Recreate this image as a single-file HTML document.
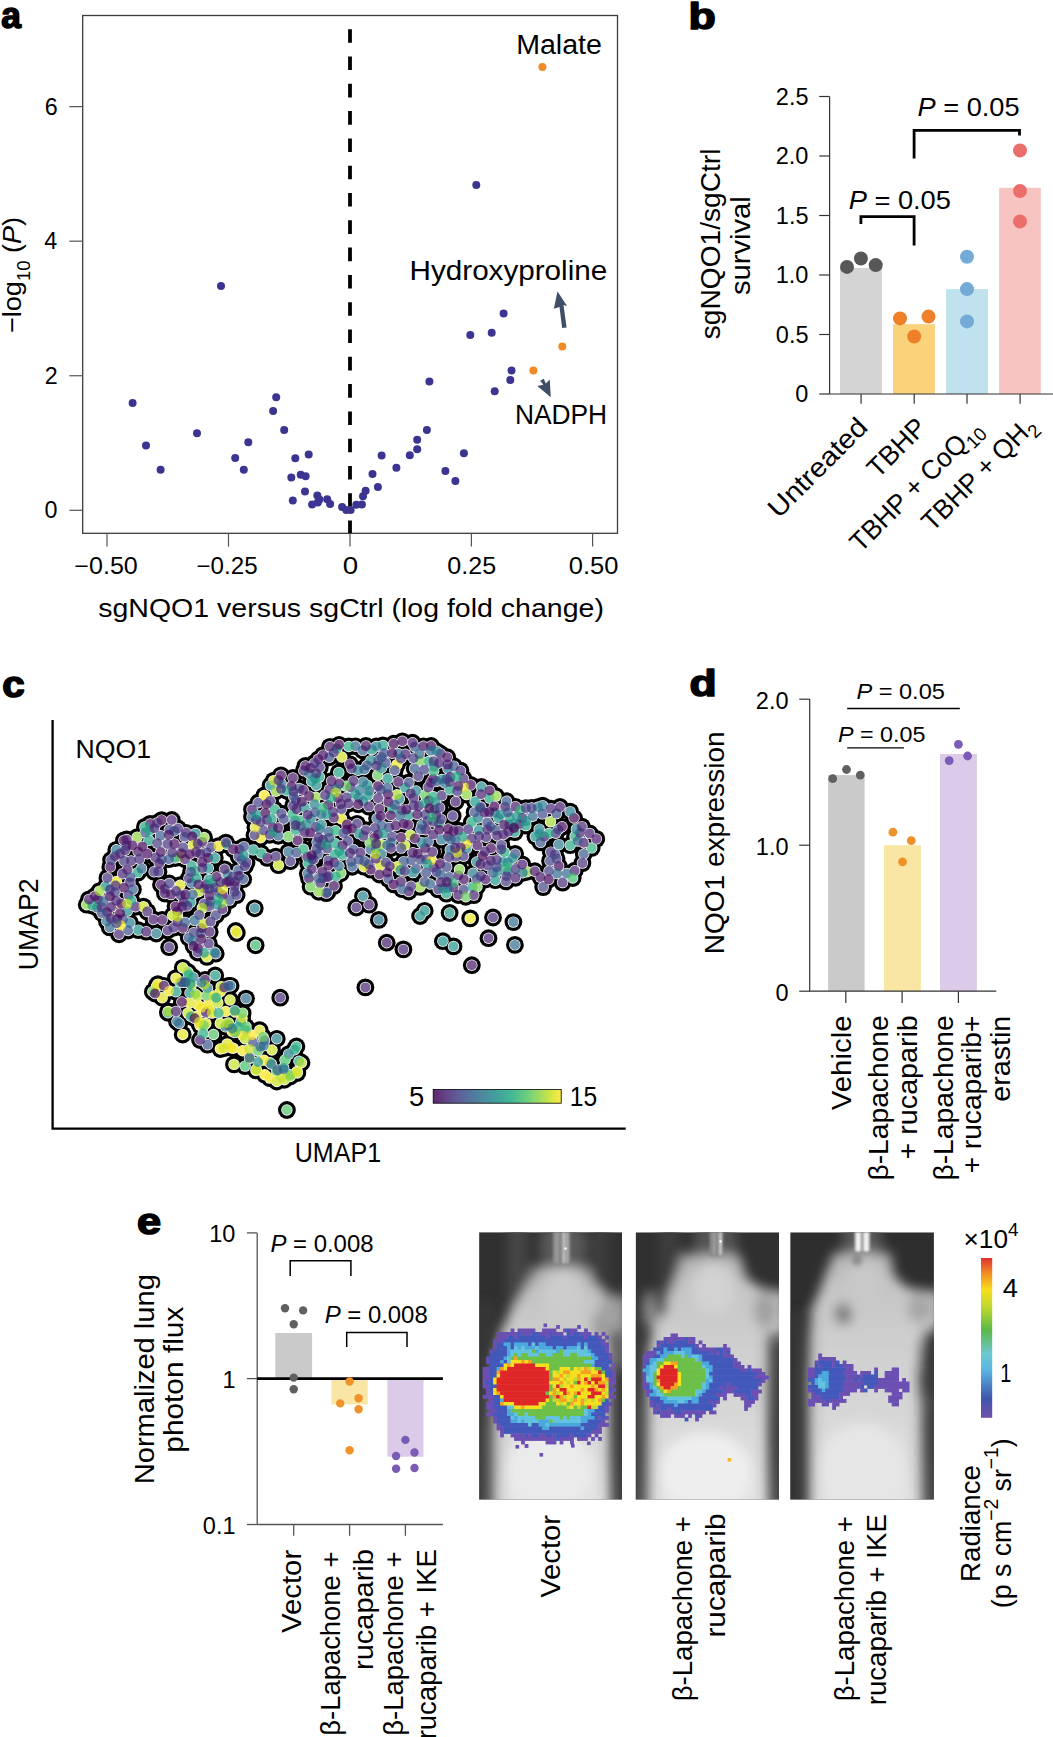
<!DOCTYPE html>
<html><head><meta charset="utf-8"><style>
html,body{margin:0;padding:0;background:#fff;}
svg{display:block;font-family:"Liberation Sans",sans-serif;}
</style></head><body>
<svg width="1053" height="1737" viewBox="0 0 1053 1737">
<defs><filter id="bl6" filterUnits="userSpaceOnUse" x="-100" y="-100" width="400" height="500"><feGaussianBlur stdDeviation="6"/></filter><filter id="bl3" filterUnits="userSpaceOnUse" x="-100" y="-100" width="400" height="500"><feGaussianBlur stdDeviation="3"/></filter><filter id="bl1" filterUnits="userSpaceOnUse" x="-100" y="-100" width="400" height="500"><feGaussianBlur stdDeviation="1"/></filter><clipPath id="cm0"><rect x="479.1" y="1232.2" width="142.9" height="267.4"/></clipPath><clipPath id="cm1"><rect x="635.6" y="1232.3" width="143.4" height="267.3"/></clipPath><clipPath id="cm2"><rect x="790.2" y="1232.3" width="143.7" height="267.3"/></clipPath><linearGradient id="bodyg" x1="0" y1="0" x2="0" y2="1"><stop offset="0.0" stop-color="#b0b0b0"/><stop offset="0.12" stop-color="#c4c4c4"/><stop offset="0.3" stop-color="#cdcdcd"/><stop offset="0.55" stop-color="#d5d5d5"/><stop offset="0.8" stop-color="#dedede"/><stop offset="1" stop-color="#e6e6e6"/></linearGradient><linearGradient id="edgeL" x1="0" y1="0" x2="1" y2="0"><stop offset="0" stop-color="#3a3a3a" stop-opacity="0.95"/><stop offset="1" stop-color="#3a3a3a" stop-opacity="0"/></linearGradient><linearGradient id="edgeR" x1="1" y1="0" x2="0" y2="0"><stop offset="0" stop-color="#3a3a3a" stop-opacity="0.95"/><stop offset="1" stop-color="#3a3a3a" stop-opacity="0"/></linearGradient><linearGradient id="rad" x1="0" y1="1" x2="0" y2="0"><stop offset="0" stop-color="#7050a8"/><stop offset="0.12" stop-color="#3f55ad"/><stop offset="0.3" stop-color="#5ab6e2"/><stop offset="0.4" stop-color="#6cc8d0"/><stop offset="0.55" stop-color="#5cb848"/><stop offset="0.68" stop-color="#b6d630"/><stop offset="0.8" stop-color="#f7df1e"/><stop offset="0.9" stop-color="#f39022"/><stop offset="1" stop-color="#e03131"/></linearGradient><linearGradient id="virg" x1="0" y1="0" x2="1" y2="0"><stop offset="0.0" stop-color="#440154"/><stop offset="0.1" stop-color="#482475"/><stop offset="0.2" stop-color="#414487"/><stop offset="0.3" stop-color="#355f8d"/><stop offset="0.4" stop-color="#2a788e"/><stop offset="0.5" stop-color="#21918c"/><stop offset="0.6" stop-color="#22a884"/><stop offset="0.7" stop-color="#44bf70"/><stop offset="0.8" stop-color="#7ad151"/><stop offset="0.9" stop-color="#bddf26"/><stop offset="1.0" stop-color="#fde725"/></linearGradient></defs>
<rect width="1053" height="1737" fill="#fff"/>
<text transform="translate(1.24,28.10) scale(0.9682,1)" font-size="36.50" font-weight="bold" stroke="#000" stroke-width="1.6" stroke-linejoin="round">a</text>
<rect x="82.7" y="15.5" width="534.8" height="517.8" fill="none" stroke="#3c3c3c" stroke-width="1.3"/>
<line x1="350" y1="29.2" x2="350" y2="533.3" stroke="#000" stroke-width="3.8" stroke-dasharray="13.6 13.7"/>
<line x1="69.3" y1="510.30" x2="82.7" y2="510.30" stroke="#555" stroke-width="1.2"/>
<text transform="translate(44.53,518.40) scale(1.0000,1)" font-size="23.30">0</text>
<line x1="69.3" y1="375.74" x2="82.7" y2="375.74" stroke="#555" stroke-width="1.2"/>
<text transform="translate(44.81,383.84) scale(1.0000,1)" font-size="23.30">2</text>
<line x1="69.3" y1="241.18" x2="82.7" y2="241.18" stroke="#555" stroke-width="1.2"/>
<text transform="translate(44.30,249.28) scale(1.0000,1)" font-size="23.30">4</text>
<line x1="69.3" y1="106.62" x2="82.7" y2="106.62" stroke="#555" stroke-width="1.2"/>
<text transform="translate(44.67,114.72) scale(1.0000,1)" font-size="23.30">6</text>
<line x1="107.0" y1="533.3" x2="107.0" y2="546.6" stroke="#555" stroke-width="1.2"/>
<text transform="translate(74.34,574.40) scale(1.0774,1)" font-size="23.30">−0.50</text>
<line x1="228.5" y1="533.3" x2="228.5" y2="546.6" stroke="#555" stroke-width="1.2"/>
<text transform="translate(196.49,574.40) scale(1.0369,1)" font-size="23.30">−0.25</text>
<line x1="350.0" y1="533.3" x2="350.0" y2="546.6" stroke="#555" stroke-width="1.2"/>
<text transform="translate(342.85,574.40) scale(1.1892,1)" font-size="23.30">0</text>
<line x1="471.4" y1="533.3" x2="471.4" y2="546.6" stroke="#555" stroke-width="1.2"/>
<text transform="translate(447.35,574.40) scale(1.0764,1)" font-size="23.30">0.25</text>
<line x1="592.6" y1="533.3" x2="592.6" y2="546.6" stroke="#555" stroke-width="1.2"/>
<text transform="translate(568.73,574.40) scale(1.0948,1)" font-size="23.30">0.50</text>
<text transform="translate(98.20,617.30) scale(1.1063,1)" font-size="25.80">sgNQO1 versus sgCtrl (log fold change)</text>
<text transform="translate(21.20,333.05) rotate(-90) scale(1.0420,1)" font-size="26.00" xml:space="preserve"><tspan x="0.00" y="0.00">−log</tspan><tspan x="49.88" y="8.58" font-size="17.68">10</tspan><tspan x="69.55" y="0.00"> (</tspan><tspan x="85.43" y="0.00" font-style="italic">P</tspan><tspan x="102.77" y="0.00">)</tspan></text>
<circle cx="132.6" cy="403.0" r="4" fill="#3b3591"/>
<circle cx="146.0" cy="445.5" r="4" fill="#3b3591"/>
<circle cx="160.6" cy="469.7" r="4" fill="#3b3591"/>
<circle cx="197.0" cy="433.2" r="4" fill="#3b3591"/>
<circle cx="235.2" cy="458.0" r="4" fill="#3b3591"/>
<circle cx="243.8" cy="469.7" r="4" fill="#3b3591"/>
<circle cx="248.3" cy="442.3" r="4" fill="#3b3591"/>
<circle cx="273.1" cy="411.0" r="4" fill="#3b3591"/>
<circle cx="276.2" cy="397.3" r="4" fill="#3b3591"/>
<circle cx="284.2" cy="430.1" r="4" fill="#3b3591"/>
<circle cx="295.3" cy="458.3" r="4" fill="#3b3591"/>
<circle cx="308.7" cy="454.6" r="4" fill="#3b3591"/>
<circle cx="291.3" cy="477.4" r="4" fill="#3b3591"/>
<circle cx="300.7" cy="474.8" r="4" fill="#3b3591"/>
<circle cx="305.6" cy="476.2" r="4" fill="#3b3591"/>
<circle cx="305.0" cy="491.6" r="4" fill="#3b3591"/>
<circle cx="292.8" cy="500.5" r="4" fill="#3b3591"/>
<circle cx="317.3" cy="495.6" r="4" fill="#3b3591"/>
<circle cx="319.4" cy="499.6" r="4" fill="#3b3591"/>
<circle cx="317.8" cy="502.6" r="4" fill="#3b3591"/>
<circle cx="312.1" cy="504.4" r="4" fill="#3b3591"/>
<circle cx="327.2" cy="499.3" r="4" fill="#3b3591"/>
<circle cx="330.1" cy="503.9" r="4" fill="#3b3591"/>
<circle cx="342.1" cy="507.0" r="4" fill="#3b3591"/>
<circle cx="346.3" cy="510.1" r="4" fill="#3b3591"/>
<circle cx="350.6" cy="510.1" r="4" fill="#3b3591"/>
<circle cx="356.3" cy="504.7" r="4" fill="#3b3591"/>
<circle cx="361.9" cy="504.4" r="4" fill="#3b3591"/>
<circle cx="363.0" cy="496.2" r="4" fill="#3b3591"/>
<circle cx="365.6" cy="490.8" r="4" fill="#3b3591"/>
<circle cx="377.9" cy="487.1" r="4" fill="#3b3591"/>
<circle cx="372.5" cy="474.0" r="4" fill="#3b3591"/>
<circle cx="381.6" cy="455.4" r="4" fill="#3b3591"/>
<circle cx="396.4" cy="467.7" r="4" fill="#3b3591"/>
<circle cx="409.8" cy="455.2" r="4" fill="#3b3591"/>
<circle cx="417.2" cy="449.2" r="4" fill="#3b3591"/>
<circle cx="417.2" cy="439.8" r="4" fill="#3b3591"/>
<circle cx="426.9" cy="430.1" r="4" fill="#3b3591"/>
<circle cx="429.4" cy="381.4" r="4" fill="#3b3591"/>
<circle cx="445.4" cy="471.1" r="4" fill="#3b3591"/>
<circle cx="455.4" cy="481.1" r="4" fill="#3b3591"/>
<circle cx="463.9" cy="453.2" r="4" fill="#3b3591"/>
<circle cx="494.7" cy="391.3" r="4" fill="#3b3591"/>
<circle cx="510.3" cy="379.9" r="4" fill="#3b3591"/>
<circle cx="511.5" cy="370.5" r="4" fill="#3b3591"/>
<circle cx="221.0" cy="286.0" r="4" fill="#3b3591"/>
<circle cx="476.3" cy="185.0" r="4" fill="#3b3591"/>
<circle cx="503.6" cy="313.4" r="4" fill="#3b3591"/>
<circle cx="470.3" cy="335.0" r="4" fill="#3b3591"/>
<circle cx="491.7" cy="332.8" r="4" fill="#3b3591"/>
<circle cx="542.4" cy="67.1" r="4" fill="#f08a24"/>
<circle cx="562.3" cy="346.4" r="4" fill="#f08a24"/>
<circle cx="533.4" cy="370.5" r="4" fill="#f08a24"/>
<text transform="translate(516.16,54.40) scale(1.0393,1)" font-size="27.50">Malate</text>
<text transform="translate(409.57,280.40) scale(1.0780,1)" font-size="27.50">Hydroxyproline</text>
<text transform="translate(514.94,423.70) scale(0.9581,1)" font-size="27.50">NADPH</text>
<polygon points="557.5,291.4 567.1,305.9 563.5,305.1 566.6,327.4 562.1,328 559.5,307.1 553.8,308.7" fill="#3e4f67"/>
<polygon points="540.1,380.8 543.8,378.8 545.8,383.6 549.7,379.4 550.8,397.2 537.3,386 543.4,384.8" fill="#3e4f67"/>
<text transform="translate(688.45,29.30) scale(1.2231,1)" font-size="36.50" font-weight="bold" stroke="#000" stroke-width="1.6" stroke-linejoin="round">b</text>
<line x1="819.2" y1="394.00" x2="829.6" y2="394.00" stroke="#333" stroke-width="1.2"/>
<text transform="translate(795.33,402.30) scale(1.0000,1)" font-size="23.50">0</text>
<line x1="819.2" y1="334.50" x2="829.6" y2="334.50" stroke="#333" stroke-width="1.2"/>
<text transform="translate(775.82,342.80) scale(1.0000,1)" font-size="23.50">0.5</text>
<line x1="819.2" y1="275.00" x2="829.6" y2="275.00" stroke="#333" stroke-width="1.2"/>
<text transform="translate(775.73,283.30) scale(1.0000,1)" font-size="23.50">1.0</text>
<line x1="819.2" y1="215.50" x2="829.6" y2="215.50" stroke="#333" stroke-width="1.2"/>
<text transform="translate(775.82,223.80) scale(1.0000,1)" font-size="23.50">1.5</text>
<line x1="819.2" y1="156.00" x2="829.6" y2="156.00" stroke="#333" stroke-width="1.2"/>
<text transform="translate(775.73,164.30) scale(1.0000,1)" font-size="23.50">2.0</text>
<line x1="819.2" y1="96.50" x2="829.6" y2="96.50" stroke="#333" stroke-width="1.2"/>
<text transform="translate(775.82,104.80) scale(1.0000,1)" font-size="23.50">2.5</text>
<rect x="840" y="268.0" width="41.9" height="126.0" fill="#d4d4d4"/>
<rect x="893" y="324.2" width="41.9" height="69.8" fill="#f9d27a"/>
<rect x="946.1" y="289.1" width="41.9" height="104.9" fill="#bfe2ee"/>
<rect x="999.1" y="187.8" width="41.7" height="206.2" fill="#f8c4c2"/>
<line x1="829.6" y1="96.4" x2="829.6" y2="394.0" stroke="#333" stroke-width="1.2"/>
<line x1="829.6" y1="394.0" x2="1053" y2="394.0" stroke="#333" stroke-width="1.2"/>
<line x1="861.1" y1="394.0" x2="861.1" y2="403.8" stroke="#333" stroke-width="1.2"/>
<line x1="914.2" y1="394.0" x2="914.2" y2="403.8" stroke="#333" stroke-width="1.2"/>
<line x1="967" y1="394.0" x2="967" y2="403.8" stroke="#333" stroke-width="1.2"/>
<line x1="1020.1" y1="394.0" x2="1020.1" y2="403.8" stroke="#333" stroke-width="1.2"/>
<circle cx="847" cy="266.9" r="7" fill="#575757"/>
<circle cx="860.9" cy="258.5" r="7" fill="#575757"/>
<circle cx="875.7" cy="265.1" r="7" fill="#575757"/>
<circle cx="900" cy="318.4" r="7" fill="#ee8029"/>
<circle cx="928.5" cy="316.6" r="7" fill="#ee8029"/>
<circle cx="914.2" cy="336.5" r="7" fill="#ee8029"/>
<circle cx="967" cy="256.8" r="7" fill="#74aad6"/>
<circle cx="967" cy="289.1" r="7" fill="#74aad6"/>
<circle cx="967" cy="321.4" r="7" fill="#74aad6"/>
<circle cx="1020" cy="150.4" r="7" fill="#ec6e6b"/>
<circle cx="1020" cy="191" r="7" fill="#ec6e6b"/>
<circle cx="1020" cy="221.4" r="7" fill="#ec6e6b"/>
<path d="M860.9,223.9 V216.7 H914.1 V245.4" fill="none" stroke="#000" stroke-width="2.8"/>
<path d="M914.1,158.4 V130.3 H1019.5 V135.6" fill="none" stroke="#000" stroke-width="2.8"/>
<text transform="translate(848.68,208.70) scale(1.0282,1)" font-size="26.50" xml:space="preserve"><tspan x="0.00" y="0.00" font-style="italic">P</tspan><tspan x="17.68" y="0.00"> = 0.05</tspan></text>
<text transform="translate(917.48,116.20) scale(1.0272,1)" font-size="26.50" xml:space="preserve"><tspan x="0.00" y="0.00" font-style="italic">P</tspan><tspan x="17.68" y="0.00"> = 0.05</tspan></text>
<text transform="translate(720.00,339.19) rotate(-90) scale(1.0420,1)" font-size="27.00">sgNQO1/sgCtrl</text>
<text transform="translate(749.60,295.02) rotate(-90) scale(1.0799,1)" font-size="27.00">survival</text>
<g clip-path="url(#cm0)"><g transform="translate(479.1,1232.2)"><rect width="143" height="268" fill="#303030"/><g filter="url(#bl6)"><rect x="28" y="-10" width="20" height="115" fill="#474747"/><rect x="112" y="-10" width="18" height="70" fill="#3c3c3c"/><ellipse cx="84" cy="14" rx="24" ry="26" fill="#5a5a5a"/><path d="M116,60 L150,64 L150,140 L126,130 Z" fill="#8c8c8c"/><path d="M8,285 L8,200 L12,130 L20,100 L32,80 L44,60 L52,44 L56,34 L108,34 L114,50 L126,62 L134,72 L132,110 L134,124 L134,200 L136,285 Z" fill="url(#bodyg)"/><ellipse cx="84" cy="62" rx="20" ry="26" fill="#cccccc"/><ellipse cx="130" cy="86" rx="12" ry="22" fill="#a2a2a2"/><ellipse cx="117" cy="96" rx="3" ry="14" fill="#858585"/><ellipse cx="70" cy="238" rx="44" ry="40" fill="#ebebeb"/></g><rect x="0" y="70" width="24" height="210" fill="url(#edgeL)" filter="url(#bl6)"/><rect x="124" y="100" width="20" height="180" fill="url(#edgeR)" filter="url(#bl6)"/><rect x="73.7" y="-4" width="17.5" height="36" fill="#8a8a8a" filter="url(#bl1)"/><rect x="77" y="0" width="1.5" height="31" fill="#aaaaaa" filter="url(#bl1)"/><rect x="83.8" y="0" width="2" height="31" fill="#d4d4d4" filter="url(#bl1)"/><rect x="87.2" y="0" width="1.6" height="31" fill="#c0c0c0" filter="url(#bl1)"/><circle cx="86.4" cy="16.4" r="1.4" fill="#f0f0f0"/></g></g>
<g clip-path="url(#cm1)"><g transform="translate(635.6,1232.3)"><rect width="144" height="268" fill="#303030"/><g filter="url(#bl6)"><rect x="24" y="-10" width="20" height="100" fill="#3c3c3c"/><ellipse cx="80" cy="8" rx="22" ry="22" fill="#555"/><path d="M6,285 L7,170 L10,112 L18,98 L24,78 L34,62 L42,40 L47,22 L104,22 L111,46 L126,56 L150,60 L150,100 L138,112 L136,200 L138,285 Z" fill="url(#bodyg)"/><ellipse cx="78" cy="56" rx="22" ry="26" fill="#d2d2d2"/><ellipse cx="14" cy="80" rx="7" ry="22" fill="#8e8e8e"/><ellipse cx="28" cy="70" rx="4" ry="16" fill="#5a5a5a"/><ellipse cx="130" cy="78" rx="12" ry="18" fill="#a0a0a0"/><ellipse cx="70" cy="240" rx="46" ry="40" fill="#eeeeee"/></g><rect x="0" y="90" width="20" height="190" fill="url(#edgeL)" filter="url(#bl6)"/><rect x="126" y="100" width="18" height="180" fill="url(#edgeR)" filter="url(#bl6)"/><rect x="74" y="-4" width="13.5" height="28" fill="#8a8a8a" filter="url(#bl1)"/><rect x="83.5" y="0" width="2.4" height="23" fill="#d0d0d0" filter="url(#bl1)"/><rect x="78" y="0" width="1.4" height="23" fill="#aaaaaa" filter="url(#bl1)"/><circle cx="85" cy="9.2" r="1.4" fill="#f0f0f0"/></g></g>
<g clip-path="url(#cm2)"><g transform="translate(790.2,1232.3)"><rect width="144" height="268" fill="#2e2e2e"/><g filter="url(#bl6)"><ellipse cx="72" cy="6" rx="20" ry="20" fill="#5a5a5a"/><path d="M16,285 L15,150 L17,104 L20,80 L28,62 L36,40 L44,20 L100,20 L104,44 L118,56 L150,60 L150,94 L138,100 L136,200 L138,285 Z" fill="url(#bodyg)"/><ellipse cx="74" cy="50" rx="20" ry="24" fill="#c8c8c8"/><ellipse cx="53" cy="82" rx="9" ry="11" fill="#7a7a7a"/><ellipse cx="130" cy="76" rx="13" ry="15" fill="#a6a6a6"/><ellipse cx="138" cy="135" rx="10" ry="38" fill="#3c3c3c"/><ellipse cx="72" cy="235" rx="44" ry="44" fill="#e6e6e6"/></g><rect x="0" y="80" width="28" height="200" fill="url(#edgeL)" filter="url(#bl6)"/><rect x="124" y="140" width="20" height="140" fill="url(#edgeR)" filter="url(#bl6)"/><ellipse cx="67" cy="28" rx="4" ry="5" fill="#707070" filter="url(#bl3)"/><rect x="64" y="-4" width="16" height="23" fill="#a0a0a0" filter="url(#bl1)"/><rect x="65.7" y="0" width="4.7" height="19" fill="#f4f4f4" filter="url(#bl1)"/><rect x="73.6" y="0" width="4.8" height="19" fill="#f4f4f4" filter="url(#bl1)"/></g></g>
<rect x="727.6" y="1458" width="3.5" height="3.5" fill="#f6b81d"/>
<rect x="556.10" y="1325.00" width="3.80" height="3.90" fill="#6b4fb3"/>
<rect x="577.10" y="1325.00" width="3.80" height="3.90" fill="#6b4fb3"/>
<rect x="510.60" y="1328.50" width="3.80" height="3.90" fill="#6b4fb3"/>
<rect x="517.60" y="1328.50" width="17.80" height="3.90" fill="#6b4fb3"/>
<rect x="542.10" y="1328.50" width="14.30" height="3.90" fill="#6b4fb3"/>
<rect x="563.10" y="1328.50" width="3.80" height="3.90" fill="#6b4fb3"/>
<rect x="566.60" y="1328.50" width="3.80" height="3.90" fill="#4259bb"/>
<rect x="570.10" y="1328.50" width="7.30" height="3.90" fill="#6b4fb3"/>
<rect x="584.10" y="1328.50" width="3.80" height="3.90" fill="#6b4fb3"/>
<rect x="496.60" y="1332.00" width="21.30" height="3.90" fill="#6b4fb3"/>
<rect x="517.60" y="1332.00" width="3.80" height="3.90" fill="#4259bb"/>
<rect x="521.10" y="1332.00" width="10.80" height="3.90" fill="#6b4fb3"/>
<rect x="531.60" y="1332.00" width="7.30" height="3.90" fill="#4259bb"/>
<rect x="538.60" y="1332.00" width="10.80" height="3.90" fill="#6b4fb3"/>
<rect x="549.10" y="1332.00" width="3.80" height="3.90" fill="#4259bb"/>
<rect x="552.60" y="1332.00" width="10.80" height="3.90" fill="#6b4fb3"/>
<rect x="566.60" y="1332.00" width="3.80" height="3.90" fill="#4259bb"/>
<rect x="570.10" y="1332.00" width="3.80" height="3.90" fill="#6b4fb3"/>
<rect x="573.60" y="1332.00" width="7.30" height="3.90" fill="#4259bb"/>
<rect x="580.60" y="1332.00" width="10.80" height="3.90" fill="#6b4fb3"/>
<rect x="594.60" y="1332.00" width="3.80" height="3.90" fill="#6b4fb3"/>
<rect x="601.60" y="1332.00" width="3.80" height="3.90" fill="#6b4fb3"/>
<rect x="496.60" y="1335.50" width="10.80" height="3.90" fill="#6b4fb3"/>
<rect x="507.10" y="1335.50" width="7.30" height="3.90" fill="#4259bb"/>
<rect x="514.10" y="1335.50" width="3.80" height="3.90" fill="#6b4fb3"/>
<rect x="517.60" y="1335.50" width="28.30" height="3.90" fill="#4259bb"/>
<rect x="545.60" y="1335.50" width="3.80" height="3.90" fill="#6b4fb3"/>
<rect x="549.10" y="1335.50" width="14.30" height="3.90" fill="#4259bb"/>
<rect x="563.10" y="1335.50" width="3.80" height="3.90" fill="#6b4fb3"/>
<rect x="566.60" y="1335.50" width="17.80" height="3.90" fill="#4259bb"/>
<rect x="584.10" y="1335.50" width="3.80" height="3.90" fill="#6b4fb3"/>
<rect x="587.60" y="1335.50" width="10.80" height="3.90" fill="#4259bb"/>
<rect x="598.10" y="1335.50" width="3.80" height="3.90" fill="#6b4fb3"/>
<rect x="605.10" y="1335.50" width="3.80" height="3.90" fill="#6b4fb3"/>
<rect x="493.10" y="1339.00" width="10.80" height="3.90" fill="#6b4fb3"/>
<rect x="503.60" y="1339.00" width="98.30" height="3.90" fill="#4259bb"/>
<rect x="601.60" y="1339.00" width="3.80" height="3.90" fill="#6b4fb3"/>
<rect x="493.10" y="1342.50" width="3.80" height="3.90" fill="#6b4fb3"/>
<rect x="496.60" y="1342.50" width="7.30" height="3.90" fill="#4259bb"/>
<rect x="503.60" y="1342.50" width="7.30" height="3.90" fill="#4aa8dc"/>
<rect x="510.60" y="1342.50" width="3.80" height="3.90" fill="#4259bb"/>
<rect x="514.10" y="1342.50" width="14.30" height="3.90" fill="#4aa8dc"/>
<rect x="528.10" y="1342.50" width="3.80" height="3.90" fill="#4259bb"/>
<rect x="531.60" y="1342.50" width="3.80" height="3.90" fill="#62c3e0"/>
<rect x="535.10" y="1342.50" width="3.80" height="3.90" fill="#4259bb"/>
<rect x="538.60" y="1342.50" width="7.30" height="3.90" fill="#4aa8dc"/>
<rect x="545.60" y="1342.50" width="31.80" height="3.90" fill="#4259bb"/>
<rect x="577.10" y="1342.50" width="3.80" height="3.90" fill="#4aa8dc"/>
<rect x="580.60" y="1342.50" width="3.80" height="3.90" fill="#4259bb"/>
<rect x="584.10" y="1342.50" width="3.80" height="3.90" fill="#4aa8dc"/>
<rect x="587.60" y="1342.50" width="14.30" height="3.90" fill="#4259bb"/>
<rect x="601.60" y="1342.50" width="7.30" height="3.90" fill="#6b4fb3"/>
<rect x="493.10" y="1346.00" width="3.80" height="3.90" fill="#6b4fb3"/>
<rect x="496.60" y="1346.00" width="10.80" height="3.90" fill="#4259bb"/>
<rect x="507.10" y="1346.00" width="3.80" height="3.90" fill="#4aa8dc"/>
<rect x="510.60" y="1346.00" width="3.80" height="3.90" fill="#4259bb"/>
<rect x="514.10" y="1346.00" width="3.80" height="3.90" fill="#62c3e0"/>
<rect x="517.60" y="1346.00" width="3.80" height="3.90" fill="#4aa8dc"/>
<rect x="521.10" y="1346.00" width="3.80" height="3.90" fill="#62c3e0"/>
<rect x="524.60" y="1346.00" width="10.80" height="3.90" fill="#4aa8dc"/>
<rect x="535.10" y="1346.00" width="3.80" height="3.90" fill="#62c3e0"/>
<rect x="538.60" y="1346.00" width="14.30" height="3.90" fill="#4aa8dc"/>
<rect x="552.60" y="1346.00" width="3.80" height="3.90" fill="#4259bb"/>
<rect x="556.10" y="1346.00" width="7.30" height="3.90" fill="#4aa8dc"/>
<rect x="563.10" y="1346.00" width="3.80" height="3.90" fill="#4259bb"/>
<rect x="566.60" y="1346.00" width="10.80" height="3.90" fill="#4aa8dc"/>
<rect x="577.10" y="1346.00" width="3.80" height="3.90" fill="#62c3e0"/>
<rect x="580.60" y="1346.00" width="3.80" height="3.90" fill="#4259bb"/>
<rect x="584.10" y="1346.00" width="3.80" height="3.90" fill="#62c3e0"/>
<rect x="587.60" y="1346.00" width="17.80" height="3.90" fill="#4259bb"/>
<rect x="605.10" y="1346.00" width="3.80" height="3.90" fill="#6b4fb3"/>
<rect x="489.60" y="1349.50" width="3.80" height="3.90" fill="#6b4fb3"/>
<rect x="493.10" y="1349.50" width="14.30" height="3.90" fill="#4259bb"/>
<rect x="507.10" y="1349.50" width="3.80" height="3.90" fill="#4aa8dc"/>
<rect x="510.60" y="1349.50" width="21.30" height="3.90" fill="#62c3e0"/>
<rect x="531.60" y="1349.50" width="3.80" height="3.90" fill="#6cbf47"/>
<rect x="535.10" y="1349.50" width="3.80" height="3.90" fill="#4aa8dc"/>
<rect x="538.60" y="1349.50" width="17.80" height="3.90" fill="#62c3e0"/>
<rect x="556.10" y="1349.50" width="3.80" height="3.90" fill="#4aa8dc"/>
<rect x="559.60" y="1349.50" width="3.80" height="3.90" fill="#6cbf47"/>
<rect x="563.10" y="1349.50" width="24.80" height="3.90" fill="#62c3e0"/>
<rect x="587.60" y="1349.50" width="3.80" height="3.90" fill="#4aa8dc"/>
<rect x="591.10" y="1349.50" width="14.30" height="3.90" fill="#4259bb"/>
<rect x="605.10" y="1349.50" width="3.80" height="3.90" fill="#6b4fb3"/>
<rect x="489.60" y="1353.00" width="17.80" height="3.90" fill="#4259bb"/>
<rect x="507.10" y="1353.00" width="3.80" height="3.90" fill="#4aa8dc"/>
<rect x="510.60" y="1353.00" width="3.80" height="3.90" fill="#62c3e0"/>
<rect x="514.10" y="1353.00" width="3.80" height="3.90" fill="#6cbf47"/>
<rect x="517.60" y="1353.00" width="3.80" height="3.90" fill="#62c3e0"/>
<rect x="521.10" y="1353.00" width="7.30" height="3.90" fill="#6cbf47"/>
<rect x="528.10" y="1353.00" width="10.80" height="3.90" fill="#62c3e0"/>
<rect x="538.60" y="1353.00" width="7.30" height="3.90" fill="#6cbf47"/>
<rect x="545.60" y="1353.00" width="7.30" height="3.90" fill="#62c3e0"/>
<rect x="552.60" y="1353.00" width="10.80" height="3.90" fill="#6cbf47"/>
<rect x="563.10" y="1353.00" width="7.30" height="3.90" fill="#62c3e0"/>
<rect x="570.10" y="1353.00" width="7.30" height="3.90" fill="#6cbf47"/>
<rect x="577.10" y="1353.00" width="14.30" height="3.90" fill="#62c3e0"/>
<rect x="591.10" y="1353.00" width="3.80" height="3.90" fill="#4aa8dc"/>
<rect x="594.60" y="1353.00" width="14.30" height="3.90" fill="#4259bb"/>
<rect x="608.60" y="1353.00" width="3.80" height="3.90" fill="#6b4fb3"/>
<rect x="486.10" y="1356.50" width="3.80" height="3.90" fill="#6b4fb3"/>
<rect x="489.60" y="1356.50" width="14.30" height="3.90" fill="#4259bb"/>
<rect x="503.60" y="1356.50" width="3.80" height="3.90" fill="#4aa8dc"/>
<rect x="507.10" y="1356.50" width="3.80" height="3.90" fill="#62c3e0"/>
<rect x="510.60" y="1356.50" width="3.80" height="3.90" fill="#6cbf47"/>
<rect x="514.10" y="1356.50" width="3.80" height="3.90" fill="#f4a21f"/>
<rect x="517.60" y="1356.50" width="73.80" height="3.90" fill="#6cbf47"/>
<rect x="591.10" y="1356.50" width="7.30" height="3.90" fill="#4aa8dc"/>
<rect x="598.10" y="1356.50" width="10.80" height="3.90" fill="#4259bb"/>
<rect x="608.60" y="1356.50" width="3.80" height="3.90" fill="#6b4fb3"/>
<rect x="486.10" y="1360.00" width="3.80" height="3.90" fill="#6b4fb3"/>
<rect x="489.60" y="1360.00" width="10.80" height="3.90" fill="#4259bb"/>
<rect x="500.10" y="1360.00" width="3.80" height="3.90" fill="#4aa8dc"/>
<rect x="503.60" y="1360.00" width="3.80" height="3.90" fill="#4259bb"/>
<rect x="507.10" y="1360.00" width="3.80" height="3.90" fill="#62c3e0"/>
<rect x="510.60" y="1360.00" width="10.80" height="3.90" fill="#f6df1d"/>
<rect x="521.10" y="1360.00" width="3.80" height="3.90" fill="#f4a21f"/>
<rect x="524.60" y="1360.00" width="3.80" height="3.90" fill="#f6df1d"/>
<rect x="528.10" y="1360.00" width="3.80" height="3.90" fill="#f4a21f"/>
<rect x="531.60" y="1360.00" width="52.80" height="3.90" fill="#6cbf47"/>
<rect x="584.10" y="1360.00" width="10.80" height="3.90" fill="#62c3e0"/>
<rect x="594.60" y="1360.00" width="17.80" height="3.90" fill="#4259bb"/>
<rect x="489.60" y="1363.50" width="14.30" height="3.90" fill="#4259bb"/>
<rect x="503.60" y="1363.50" width="3.80" height="3.90" fill="#f6df1d"/>
<rect x="507.10" y="1363.50" width="3.80" height="3.90" fill="#f4a21f"/>
<rect x="510.60" y="1363.50" width="3.80" height="3.90" fill="#f6df1d"/>
<rect x="514.10" y="1363.50" width="21.30" height="3.90" fill="#e02727"/>
<rect x="535.10" y="1363.50" width="14.30" height="3.90" fill="#f6df1d"/>
<rect x="549.10" y="1363.50" width="42.30" height="3.90" fill="#6cbf47"/>
<rect x="591.10" y="1363.50" width="3.80" height="3.90" fill="#4aa8dc"/>
<rect x="594.60" y="1363.50" width="14.30" height="3.90" fill="#4259bb"/>
<rect x="612.10" y="1363.50" width="3.80" height="3.90" fill="#6b4fb3"/>
<rect x="482.60" y="1367.00" width="7.30" height="3.90" fill="#6b4fb3"/>
<rect x="489.60" y="1367.00" width="7.30" height="3.90" fill="#4259bb"/>
<rect x="496.60" y="1367.00" width="3.80" height="3.90" fill="#4aa8dc"/>
<rect x="500.10" y="1367.00" width="3.80" height="3.90" fill="#f4a21f"/>
<rect x="503.60" y="1367.00" width="3.80" height="3.90" fill="#f6df1d"/>
<rect x="507.10" y="1367.00" width="38.80" height="3.90" fill="#e02727"/>
<rect x="545.60" y="1367.00" width="3.80" height="3.90" fill="#f6df1d"/>
<rect x="549.10" y="1367.00" width="10.80" height="3.90" fill="#6cbf47"/>
<rect x="559.60" y="1367.00" width="10.80" height="3.90" fill="#f6df1d"/>
<rect x="570.10" y="1367.00" width="3.80" height="3.90" fill="#6cbf47"/>
<rect x="573.60" y="1367.00" width="3.80" height="3.90" fill="#f6df1d"/>
<rect x="577.10" y="1367.00" width="3.80" height="3.90" fill="#c2d92e"/>
<rect x="580.60" y="1367.00" width="3.80" height="3.90" fill="#f6df1d"/>
<rect x="584.10" y="1367.00" width="3.80" height="3.90" fill="#f4a21f"/>
<rect x="587.60" y="1367.00" width="3.80" height="3.90" fill="#c2d92e"/>
<rect x="591.10" y="1367.00" width="3.80" height="3.90" fill="#f6df1d"/>
<rect x="594.60" y="1367.00" width="7.30" height="3.90" fill="#6cbf47"/>
<rect x="601.60" y="1367.00" width="7.30" height="3.90" fill="#4259bb"/>
<rect x="608.60" y="1367.00" width="3.80" height="3.90" fill="#6b4fb3"/>
<rect x="482.60" y="1370.50" width="7.30" height="3.90" fill="#6b4fb3"/>
<rect x="489.60" y="1370.50" width="7.30" height="3.90" fill="#4259bb"/>
<rect x="496.60" y="1370.50" width="3.80" height="3.90" fill="#f4a21f"/>
<rect x="500.10" y="1370.50" width="49.30" height="3.90" fill="#e02727"/>
<rect x="549.10" y="1370.50" width="3.80" height="3.90" fill="#6cbf47"/>
<rect x="552.60" y="1370.50" width="3.80" height="3.90" fill="#f6df1d"/>
<rect x="556.10" y="1370.50" width="3.80" height="3.90" fill="#c2d92e"/>
<rect x="559.60" y="1370.50" width="3.80" height="3.90" fill="#f6df1d"/>
<rect x="563.10" y="1370.50" width="7.30" height="3.90" fill="#f4a21f"/>
<rect x="570.10" y="1370.50" width="10.80" height="3.90" fill="#f6df1d"/>
<rect x="580.60" y="1370.50" width="10.80" height="3.90" fill="#f4a21f"/>
<rect x="591.10" y="1370.50" width="7.30" height="3.90" fill="#f6df1d"/>
<rect x="598.10" y="1370.50" width="3.80" height="3.90" fill="#e02727"/>
<rect x="601.60" y="1370.50" width="3.80" height="3.90" fill="#6cbf47"/>
<rect x="605.10" y="1370.50" width="7.30" height="3.90" fill="#4259bb"/>
<rect x="612.10" y="1370.50" width="3.80" height="3.90" fill="#6b4fb3"/>
<rect x="482.60" y="1374.00" width="7.30" height="3.90" fill="#6b4fb3"/>
<rect x="489.60" y="1374.00" width="7.30" height="3.90" fill="#4259bb"/>
<rect x="496.60" y="1374.00" width="3.80" height="3.90" fill="#f6df1d"/>
<rect x="500.10" y="1374.00" width="49.30" height="3.90" fill="#e02727"/>
<rect x="549.10" y="1374.00" width="3.80" height="3.90" fill="#6cbf47"/>
<rect x="552.60" y="1374.00" width="7.30" height="3.90" fill="#f6df1d"/>
<rect x="559.60" y="1374.00" width="3.80" height="3.90" fill="#f4a21f"/>
<rect x="563.10" y="1374.00" width="3.80" height="3.90" fill="#f6df1d"/>
<rect x="566.60" y="1374.00" width="3.80" height="3.90" fill="#c2d92e"/>
<rect x="570.10" y="1374.00" width="7.30" height="3.90" fill="#f6df1d"/>
<rect x="577.10" y="1374.00" width="3.80" height="3.90" fill="#f4a21f"/>
<rect x="580.60" y="1374.00" width="10.80" height="3.90" fill="#f6df1d"/>
<rect x="591.10" y="1374.00" width="10.80" height="3.90" fill="#f4a21f"/>
<rect x="601.60" y="1374.00" width="3.80" height="3.90" fill="#f6df1d"/>
<rect x="605.10" y="1374.00" width="7.30" height="3.90" fill="#4259bb"/>
<rect x="612.10" y="1374.00" width="3.80" height="3.90" fill="#6b4fb3"/>
<rect x="482.60" y="1377.50" width="7.30" height="3.90" fill="#6b4fb3"/>
<rect x="489.60" y="1377.50" width="3.80" height="3.90" fill="#4259bb"/>
<rect x="493.10" y="1377.50" width="3.80" height="3.90" fill="#f6df1d"/>
<rect x="496.60" y="1377.50" width="52.80" height="3.90" fill="#e02727"/>
<rect x="549.10" y="1377.50" width="3.80" height="3.90" fill="#6cbf47"/>
<rect x="552.60" y="1377.50" width="7.30" height="3.90" fill="#f4a21f"/>
<rect x="559.60" y="1377.50" width="3.80" height="3.90" fill="#f6df1d"/>
<rect x="563.10" y="1377.50" width="3.80" height="3.90" fill="#c2d92e"/>
<rect x="566.60" y="1377.50" width="7.30" height="3.90" fill="#f6df1d"/>
<rect x="573.60" y="1377.50" width="3.80" height="3.90" fill="#c2d92e"/>
<rect x="577.10" y="1377.50" width="3.80" height="3.90" fill="#f4a21f"/>
<rect x="580.60" y="1377.50" width="3.80" height="3.90" fill="#f6df1d"/>
<rect x="584.10" y="1377.50" width="3.80" height="3.90" fill="#e02727"/>
<rect x="587.60" y="1377.50" width="3.80" height="3.90" fill="#c2d92e"/>
<rect x="591.10" y="1377.50" width="10.80" height="3.90" fill="#e02727"/>
<rect x="601.60" y="1377.50" width="3.80" height="3.90" fill="#f6df1d"/>
<rect x="605.10" y="1377.50" width="3.80" height="3.90" fill="#f4a21f"/>
<rect x="608.60" y="1377.50" width="7.30" height="3.90" fill="#6b4fb3"/>
<rect x="482.60" y="1381.00" width="3.80" height="3.90" fill="#6b4fb3"/>
<rect x="486.10" y="1381.00" width="7.30" height="3.90" fill="#4259bb"/>
<rect x="493.10" y="1381.00" width="3.80" height="3.90" fill="#f6df1d"/>
<rect x="496.60" y="1381.00" width="52.80" height="3.90" fill="#e02727"/>
<rect x="549.10" y="1381.00" width="10.80" height="3.90" fill="#f6df1d"/>
<rect x="559.60" y="1381.00" width="3.80" height="3.90" fill="#f4a21f"/>
<rect x="563.10" y="1381.00" width="3.80" height="3.90" fill="#f6df1d"/>
<rect x="566.60" y="1381.00" width="3.80" height="3.90" fill="#c2d92e"/>
<rect x="570.10" y="1381.00" width="3.80" height="3.90" fill="#f6df1d"/>
<rect x="573.60" y="1381.00" width="3.80" height="3.90" fill="#6cbf47"/>
<rect x="577.10" y="1381.00" width="3.80" height="3.90" fill="#e02727"/>
<rect x="580.60" y="1381.00" width="3.80" height="3.90" fill="#f6df1d"/>
<rect x="584.10" y="1381.00" width="3.80" height="3.90" fill="#f4a21f"/>
<rect x="587.60" y="1381.00" width="3.80" height="3.90" fill="#e02727"/>
<rect x="591.10" y="1381.00" width="3.80" height="3.90" fill="#f6df1d"/>
<rect x="594.60" y="1381.00" width="3.80" height="3.90" fill="#e02727"/>
<rect x="598.10" y="1381.00" width="7.30" height="3.90" fill="#f4a21f"/>
<rect x="605.10" y="1381.00" width="3.80" height="3.90" fill="#c2d92e"/>
<rect x="608.60" y="1381.00" width="7.30" height="3.90" fill="#6b4fb3"/>
<rect x="482.60" y="1384.50" width="7.30" height="3.90" fill="#6b4fb3"/>
<rect x="489.60" y="1384.50" width="7.30" height="3.90" fill="#4259bb"/>
<rect x="496.60" y="1384.50" width="52.80" height="3.90" fill="#e02727"/>
<rect x="549.10" y="1384.50" width="3.80" height="3.90" fill="#6cbf47"/>
<rect x="552.60" y="1384.50" width="3.80" height="3.90" fill="#f6df1d"/>
<rect x="556.10" y="1384.50" width="3.80" height="3.90" fill="#e02727"/>
<rect x="559.60" y="1384.50" width="3.80" height="3.90" fill="#c2d92e"/>
<rect x="563.10" y="1384.50" width="7.30" height="3.90" fill="#f6df1d"/>
<rect x="570.10" y="1384.50" width="3.80" height="3.90" fill="#f4a21f"/>
<rect x="573.60" y="1384.50" width="17.80" height="3.90" fill="#f6df1d"/>
<rect x="591.10" y="1384.50" width="3.80" height="3.90" fill="#f4a21f"/>
<rect x="594.60" y="1384.50" width="3.80" height="3.90" fill="#f6df1d"/>
<rect x="598.10" y="1384.50" width="7.30" height="3.90" fill="#e02727"/>
<rect x="605.10" y="1384.50" width="3.80" height="3.90" fill="#c2d92e"/>
<rect x="608.60" y="1384.50" width="3.80" height="3.90" fill="#6b4fb3"/>
<rect x="486.10" y="1388.00" width="3.80" height="3.90" fill="#6b4fb3"/>
<rect x="489.60" y="1388.00" width="3.80" height="3.90" fill="#4259bb"/>
<rect x="493.10" y="1388.00" width="3.80" height="3.90" fill="#f6df1d"/>
<rect x="496.60" y="1388.00" width="52.80" height="3.90" fill="#e02727"/>
<rect x="549.10" y="1388.00" width="3.80" height="3.90" fill="#6cbf47"/>
<rect x="552.60" y="1388.00" width="3.80" height="3.90" fill="#f4a21f"/>
<rect x="556.10" y="1388.00" width="3.80" height="3.90" fill="#f6df1d"/>
<rect x="559.60" y="1388.00" width="7.30" height="3.90" fill="#e02727"/>
<rect x="566.60" y="1388.00" width="14.30" height="3.90" fill="#f6df1d"/>
<rect x="580.60" y="1388.00" width="3.80" height="3.90" fill="#f4a21f"/>
<rect x="584.10" y="1388.00" width="3.80" height="3.90" fill="#f6df1d"/>
<rect x="587.60" y="1388.00" width="7.30" height="3.90" fill="#e02727"/>
<rect x="594.60" y="1388.00" width="3.80" height="3.90" fill="#f4a21f"/>
<rect x="598.10" y="1388.00" width="3.80" height="3.90" fill="#f6df1d"/>
<rect x="601.60" y="1388.00" width="3.80" height="3.90" fill="#f4a21f"/>
<rect x="605.10" y="1388.00" width="3.80" height="3.90" fill="#f6df1d"/>
<rect x="608.60" y="1388.00" width="3.80" height="3.90" fill="#4259bb"/>
<rect x="612.10" y="1388.00" width="3.80" height="3.90" fill="#6b4fb3"/>
<rect x="486.10" y="1391.50" width="3.80" height="3.90" fill="#6b4fb3"/>
<rect x="489.60" y="1391.50" width="3.80" height="3.90" fill="#4259bb"/>
<rect x="493.10" y="1391.50" width="3.80" height="3.90" fill="#f6df1d"/>
<rect x="496.60" y="1391.50" width="3.80" height="3.90" fill="#f4a21f"/>
<rect x="500.10" y="1391.50" width="45.80" height="3.90" fill="#e02727"/>
<rect x="545.60" y="1391.50" width="3.80" height="3.90" fill="#6cbf47"/>
<rect x="549.10" y="1391.50" width="3.80" height="3.90" fill="#f6df1d"/>
<rect x="552.60" y="1391.50" width="3.80" height="3.90" fill="#f4a21f"/>
<rect x="556.10" y="1391.50" width="3.80" height="3.90" fill="#c2d92e"/>
<rect x="559.60" y="1391.50" width="3.80" height="3.90" fill="#f6df1d"/>
<rect x="563.10" y="1391.50" width="3.80" height="3.90" fill="#e02727"/>
<rect x="566.60" y="1391.50" width="3.80" height="3.90" fill="#f4a21f"/>
<rect x="570.10" y="1391.50" width="3.80" height="3.90" fill="#f6df1d"/>
<rect x="573.60" y="1391.50" width="3.80" height="3.90" fill="#f4a21f"/>
<rect x="577.10" y="1391.50" width="3.80" height="3.90" fill="#e02727"/>
<rect x="580.60" y="1391.50" width="10.80" height="3.90" fill="#f6df1d"/>
<rect x="591.10" y="1391.50" width="10.80" height="3.90" fill="#e02727"/>
<rect x="601.60" y="1391.50" width="3.80" height="3.90" fill="#f6df1d"/>
<rect x="605.10" y="1391.50" width="3.80" height="3.90" fill="#c2d92e"/>
<rect x="608.60" y="1391.50" width="3.80" height="3.90" fill="#6b4fb3"/>
<rect x="482.60" y="1395.00" width="10.80" height="3.90" fill="#6b4fb3"/>
<rect x="493.10" y="1395.00" width="7.30" height="3.90" fill="#4259bb"/>
<rect x="500.10" y="1395.00" width="3.80" height="3.90" fill="#f6df1d"/>
<rect x="503.60" y="1395.00" width="45.80" height="3.90" fill="#e02727"/>
<rect x="549.10" y="1395.00" width="3.80" height="3.90" fill="#6cbf47"/>
<rect x="552.60" y="1395.00" width="3.80" height="3.90" fill="#f4a21f"/>
<rect x="556.10" y="1395.00" width="3.80" height="3.90" fill="#e02727"/>
<rect x="559.60" y="1395.00" width="3.80" height="3.90" fill="#f4a21f"/>
<rect x="563.10" y="1395.00" width="3.80" height="3.90" fill="#c2d92e"/>
<rect x="566.60" y="1395.00" width="7.30" height="3.90" fill="#f6df1d"/>
<rect x="573.60" y="1395.00" width="3.80" height="3.90" fill="#6cbf47"/>
<rect x="577.10" y="1395.00" width="10.80" height="3.90" fill="#f6df1d"/>
<rect x="587.60" y="1395.00" width="7.30" height="3.90" fill="#e02727"/>
<rect x="594.60" y="1395.00" width="7.30" height="3.90" fill="#f6df1d"/>
<rect x="601.60" y="1395.00" width="3.80" height="3.90" fill="#f4a21f"/>
<rect x="605.10" y="1395.00" width="3.80" height="3.90" fill="#f6df1d"/>
<rect x="608.60" y="1395.00" width="7.30" height="3.90" fill="#6b4fb3"/>
<rect x="489.60" y="1398.50" width="3.80" height="3.90" fill="#6b4fb3"/>
<rect x="493.10" y="1398.50" width="7.30" height="3.90" fill="#4259bb"/>
<rect x="500.10" y="1398.50" width="3.80" height="3.90" fill="#4aa8dc"/>
<rect x="503.60" y="1398.50" width="42.30" height="3.90" fill="#e02727"/>
<rect x="545.60" y="1398.50" width="3.80" height="3.90" fill="#f6df1d"/>
<rect x="549.10" y="1398.50" width="3.80" height="3.90" fill="#6cbf47"/>
<rect x="552.60" y="1398.50" width="7.30" height="3.90" fill="#c2d92e"/>
<rect x="559.60" y="1398.50" width="7.30" height="3.90" fill="#f4a21f"/>
<rect x="566.60" y="1398.50" width="3.80" height="3.90" fill="#f6df1d"/>
<rect x="570.10" y="1398.50" width="3.80" height="3.90" fill="#c2d92e"/>
<rect x="573.60" y="1398.50" width="3.80" height="3.90" fill="#f4a21f"/>
<rect x="577.10" y="1398.50" width="3.80" height="3.90" fill="#f6df1d"/>
<rect x="580.60" y="1398.50" width="3.80" height="3.90" fill="#f4a21f"/>
<rect x="584.10" y="1398.50" width="3.80" height="3.90" fill="#c2d92e"/>
<rect x="587.60" y="1398.50" width="3.80" height="3.90" fill="#f6df1d"/>
<rect x="591.10" y="1398.50" width="3.80" height="3.90" fill="#c2d92e"/>
<rect x="594.60" y="1398.50" width="3.80" height="3.90" fill="#f6df1d"/>
<rect x="598.10" y="1398.50" width="3.80" height="3.90" fill="#f4a21f"/>
<rect x="601.60" y="1398.50" width="3.80" height="3.90" fill="#6cbf47"/>
<rect x="605.10" y="1398.50" width="3.80" height="3.90" fill="#4259bb"/>
<rect x="486.10" y="1402.00" width="7.30" height="3.90" fill="#6b4fb3"/>
<rect x="493.10" y="1402.00" width="7.30" height="3.90" fill="#4259bb"/>
<rect x="500.10" y="1402.00" width="3.80" height="3.90" fill="#f4a21f"/>
<rect x="503.60" y="1402.00" width="10.80" height="3.90" fill="#f6df1d"/>
<rect x="514.10" y="1402.00" width="24.80" height="3.90" fill="#e02727"/>
<rect x="538.60" y="1402.00" width="7.30" height="3.90" fill="#f6df1d"/>
<rect x="545.60" y="1402.00" width="10.80" height="3.90" fill="#6cbf47"/>
<rect x="556.10" y="1402.00" width="3.80" height="3.90" fill="#f6df1d"/>
<rect x="559.60" y="1402.00" width="3.80" height="3.90" fill="#c2d92e"/>
<rect x="563.10" y="1402.00" width="3.80" height="3.90" fill="#f6df1d"/>
<rect x="566.60" y="1402.00" width="3.80" height="3.90" fill="#6cbf47"/>
<rect x="570.10" y="1402.00" width="3.80" height="3.90" fill="#f4a21f"/>
<rect x="573.60" y="1402.00" width="7.30" height="3.90" fill="#f6df1d"/>
<rect x="580.60" y="1402.00" width="3.80" height="3.90" fill="#f4a21f"/>
<rect x="584.10" y="1402.00" width="17.80" height="3.90" fill="#f6df1d"/>
<rect x="601.60" y="1402.00" width="7.30" height="3.90" fill="#4259bb"/>
<rect x="608.60" y="1402.00" width="3.80" height="3.90" fill="#6b4fb3"/>
<rect x="486.10" y="1405.50" width="7.30" height="3.90" fill="#6b4fb3"/>
<rect x="493.10" y="1405.50" width="14.30" height="3.90" fill="#4259bb"/>
<rect x="507.10" y="1405.50" width="7.30" height="3.90" fill="#62c3e0"/>
<rect x="514.10" y="1405.50" width="7.30" height="3.90" fill="#f6df1d"/>
<rect x="521.10" y="1405.50" width="3.80" height="3.90" fill="#f4a21f"/>
<rect x="524.60" y="1405.50" width="17.80" height="3.90" fill="#f6df1d"/>
<rect x="542.10" y="1405.50" width="24.80" height="3.90" fill="#6cbf47"/>
<rect x="566.60" y="1405.50" width="3.80" height="3.90" fill="#c2d92e"/>
<rect x="570.10" y="1405.50" width="3.80" height="3.90" fill="#f6df1d"/>
<rect x="573.60" y="1405.50" width="3.80" height="3.90" fill="#6cbf47"/>
<rect x="577.10" y="1405.50" width="3.80" height="3.90" fill="#c2d92e"/>
<rect x="580.60" y="1405.50" width="7.30" height="3.90" fill="#6cbf47"/>
<rect x="587.60" y="1405.50" width="3.80" height="3.90" fill="#e02727"/>
<rect x="591.10" y="1405.50" width="7.30" height="3.90" fill="#c2d92e"/>
<rect x="598.10" y="1405.50" width="7.30" height="3.90" fill="#4259bb"/>
<rect x="605.10" y="1405.50" width="3.80" height="3.90" fill="#6b4fb3"/>
<rect x="489.60" y="1409.00" width="7.30" height="3.90" fill="#6b4fb3"/>
<rect x="496.60" y="1409.00" width="10.80" height="3.90" fill="#4259bb"/>
<rect x="507.10" y="1409.00" width="3.80" height="3.90" fill="#4aa8dc"/>
<rect x="510.60" y="1409.00" width="73.80" height="3.90" fill="#6cbf47"/>
<rect x="584.10" y="1409.00" width="3.80" height="3.90" fill="#62c3e0"/>
<rect x="587.60" y="1409.00" width="7.30" height="3.90" fill="#4aa8dc"/>
<rect x="594.60" y="1409.00" width="10.80" height="3.90" fill="#4259bb"/>
<rect x="605.10" y="1409.00" width="3.80" height="3.90" fill="#6b4fb3"/>
<rect x="486.10" y="1412.50" width="7.30" height="3.90" fill="#6b4fb3"/>
<rect x="493.10" y="1412.50" width="14.30" height="3.90" fill="#4259bb"/>
<rect x="507.10" y="1412.50" width="7.30" height="3.90" fill="#4aa8dc"/>
<rect x="514.10" y="1412.50" width="3.80" height="3.90" fill="#62c3e0"/>
<rect x="517.60" y="1412.50" width="7.30" height="3.90" fill="#6cbf47"/>
<rect x="524.60" y="1412.50" width="3.80" height="3.90" fill="#62c3e0"/>
<rect x="528.10" y="1412.50" width="56.30" height="3.90" fill="#6cbf47"/>
<rect x="584.10" y="1412.50" width="3.80" height="3.90" fill="#62c3e0"/>
<rect x="587.60" y="1412.50" width="3.80" height="3.90" fill="#4aa8dc"/>
<rect x="591.10" y="1412.50" width="14.30" height="3.90" fill="#4259bb"/>
<rect x="493.10" y="1416.00" width="3.80" height="3.90" fill="#6b4fb3"/>
<rect x="496.60" y="1416.00" width="14.30" height="3.90" fill="#4259bb"/>
<rect x="510.60" y="1416.00" width="3.80" height="3.90" fill="#62c3e0"/>
<rect x="514.10" y="1416.00" width="3.80" height="3.90" fill="#4aa8dc"/>
<rect x="517.60" y="1416.00" width="17.80" height="3.90" fill="#62c3e0"/>
<rect x="535.10" y="1416.00" width="10.80" height="3.90" fill="#6cbf47"/>
<rect x="545.60" y="1416.00" width="14.30" height="3.90" fill="#62c3e0"/>
<rect x="559.60" y="1416.00" width="3.80" height="3.90" fill="#6cbf47"/>
<rect x="563.10" y="1416.00" width="3.80" height="3.90" fill="#62c3e0"/>
<rect x="566.60" y="1416.00" width="3.80" height="3.90" fill="#6cbf47"/>
<rect x="570.10" y="1416.00" width="10.80" height="3.90" fill="#62c3e0"/>
<rect x="580.60" y="1416.00" width="14.30" height="3.90" fill="#4aa8dc"/>
<rect x="594.60" y="1416.00" width="3.80" height="3.90" fill="#4259bb"/>
<rect x="598.10" y="1416.00" width="3.80" height="3.90" fill="#6b4fb3"/>
<rect x="601.60" y="1416.00" width="3.80" height="3.90" fill="#4259bb"/>
<rect x="605.10" y="1416.00" width="3.80" height="3.90" fill="#6b4fb3"/>
<rect x="493.10" y="1419.50" width="3.80" height="3.90" fill="#6b4fb3"/>
<rect x="496.60" y="1419.50" width="14.30" height="3.90" fill="#4259bb"/>
<rect x="510.60" y="1419.50" width="7.30" height="3.90" fill="#4aa8dc"/>
<rect x="517.60" y="1419.50" width="3.80" height="3.90" fill="#62c3e0"/>
<rect x="521.10" y="1419.50" width="3.80" height="3.90" fill="#4aa8dc"/>
<rect x="524.60" y="1419.50" width="14.30" height="3.90" fill="#62c3e0"/>
<rect x="538.60" y="1419.50" width="10.80" height="3.90" fill="#4aa8dc"/>
<rect x="549.10" y="1419.50" width="3.80" height="3.90" fill="#6cbf47"/>
<rect x="552.60" y="1419.50" width="28.30" height="3.90" fill="#62c3e0"/>
<rect x="580.60" y="1419.50" width="7.30" height="3.90" fill="#4aa8dc"/>
<rect x="587.60" y="1419.50" width="14.30" height="3.90" fill="#4259bb"/>
<rect x="601.60" y="1419.50" width="3.80" height="3.90" fill="#6b4fb3"/>
<rect x="496.60" y="1423.00" width="3.80" height="3.90" fill="#6b4fb3"/>
<rect x="500.10" y="1423.00" width="28.30" height="3.90" fill="#4259bb"/>
<rect x="528.10" y="1423.00" width="3.80" height="3.90" fill="#62c3e0"/>
<rect x="531.60" y="1423.00" width="7.30" height="3.90" fill="#4259bb"/>
<rect x="538.60" y="1423.00" width="7.30" height="3.90" fill="#4aa8dc"/>
<rect x="545.60" y="1423.00" width="3.80" height="3.90" fill="#62c3e0"/>
<rect x="549.10" y="1423.00" width="31.80" height="3.90" fill="#4aa8dc"/>
<rect x="580.60" y="1423.00" width="17.80" height="3.90" fill="#4259bb"/>
<rect x="598.10" y="1423.00" width="10.80" height="3.90" fill="#6b4fb3"/>
<rect x="496.60" y="1426.50" width="7.30" height="3.90" fill="#6b4fb3"/>
<rect x="503.60" y="1426.50" width="38.80" height="3.90" fill="#4259bb"/>
<rect x="542.10" y="1426.50" width="7.30" height="3.90" fill="#4aa8dc"/>
<rect x="549.10" y="1426.50" width="31.80" height="3.90" fill="#4259bb"/>
<rect x="580.60" y="1426.50" width="3.80" height="3.90" fill="#4aa8dc"/>
<rect x="584.10" y="1426.50" width="14.30" height="3.90" fill="#4259bb"/>
<rect x="598.10" y="1426.50" width="3.80" height="3.90" fill="#6b4fb3"/>
<rect x="500.10" y="1430.00" width="3.80" height="3.90" fill="#6b4fb3"/>
<rect x="503.60" y="1430.00" width="87.80" height="3.90" fill="#4259bb"/>
<rect x="591.10" y="1430.00" width="10.80" height="3.90" fill="#6b4fb3"/>
<rect x="500.10" y="1433.50" width="3.80" height="3.90" fill="#6b4fb3"/>
<rect x="510.60" y="1433.50" width="14.30" height="3.90" fill="#6b4fb3"/>
<rect x="524.60" y="1433.50" width="3.80" height="3.90" fill="#4259bb"/>
<rect x="528.10" y="1433.50" width="3.80" height="3.90" fill="#6b4fb3"/>
<rect x="531.60" y="1433.50" width="7.30" height="3.90" fill="#4259bb"/>
<rect x="538.60" y="1433.50" width="7.30" height="3.90" fill="#6b4fb3"/>
<rect x="545.60" y="1433.50" width="7.30" height="3.90" fill="#4259bb"/>
<rect x="552.60" y="1433.50" width="3.80" height="3.90" fill="#6b4fb3"/>
<rect x="556.10" y="1433.50" width="14.30" height="3.90" fill="#4259bb"/>
<rect x="570.10" y="1433.50" width="3.80" height="3.90" fill="#6b4fb3"/>
<rect x="573.60" y="1433.50" width="14.30" height="3.90" fill="#4259bb"/>
<rect x="587.60" y="1433.50" width="3.80" height="3.90" fill="#6b4fb3"/>
<rect x="594.60" y="1433.50" width="3.80" height="3.90" fill="#6b4fb3"/>
<rect x="514.10" y="1437.00" width="42.30" height="3.90" fill="#6b4fb3"/>
<rect x="556.10" y="1437.00" width="3.80" height="3.90" fill="#4259bb"/>
<rect x="559.60" y="1437.00" width="14.30" height="3.90" fill="#6b4fb3"/>
<rect x="577.10" y="1437.00" width="10.80" height="3.90" fill="#6b4fb3"/>
<rect x="591.10" y="1437.00" width="3.80" height="3.90" fill="#6b4fb3"/>
<rect x="598.10" y="1437.00" width="3.80" height="3.90" fill="#6b4fb3"/>
<rect x="521.10" y="1440.50" width="3.80" height="3.90" fill="#6b4fb3"/>
<rect x="545.60" y="1440.50" width="10.80" height="3.90" fill="#6b4fb3"/>
<rect x="559.60" y="1440.50" width="3.80" height="3.90" fill="#6b4fb3"/>
<rect x="570.10" y="1440.50" width="3.80" height="3.90" fill="#6b4fb3"/>
<rect x="524.60" y="1444.00" width="3.80" height="3.90" fill="#6b4fb3"/>
<rect x="515.5" y="1445" width="3.6" height="3.6" fill="#6b4fb3"/>
<rect x="539.5" y="1453" width="3.6" height="3.6" fill="#6b4fb3"/>
<rect x="571" y="1444" width="3.6" height="3.6" fill="#6b4fb3"/>
<rect x="587" y="1441.5" width="3.6" height="3.6" fill="#6b4fb3"/>
<rect x="543.5" y="1323.5" width="3.6" height="3.6" fill="#6b4fb3"/>
<rect x="670.60" y="1333.50" width="7.30" height="3.90" fill="#6b4fb3"/>
<rect x="663.60" y="1337.00" width="21.30" height="3.90" fill="#6b4fb3"/>
<rect x="684.60" y="1337.00" width="3.80" height="3.90" fill="#4259bb"/>
<rect x="688.10" y="1337.00" width="7.30" height="3.90" fill="#6b4fb3"/>
<rect x="656.60" y="1340.50" width="3.80" height="3.90" fill="#4259bb"/>
<rect x="660.10" y="1340.50" width="3.80" height="3.90" fill="#6b4fb3"/>
<rect x="663.60" y="1340.50" width="3.80" height="3.90" fill="#4259bb"/>
<rect x="667.10" y="1340.50" width="7.30" height="3.90" fill="#6b4fb3"/>
<rect x="674.10" y="1340.50" width="14.30" height="3.90" fill="#4259bb"/>
<rect x="688.10" y="1340.50" width="7.30" height="3.90" fill="#6b4fb3"/>
<rect x="698.60" y="1340.50" width="3.80" height="3.90" fill="#6b4fb3"/>
<rect x="656.60" y="1344.00" width="3.80" height="3.90" fill="#6b4fb3"/>
<rect x="660.10" y="1344.00" width="35.30" height="3.90" fill="#4259bb"/>
<rect x="695.10" y="1344.00" width="3.80" height="3.90" fill="#6b4fb3"/>
<rect x="702.10" y="1344.00" width="3.80" height="3.90" fill="#6b4fb3"/>
<rect x="723.10" y="1344.00" width="3.80" height="3.90" fill="#6b4fb3"/>
<rect x="653.10" y="1347.50" width="10.80" height="3.90" fill="#4259bb"/>
<rect x="663.60" y="1347.50" width="3.80" height="3.90" fill="#4aa8dc"/>
<rect x="667.10" y="1347.50" width="7.30" height="3.90" fill="#4259bb"/>
<rect x="674.10" y="1347.50" width="3.80" height="3.90" fill="#4aa8dc"/>
<rect x="677.60" y="1347.50" width="3.80" height="3.90" fill="#4259bb"/>
<rect x="681.10" y="1347.50" width="10.80" height="3.90" fill="#4aa8dc"/>
<rect x="691.60" y="1347.50" width="7.30" height="3.90" fill="#4259bb"/>
<rect x="698.60" y="1347.50" width="17.80" height="3.90" fill="#6b4fb3"/>
<rect x="716.10" y="1347.50" width="7.30" height="3.90" fill="#4259bb"/>
<rect x="723.10" y="1347.50" width="7.30" height="3.90" fill="#6b4fb3"/>
<rect x="646.10" y="1351.00" width="10.80" height="3.90" fill="#6b4fb3"/>
<rect x="656.60" y="1351.00" width="3.80" height="3.90" fill="#4aa8dc"/>
<rect x="660.10" y="1351.00" width="3.80" height="3.90" fill="#4259bb"/>
<rect x="663.60" y="1351.00" width="10.80" height="3.90" fill="#4aa8dc"/>
<rect x="674.10" y="1351.00" width="10.80" height="3.90" fill="#62c3e0"/>
<rect x="684.60" y="1351.00" width="7.30" height="3.90" fill="#4aa8dc"/>
<rect x="691.60" y="1351.00" width="17.80" height="3.90" fill="#4259bb"/>
<rect x="709.10" y="1351.00" width="3.80" height="3.90" fill="#6b4fb3"/>
<rect x="712.60" y="1351.00" width="3.80" height="3.90" fill="#4259bb"/>
<rect x="716.10" y="1351.00" width="3.80" height="3.90" fill="#6b4fb3"/>
<rect x="719.60" y="1351.00" width="3.80" height="3.90" fill="#4259bb"/>
<rect x="723.10" y="1351.00" width="3.80" height="3.90" fill="#6b4fb3"/>
<rect x="726.60" y="1351.00" width="3.80" height="3.90" fill="#4259bb"/>
<rect x="642.60" y="1354.50" width="10.80" height="3.90" fill="#6b4fb3"/>
<rect x="653.10" y="1354.50" width="7.30" height="3.90" fill="#4259bb"/>
<rect x="660.10" y="1354.50" width="7.30" height="3.90" fill="#4aa8dc"/>
<rect x="667.10" y="1354.50" width="14.30" height="3.90" fill="#6cbf47"/>
<rect x="681.10" y="1354.50" width="3.80" height="3.90" fill="#62c3e0"/>
<rect x="684.60" y="1354.50" width="3.80" height="3.90" fill="#6cbf47"/>
<rect x="688.10" y="1354.50" width="3.80" height="3.90" fill="#4aa8dc"/>
<rect x="691.60" y="1354.50" width="7.30" height="3.90" fill="#62c3e0"/>
<rect x="698.60" y="1354.50" width="3.80" height="3.90" fill="#4aa8dc"/>
<rect x="702.10" y="1354.50" width="21.30" height="3.90" fill="#4259bb"/>
<rect x="723.10" y="1354.50" width="10.80" height="3.90" fill="#6b4fb3"/>
<rect x="642.60" y="1358.00" width="7.30" height="3.90" fill="#6b4fb3"/>
<rect x="649.60" y="1358.00" width="7.30" height="3.90" fill="#4aa8dc"/>
<rect x="656.60" y="1358.00" width="7.30" height="3.90" fill="#62c3e0"/>
<rect x="663.60" y="1358.00" width="31.80" height="3.90" fill="#6cbf47"/>
<rect x="695.10" y="1358.00" width="3.80" height="3.90" fill="#62c3e0"/>
<rect x="698.60" y="1358.00" width="3.80" height="3.90" fill="#4aa8dc"/>
<rect x="702.10" y="1358.00" width="31.80" height="3.90" fill="#4259bb"/>
<rect x="733.60" y="1358.00" width="3.80" height="3.90" fill="#6b4fb3"/>
<rect x="642.60" y="1361.50" width="3.80" height="3.90" fill="#6b4fb3"/>
<rect x="646.10" y="1361.50" width="3.80" height="3.90" fill="#4259bb"/>
<rect x="649.60" y="1361.50" width="3.80" height="3.90" fill="#4aa8dc"/>
<rect x="653.10" y="1361.50" width="3.80" height="3.90" fill="#62c3e0"/>
<rect x="656.60" y="1361.50" width="7.30" height="3.90" fill="#6cbf47"/>
<rect x="663.60" y="1361.50" width="7.30" height="3.90" fill="#f6df1d"/>
<rect x="670.60" y="1361.50" width="7.30" height="3.90" fill="#f4a21f"/>
<rect x="677.60" y="1361.50" width="24.80" height="3.90" fill="#6cbf47"/>
<rect x="702.10" y="1361.50" width="7.30" height="3.90" fill="#4aa8dc"/>
<rect x="709.10" y="1361.50" width="24.80" height="3.90" fill="#4259bb"/>
<rect x="733.60" y="1361.50" width="7.30" height="3.90" fill="#6b4fb3"/>
<rect x="642.60" y="1365.00" width="3.80" height="3.90" fill="#6b4fb3"/>
<rect x="646.10" y="1365.00" width="3.80" height="3.90" fill="#4aa8dc"/>
<rect x="649.60" y="1365.00" width="7.30" height="3.90" fill="#62c3e0"/>
<rect x="656.60" y="1365.00" width="3.80" height="3.90" fill="#6cbf47"/>
<rect x="660.10" y="1365.00" width="3.80" height="3.90" fill="#f6df1d"/>
<rect x="663.60" y="1365.00" width="10.80" height="3.90" fill="#e02727"/>
<rect x="674.10" y="1365.00" width="3.80" height="3.90" fill="#f6df1d"/>
<rect x="677.60" y="1365.00" width="24.80" height="3.90" fill="#6cbf47"/>
<rect x="702.10" y="1365.00" width="3.80" height="3.90" fill="#62c3e0"/>
<rect x="705.60" y="1365.00" width="7.30" height="3.90" fill="#4aa8dc"/>
<rect x="712.60" y="1365.00" width="21.30" height="3.90" fill="#4259bb"/>
<rect x="733.60" y="1365.00" width="10.80" height="3.90" fill="#6b4fb3"/>
<rect x="747.60" y="1365.00" width="3.80" height="3.90" fill="#6b4fb3"/>
<rect x="642.60" y="1368.50" width="7.30" height="3.90" fill="#4aa8dc"/>
<rect x="649.60" y="1368.50" width="7.30" height="3.90" fill="#62c3e0"/>
<rect x="656.60" y="1368.50" width="3.80" height="3.90" fill="#f6df1d"/>
<rect x="660.10" y="1368.50" width="17.80" height="3.90" fill="#e02727"/>
<rect x="677.60" y="1368.50" width="28.30" height="3.90" fill="#6cbf47"/>
<rect x="705.60" y="1368.50" width="3.80" height="3.90" fill="#62c3e0"/>
<rect x="709.10" y="1368.50" width="3.80" height="3.90" fill="#4aa8dc"/>
<rect x="712.60" y="1368.50" width="28.30" height="3.90" fill="#4259bb"/>
<rect x="740.60" y="1368.50" width="7.30" height="3.90" fill="#6b4fb3"/>
<rect x="747.60" y="1368.50" width="3.80" height="3.90" fill="#4259bb"/>
<rect x="751.10" y="1368.50" width="10.80" height="3.90" fill="#6b4fb3"/>
<rect x="642.60" y="1372.00" width="3.80" height="3.90" fill="#6b4fb3"/>
<rect x="646.10" y="1372.00" width="3.80" height="3.90" fill="#4aa8dc"/>
<rect x="649.60" y="1372.00" width="3.80" height="3.90" fill="#62c3e0"/>
<rect x="653.10" y="1372.00" width="3.80" height="3.90" fill="#6cbf47"/>
<rect x="656.60" y="1372.00" width="3.80" height="3.90" fill="#f6df1d"/>
<rect x="660.10" y="1372.00" width="17.80" height="3.90" fill="#e02727"/>
<rect x="677.60" y="1372.00" width="3.80" height="3.90" fill="#f6df1d"/>
<rect x="681.10" y="1372.00" width="24.80" height="3.90" fill="#6cbf47"/>
<rect x="705.60" y="1372.00" width="3.80" height="3.90" fill="#62c3e0"/>
<rect x="709.10" y="1372.00" width="49.30" height="3.90" fill="#4259bb"/>
<rect x="758.10" y="1372.00" width="7.30" height="3.90" fill="#6b4fb3"/>
<rect x="642.60" y="1375.50" width="3.80" height="3.90" fill="#6b4fb3"/>
<rect x="646.10" y="1375.50" width="7.30" height="3.90" fill="#62c3e0"/>
<rect x="653.10" y="1375.50" width="3.80" height="3.90" fill="#6cbf47"/>
<rect x="656.60" y="1375.50" width="21.30" height="3.90" fill="#e02727"/>
<rect x="677.60" y="1375.50" width="3.80" height="3.90" fill="#f6df1d"/>
<rect x="681.10" y="1375.50" width="24.80" height="3.90" fill="#6cbf47"/>
<rect x="705.60" y="1375.50" width="3.80" height="3.90" fill="#62c3e0"/>
<rect x="709.10" y="1375.50" width="3.80" height="3.90" fill="#4aa8dc"/>
<rect x="712.60" y="1375.50" width="42.30" height="3.90" fill="#4259bb"/>
<rect x="754.60" y="1375.50" width="14.30" height="3.90" fill="#6b4fb3"/>
<rect x="642.60" y="1379.00" width="3.80" height="3.90" fill="#6b4fb3"/>
<rect x="646.10" y="1379.00" width="7.30" height="3.90" fill="#62c3e0"/>
<rect x="653.10" y="1379.00" width="3.80" height="3.90" fill="#6cbf47"/>
<rect x="656.60" y="1379.00" width="3.80" height="3.90" fill="#f4a21f"/>
<rect x="660.10" y="1379.00" width="17.80" height="3.90" fill="#e02727"/>
<rect x="677.60" y="1379.00" width="3.80" height="3.90" fill="#f6df1d"/>
<rect x="681.10" y="1379.00" width="24.80" height="3.90" fill="#6cbf47"/>
<rect x="705.60" y="1379.00" width="3.80" height="3.90" fill="#4aa8dc"/>
<rect x="709.10" y="1379.00" width="3.80" height="3.90" fill="#62c3e0"/>
<rect x="712.60" y="1379.00" width="49.30" height="3.90" fill="#4259bb"/>
<rect x="761.60" y="1379.00" width="3.80" height="3.90" fill="#6b4fb3"/>
<rect x="642.60" y="1382.50" width="7.30" height="3.90" fill="#6b4fb3"/>
<rect x="649.60" y="1382.50" width="3.80" height="3.90" fill="#4aa8dc"/>
<rect x="653.10" y="1382.50" width="3.80" height="3.90" fill="#6cbf47"/>
<rect x="656.60" y="1382.50" width="3.80" height="3.90" fill="#f6df1d"/>
<rect x="660.10" y="1382.50" width="14.30" height="3.90" fill="#e02727"/>
<rect x="674.10" y="1382.50" width="3.80" height="3.90" fill="#f4a21f"/>
<rect x="677.60" y="1382.50" width="3.80" height="3.90" fill="#f6df1d"/>
<rect x="681.10" y="1382.50" width="21.30" height="3.90" fill="#6cbf47"/>
<rect x="702.10" y="1382.50" width="3.80" height="3.90" fill="#62c3e0"/>
<rect x="705.60" y="1382.50" width="3.80" height="3.90" fill="#4aa8dc"/>
<rect x="709.10" y="1382.50" width="17.80" height="3.90" fill="#4259bb"/>
<rect x="726.60" y="1382.50" width="3.80" height="3.90" fill="#6b4fb3"/>
<rect x="730.10" y="1382.50" width="28.30" height="3.90" fill="#4259bb"/>
<rect x="758.10" y="1382.50" width="3.80" height="3.90" fill="#6b4fb3"/>
<rect x="642.60" y="1386.00" width="3.80" height="3.90" fill="#6b4fb3"/>
<rect x="646.10" y="1386.00" width="3.80" height="3.90" fill="#4259bb"/>
<rect x="649.60" y="1386.00" width="3.80" height="3.90" fill="#4aa8dc"/>
<rect x="653.10" y="1386.00" width="3.80" height="3.90" fill="#62c3e0"/>
<rect x="656.60" y="1386.00" width="3.80" height="3.90" fill="#6cbf47"/>
<rect x="660.10" y="1386.00" width="3.80" height="3.90" fill="#f4a21f"/>
<rect x="663.60" y="1386.00" width="7.30" height="3.90" fill="#e02727"/>
<rect x="670.60" y="1386.00" width="7.30" height="3.90" fill="#f4a21f"/>
<rect x="677.60" y="1386.00" width="24.80" height="3.90" fill="#6cbf47"/>
<rect x="702.10" y="1386.00" width="3.80" height="3.90" fill="#62c3e0"/>
<rect x="705.60" y="1386.00" width="3.80" height="3.90" fill="#4aa8dc"/>
<rect x="709.10" y="1386.00" width="10.80" height="3.90" fill="#4259bb"/>
<rect x="719.60" y="1386.00" width="3.80" height="3.90" fill="#6b4fb3"/>
<rect x="723.10" y="1386.00" width="3.80" height="3.90" fill="#4259bb"/>
<rect x="726.60" y="1386.00" width="10.80" height="3.90" fill="#6b4fb3"/>
<rect x="737.10" y="1386.00" width="21.30" height="3.90" fill="#4259bb"/>
<rect x="646.10" y="1389.50" width="3.80" height="3.90" fill="#6b4fb3"/>
<rect x="649.60" y="1389.50" width="3.80" height="3.90" fill="#4259bb"/>
<rect x="653.10" y="1389.50" width="3.80" height="3.90" fill="#4aa8dc"/>
<rect x="656.60" y="1389.50" width="3.80" height="3.90" fill="#62c3e0"/>
<rect x="660.10" y="1389.50" width="3.80" height="3.90" fill="#6cbf47"/>
<rect x="663.60" y="1389.50" width="3.80" height="3.90" fill="#f6df1d"/>
<rect x="667.10" y="1389.50" width="3.80" height="3.90" fill="#f4a21f"/>
<rect x="670.60" y="1389.50" width="24.80" height="3.90" fill="#6cbf47"/>
<rect x="695.10" y="1389.50" width="7.30" height="3.90" fill="#62c3e0"/>
<rect x="702.10" y="1389.50" width="3.80" height="3.90" fill="#4aa8dc"/>
<rect x="705.60" y="1389.50" width="17.80" height="3.90" fill="#4259bb"/>
<rect x="723.10" y="1389.50" width="10.80" height="3.90" fill="#6b4fb3"/>
<rect x="733.60" y="1389.50" width="17.80" height="3.90" fill="#4259bb"/>
<rect x="751.10" y="1389.50" width="10.80" height="3.90" fill="#6b4fb3"/>
<rect x="646.10" y="1393.00" width="3.80" height="3.90" fill="#6b4fb3"/>
<rect x="649.60" y="1393.00" width="7.30" height="3.90" fill="#4aa8dc"/>
<rect x="656.60" y="1393.00" width="7.30" height="3.90" fill="#62c3e0"/>
<rect x="663.60" y="1393.00" width="31.80" height="3.90" fill="#6cbf47"/>
<rect x="695.10" y="1393.00" width="3.80" height="3.90" fill="#62c3e0"/>
<rect x="698.60" y="1393.00" width="3.80" height="3.90" fill="#4aa8dc"/>
<rect x="702.10" y="1393.00" width="14.30" height="3.90" fill="#4259bb"/>
<rect x="716.10" y="1393.00" width="10.80" height="3.90" fill="#6b4fb3"/>
<rect x="733.60" y="1393.00" width="10.80" height="3.90" fill="#6b4fb3"/>
<rect x="744.10" y="1393.00" width="7.30" height="3.90" fill="#4259bb"/>
<rect x="751.10" y="1393.00" width="7.30" height="3.90" fill="#6b4fb3"/>
<rect x="649.60" y="1396.50" width="10.80" height="3.90" fill="#4259bb"/>
<rect x="660.10" y="1396.50" width="7.30" height="3.90" fill="#4aa8dc"/>
<rect x="667.10" y="1396.50" width="24.80" height="3.90" fill="#62c3e0"/>
<rect x="691.60" y="1396.50" width="7.30" height="3.90" fill="#4aa8dc"/>
<rect x="698.60" y="1396.50" width="21.30" height="3.90" fill="#4259bb"/>
<rect x="723.10" y="1396.50" width="3.80" height="3.90" fill="#6b4fb3"/>
<rect x="740.60" y="1396.50" width="7.30" height="3.90" fill="#6b4fb3"/>
<rect x="747.60" y="1396.50" width="7.30" height="3.90" fill="#4259bb"/>
<rect x="754.60" y="1396.50" width="3.80" height="3.90" fill="#6b4fb3"/>
<rect x="649.60" y="1400.00" width="3.80" height="3.90" fill="#6b4fb3"/>
<rect x="653.10" y="1400.00" width="10.80" height="3.90" fill="#4259bb"/>
<rect x="663.60" y="1400.00" width="14.30" height="3.90" fill="#4aa8dc"/>
<rect x="677.60" y="1400.00" width="7.30" height="3.90" fill="#62c3e0"/>
<rect x="684.60" y="1400.00" width="3.80" height="3.90" fill="#4aa8dc"/>
<rect x="688.10" y="1400.00" width="3.80" height="3.90" fill="#4259bb"/>
<rect x="691.60" y="1400.00" width="7.30" height="3.90" fill="#4aa8dc"/>
<rect x="698.60" y="1400.00" width="10.80" height="3.90" fill="#4259bb"/>
<rect x="709.10" y="1400.00" width="3.80" height="3.90" fill="#6b4fb3"/>
<rect x="712.60" y="1400.00" width="3.80" height="3.90" fill="#4259bb"/>
<rect x="716.10" y="1400.00" width="3.80" height="3.90" fill="#6b4fb3"/>
<rect x="744.10" y="1400.00" width="10.80" height="3.90" fill="#6b4fb3"/>
<rect x="649.60" y="1403.50" width="3.80" height="3.90" fill="#6b4fb3"/>
<rect x="653.10" y="1403.50" width="3.80" height="3.90" fill="#4259bb"/>
<rect x="656.60" y="1403.50" width="3.80" height="3.90" fill="#6b4fb3"/>
<rect x="660.10" y="1403.50" width="14.30" height="3.90" fill="#4259bb"/>
<rect x="674.10" y="1403.50" width="3.80" height="3.90" fill="#4aa8dc"/>
<rect x="677.60" y="1403.50" width="35.30" height="3.90" fill="#4259bb"/>
<rect x="712.60" y="1403.50" width="3.80" height="3.90" fill="#6b4fb3"/>
<rect x="744.10" y="1403.50" width="7.30" height="3.90" fill="#6b4fb3"/>
<rect x="653.10" y="1407.00" width="7.30" height="3.90" fill="#6b4fb3"/>
<rect x="660.10" y="1407.00" width="7.30" height="3.90" fill="#4259bb"/>
<rect x="667.10" y="1407.00" width="3.80" height="3.90" fill="#6b4fb3"/>
<rect x="670.60" y="1407.00" width="42.30" height="3.90" fill="#4259bb"/>
<rect x="744.10" y="1407.00" width="3.80" height="3.90" fill="#6b4fb3"/>
<rect x="653.10" y="1410.50" width="3.80" height="3.90" fill="#6b4fb3"/>
<rect x="656.60" y="1410.50" width="3.80" height="3.90" fill="#4259bb"/>
<rect x="660.10" y="1410.50" width="14.30" height="3.90" fill="#6b4fb3"/>
<rect x="674.10" y="1410.50" width="7.30" height="3.90" fill="#4259bb"/>
<rect x="681.10" y="1410.50" width="24.80" height="3.90" fill="#6b4fb3"/>
<rect x="709.10" y="1410.50" width="7.30" height="3.90" fill="#6b4fb3"/>
<rect x="660.10" y="1414.00" width="10.80" height="3.90" fill="#6b4fb3"/>
<rect x="674.10" y="1414.00" width="10.80" height="3.90" fill="#6b4fb3"/>
<rect x="688.10" y="1414.00" width="3.80" height="3.90" fill="#6b4fb3"/>
<rect x="695.10" y="1414.00" width="3.80" height="3.90" fill="#4259bb"/>
<rect x="698.60" y="1414.00" width="3.80" height="3.90" fill="#6b4fb3"/>
<rect x="684.60" y="1417.50" width="3.80" height="3.90" fill="#4259bb"/>
<rect x="695.10" y="1417.50" width="3.80" height="3.90" fill="#6b4fb3"/>
<rect x="818.20" y="1353.50" width="3.80" height="3.90" fill="#6b4fb3"/>
<rect x="818.20" y="1357.00" width="17.80" height="3.90" fill="#6b4fb3"/>
<rect x="814.70" y="1360.50" width="3.80" height="3.90" fill="#6b4fb3"/>
<rect x="818.20" y="1360.50" width="14.30" height="3.90" fill="#4259bb"/>
<rect x="832.20" y="1360.50" width="3.80" height="3.90" fill="#6b4fb3"/>
<rect x="835.70" y="1360.50" width="3.80" height="3.90" fill="#4259bb"/>
<rect x="842.70" y="1360.50" width="3.80" height="3.90" fill="#6b4fb3"/>
<rect x="814.70" y="1364.00" width="3.80" height="3.90" fill="#4259bb"/>
<rect x="818.20" y="1364.00" width="3.80" height="3.90" fill="#6b4fb3"/>
<rect x="821.70" y="1364.00" width="10.80" height="3.90" fill="#4259bb"/>
<rect x="832.20" y="1364.00" width="3.80" height="3.90" fill="#6b4fb3"/>
<rect x="835.70" y="1364.00" width="7.30" height="3.90" fill="#4259bb"/>
<rect x="842.70" y="1364.00" width="10.80" height="3.90" fill="#6b4fb3"/>
<rect x="807.70" y="1367.50" width="7.30" height="3.90" fill="#6b4fb3"/>
<rect x="814.70" y="1367.50" width="31.80" height="3.90" fill="#4259bb"/>
<rect x="846.20" y="1367.50" width="7.30" height="3.90" fill="#6b4fb3"/>
<rect x="874.20" y="1367.50" width="3.80" height="3.90" fill="#6b4fb3"/>
<rect x="891.70" y="1367.50" width="7.30" height="3.90" fill="#6b4fb3"/>
<rect x="807.70" y="1371.00" width="7.30" height="3.90" fill="#6b4fb3"/>
<rect x="814.70" y="1371.00" width="7.30" height="3.90" fill="#4259bb"/>
<rect x="821.70" y="1371.00" width="7.30" height="3.90" fill="#4aa8dc"/>
<rect x="828.70" y="1371.00" width="14.30" height="3.90" fill="#4259bb"/>
<rect x="842.70" y="1371.00" width="14.30" height="3.90" fill="#6b4fb3"/>
<rect x="860.20" y="1371.00" width="10.80" height="3.90" fill="#6b4fb3"/>
<rect x="874.20" y="1371.00" width="3.80" height="3.90" fill="#4259bb"/>
<rect x="884.70" y="1371.00" width="14.30" height="3.90" fill="#6b4fb3"/>
<rect x="807.70" y="1374.50" width="7.30" height="3.90" fill="#6b4fb3"/>
<rect x="814.70" y="1374.50" width="3.80" height="3.90" fill="#4259bb"/>
<rect x="818.20" y="1374.50" width="10.80" height="3.90" fill="#4aa8dc"/>
<rect x="828.70" y="1374.50" width="17.80" height="3.90" fill="#4259bb"/>
<rect x="846.20" y="1374.50" width="10.80" height="3.90" fill="#6b4fb3"/>
<rect x="856.70" y="1374.50" width="3.80" height="3.90" fill="#4259bb"/>
<rect x="860.20" y="1374.50" width="3.80" height="3.90" fill="#6b4fb3"/>
<rect x="863.70" y="1374.50" width="14.30" height="3.90" fill="#4259bb"/>
<rect x="884.70" y="1374.50" width="14.30" height="3.90" fill="#6b4fb3"/>
<rect x="807.70" y="1378.00" width="7.30" height="3.90" fill="#4259bb"/>
<rect x="814.70" y="1378.00" width="3.80" height="3.90" fill="#4aa8dc"/>
<rect x="818.20" y="1378.00" width="3.80" height="3.90" fill="#62c3e0"/>
<rect x="821.70" y="1378.00" width="7.30" height="3.90" fill="#4aa8dc"/>
<rect x="828.70" y="1378.00" width="17.80" height="3.90" fill="#4259bb"/>
<rect x="846.20" y="1378.00" width="7.30" height="3.90" fill="#6b4fb3"/>
<rect x="853.20" y="1378.00" width="3.80" height="3.90" fill="#4259bb"/>
<rect x="856.70" y="1378.00" width="3.80" height="3.90" fill="#6b4fb3"/>
<rect x="860.20" y="1378.00" width="17.80" height="3.90" fill="#4259bb"/>
<rect x="877.70" y="1378.00" width="21.30" height="3.90" fill="#6b4fb3"/>
<rect x="902.20" y="1378.00" width="3.80" height="3.90" fill="#6b4fb3"/>
<rect x="811.20" y="1381.50" width="3.80" height="3.90" fill="#4259bb"/>
<rect x="814.70" y="1381.50" width="3.80" height="3.90" fill="#4aa8dc"/>
<rect x="818.20" y="1381.50" width="7.30" height="3.90" fill="#62c3e0"/>
<rect x="825.20" y="1381.50" width="3.80" height="3.90" fill="#4aa8dc"/>
<rect x="828.70" y="1381.50" width="14.30" height="3.90" fill="#4259bb"/>
<rect x="842.70" y="1381.50" width="21.30" height="3.90" fill="#6b4fb3"/>
<rect x="863.70" y="1381.50" width="14.30" height="3.90" fill="#4259bb"/>
<rect x="877.70" y="1381.50" width="31.80" height="3.90" fill="#6b4fb3"/>
<rect x="807.70" y="1385.00" width="10.80" height="3.90" fill="#4259bb"/>
<rect x="818.20" y="1385.00" width="7.30" height="3.90" fill="#62c3e0"/>
<rect x="825.20" y="1385.00" width="3.80" height="3.90" fill="#4aa8dc"/>
<rect x="828.70" y="1385.00" width="14.30" height="3.90" fill="#4259bb"/>
<rect x="842.70" y="1385.00" width="17.80" height="3.90" fill="#6b4fb3"/>
<rect x="860.20" y="1385.00" width="3.80" height="3.90" fill="#4259bb"/>
<rect x="867.20" y="1385.00" width="7.30" height="3.90" fill="#4259bb"/>
<rect x="874.20" y="1385.00" width="35.30" height="3.90" fill="#6b4fb3"/>
<rect x="807.70" y="1388.50" width="3.80" height="3.90" fill="#6b4fb3"/>
<rect x="811.20" y="1388.50" width="10.80" height="3.90" fill="#4259bb"/>
<rect x="821.70" y="1388.50" width="3.80" height="3.90" fill="#4aa8dc"/>
<rect x="825.20" y="1388.50" width="17.80" height="3.90" fill="#4259bb"/>
<rect x="842.70" y="1388.50" width="14.30" height="3.90" fill="#6b4fb3"/>
<rect x="860.20" y="1388.50" width="3.80" height="3.90" fill="#6b4fb3"/>
<rect x="863.70" y="1388.50" width="3.80" height="3.90" fill="#4259bb"/>
<rect x="874.20" y="1388.50" width="3.80" height="3.90" fill="#6b4fb3"/>
<rect x="884.70" y="1388.50" width="14.30" height="3.90" fill="#6b4fb3"/>
<rect x="902.20" y="1388.50" width="7.30" height="3.90" fill="#6b4fb3"/>
<rect x="811.20" y="1392.00" width="3.80" height="3.90" fill="#6b4fb3"/>
<rect x="814.70" y="1392.00" width="24.80" height="3.90" fill="#4259bb"/>
<rect x="839.20" y="1392.00" width="10.80" height="3.90" fill="#6b4fb3"/>
<rect x="891.70" y="1392.00" width="10.80" height="3.90" fill="#6b4fb3"/>
<rect x="811.20" y="1395.50" width="10.80" height="3.90" fill="#6b4fb3"/>
<rect x="821.70" y="1395.50" width="17.80" height="3.90" fill="#4259bb"/>
<rect x="839.20" y="1395.50" width="3.80" height="3.90" fill="#6b4fb3"/>
<rect x="888.20" y="1395.50" width="14.30" height="3.90" fill="#6b4fb3"/>
<rect x="807.70" y="1399.00" width="17.80" height="3.90" fill="#6b4fb3"/>
<rect x="825.20" y="1399.00" width="3.80" height="3.90" fill="#4259bb"/>
<rect x="828.70" y="1399.00" width="17.80" height="3.90" fill="#6b4fb3"/>
<rect x="888.20" y="1399.00" width="10.80" height="3.90" fill="#6b4fb3"/>
<rect x="807.70" y="1402.50" width="7.30" height="3.90" fill="#6b4fb3"/>
<rect x="821.70" y="1402.50" width="7.30" height="3.90" fill="#6b4fb3"/>
<rect x="832.20" y="1402.50" width="7.30" height="3.90" fill="#6b4fb3"/>
<rect x="891.70" y="1402.50" width="7.30" height="3.90" fill="#6b4fb3"/>
<rect x="832.20" y="1406.00" width="3.80" height="3.90" fill="#6b4fb3"/>
<rect x="981" y="1258" width="11.2" height="159.8" fill="url(#rad)"/>
<text transform="translate(689.62,696.40) scale(1.2183,1)" font-size="36.50" font-weight="bold" stroke="#000" stroke-width="1.6" stroke-linejoin="round">d</text>
<rect x="828.1" y="775.1" width="36.5" height="216.1" fill="#cacaca"/>
<rect x="884" y="845.2" width="36.9" height="146.0" fill="#f9e6a4"/>
<rect x="940" y="754.0" width="36.9" height="237.2" fill="#dccbe8"/>
<line x1="799.2" y1="991.20" x2="810" y2="991.20" stroke="#333" stroke-width="1.2"/>
<text transform="translate(775.43,1000.50) scale(1.0000,1)" font-size="23.50">0</text>
<line x1="799.2" y1="845.20" x2="810" y2="845.20" stroke="#333" stroke-width="1.2"/>
<text transform="translate(755.83,854.50) scale(1.0000,1)" font-size="23.50">1.0</text>
<line x1="799.2" y1="699.20" x2="810" y2="699.20" stroke="#333" stroke-width="1.2"/>
<text transform="translate(755.83,708.50) scale(1.0000,1)" font-size="23.50">2.0</text>
<line x1="809.7" y1="699.2" x2="809.7" y2="991.2" stroke="#333" stroke-width="1.2"/>
<line x1="809.7" y1="991.2" x2="996.3" y2="991.2" stroke="#333" stroke-width="1.2"/>
<line x1="845.8" y1="991.2" x2="845.8" y2="1002.9" stroke="#333" stroke-width="1.2"/>
<line x1="902.1" y1="991.2" x2="902.1" y2="1002.9" stroke="#333" stroke-width="1.2"/>
<line x1="958.4" y1="991.2" x2="958.4" y2="1002.9" stroke="#333" stroke-width="1.2"/>
<circle cx="832.7" cy="778.7" r="4.4" fill="#606060"/>
<circle cx="846.5" cy="769.5" r="4.4" fill="#606060"/>
<circle cx="860.3" cy="775.1" r="4.4" fill="#606060"/>
<circle cx="892.9" cy="832.2" r="4.4" fill="#f0922a"/>
<circle cx="911.3" cy="840.7" r="4.4" fill="#f0922a"/>
<circle cx="902.5" cy="861.9" r="4.4" fill="#f0922a"/>
<circle cx="958.4" cy="744.3" r="4.4" fill="#7a5bb5"/>
<circle cx="967.6" cy="756" r="4.4" fill="#7a5bb5"/>
<circle cx="949.2" cy="760.6" r="4.4" fill="#7a5bb5"/>
<line x1="847.2" y1="747.9" x2="903.9" y2="747.9" stroke="#000" stroke-width="1.3"/>
<line x1="847.2" y1="708.5" x2="959.8" y2="708.5" stroke="#000" stroke-width="1.3"/>
<text transform="translate(838.00,742.20) scale(1.0583,1)" font-size="22.00" xml:space="preserve"><tspan x="0.00" y="0.00" font-style="italic">P</tspan><tspan x="14.67" y="0.00"> = 0.05</tspan></text>
<text transform="translate(856.39,699.00) scale(1.0718,1)" font-size="22.00" xml:space="preserve"><tspan x="0.00" y="0.00" font-style="italic">P</tspan><tspan x="14.67" y="0.00"> = 0.05</tspan></text>
<text transform="translate(724.00,954.30) rotate(-90) scale(0.9845,1)" font-size="28.50">NQO1 expression</text>
<text transform="translate(850.90,1110.22) rotate(-90) scale(1.0503,1)" font-size="28.00">Vehicle</text>
<text transform="translate(888.00,1180.58) rotate(-90) scale(1.0085,1)" font-size="28.00">β-Lapachone</text>
<text transform="translate(916.70,1159.38) rotate(-90) scale(1.0237,1)" font-size="28.00">+ rucaparib</text>
<text transform="translate(952.80,1180.58) rotate(-90) scale(1.0085,1)" font-size="28.00">β-Lapachone</text>
<text transform="translate(980.60,1173.35) rotate(-90) scale(1.0036,1)" font-size="28.00">+ rucaparib+</text>
<text transform="translate(1010.20,1101.70) rotate(-90) scale(1.0223,1)" font-size="28.00">erastin</text>
<text transform="translate(136.95,1234.10) scale(1.1887,1)" font-size="36.50" font-weight="bold" stroke="#000" stroke-width="1.6" stroke-linejoin="round">e</text>
<rect x="275.3" y="1333.0" width="36.8" height="45.6" fill="#cacaca"/>
<rect x="331.5" y="1378.6" width="36.2" height="25.8" fill="#f9e6a4"/>
<rect x="387.4" y="1378.6" width="36.1" height="78.1" fill="#dccbe8"/>
<line x1="246.9" y1="1232.9" x2="257.2" y2="1232.9" stroke="#555" stroke-width="1.3"/>
<text transform="translate(209.16,1242.20) scale(1.0000,1)" font-size="23.50">10</text>
<line x1="246.9" y1="1378.6" x2="257.2" y2="1378.6" stroke="#555" stroke-width="1.3"/>
<text transform="translate(222.46,1387.90) scale(1.0000,1)" font-size="23.50">1</text>
<line x1="246.9" y1="1524.5" x2="257.2" y2="1524.5" stroke="#555" stroke-width="1.3"/>
<text transform="translate(202.86,1533.80) scale(1.0000,1)" font-size="23.50">0.1</text>
<line x1="257.2" y1="1232.9" x2="257.2" y2="1524.5" stroke="#555" stroke-width="1.3"/>
<line x1="257.2" y1="1524.5" x2="442.9" y2="1524.5" stroke="#555" stroke-width="1.3"/>
<line x1="293.7" y1="1524.5" x2="293.7" y2="1535.8" stroke="#555" stroke-width="1.3"/>
<line x1="349.6" y1="1524.5" x2="349.6" y2="1535.8" stroke="#555" stroke-width="1.3"/>
<line x1="405.4" y1="1524.5" x2="405.4" y2="1535.8" stroke="#555" stroke-width="1.3"/>
<line x1="257.2" y1="1378.6" x2="442.9" y2="1378.6" stroke="#000" stroke-width="2.6"/>
<circle cx="285" cy="1308.2" r="4.2" fill="#606060"/>
<circle cx="303.1" cy="1310.4" r="4.2" fill="#606060"/>
<circle cx="293.7" cy="1324.3" r="4.2" fill="#606060"/>
<circle cx="293.7" cy="1377.6" r="4.2" fill="#606060"/>
<circle cx="293.7" cy="1389.2" r="4.2" fill="#606060"/>
<circle cx="349.6" cy="1381.5" r="4.2" fill="#f0922a"/>
<circle cx="340.2" cy="1403.4" r="4.2" fill="#f0922a"/>
<circle cx="358.6" cy="1398.3" r="4.2" fill="#f0922a"/>
<circle cx="358.6" cy="1409.2" r="4.2" fill="#f0922a"/>
<circle cx="349.6" cy="1450.2" r="4.2" fill="#f0922a"/>
<circle cx="405.4" cy="1439.9" r="4.2" fill="#7a5bb5"/>
<circle cx="396.1" cy="1456" r="4.2" fill="#7a5bb5"/>
<circle cx="414.5" cy="1452.5" r="4.2" fill="#7a5bb5"/>
<circle cx="396.1" cy="1468.7" r="4.2" fill="#7a5bb5"/>
<circle cx="414.5" cy="1468" r="4.2" fill="#7a5bb5"/>
<path d="M290.2,1275.9 V1260.7 H350.9 V1275.9" fill="none" stroke="#000" stroke-width="1.5"/>
<path d="M346.7,1346.9 V1332.4 H407 V1346.9" fill="none" stroke="#000" stroke-width="1.5"/>
<text transform="translate(270.38,1251.70) scale(0.9976,1)" font-size="24.00" xml:space="preserve"><tspan x="0.00" y="0.00" font-style="italic">P</tspan><tspan x="16.01" y="0.00"> = 0.008</tspan></text>
<text transform="translate(324.68,1323.30) scale(0.9967,1)" font-size="24.00" xml:space="preserve"><tspan x="0.00" y="0.00" font-style="italic">P</tspan><tspan x="16.01" y="0.00"> = 0.008</tspan></text>
<text transform="translate(154.00,1484.29) rotate(-90) scale(1.0209,1)" font-size="28.50">Normalized lung</text>
<text transform="translate(183.10,1452.71) rotate(-90) scale(1.0477,1)" font-size="28.50">photon flux</text>
<text transform="translate(300.80,1632.92) rotate(-90) scale(1.0471,1)" font-size="28.00">Vector</text>
<text transform="translate(340.10,1735.72) rotate(-90) scale(0.9794,1)" font-size="28.00">β-Lapachone +</text>
<text transform="translate(373.40,1669.91) rotate(-90) scale(1.0354,1)" font-size="28.00">rucaparib</text>
<text transform="translate(403.30,1735.72) rotate(-90) scale(0.9794,1)" font-size="28.00">β-Lapachone +</text>
<text transform="translate(436.20,1739.31) rotate(-90) scale(0.9815,1)" font-size="28.00">rucaparib + IKE</text>
<text transform="translate(559.90,1597.82) rotate(-90) scale(1.0250,1)" font-size="28.50">Vector</text>
<text transform="translate(691.60,1701.33) rotate(-90) scale(0.9681,1)" font-size="28.50">β-Lapachone +</text>
<text transform="translate(725.00,1637.56) rotate(-90) scale(1.0440,1)" font-size="28.50">rucaparib</text>
<text transform="translate(853.60,1701.33) rotate(-90) scale(0.9681,1)" font-size="28.50">β-Lapachone +</text>
<text transform="translate(885.80,1705.22) rotate(-90) scale(0.9689,1)" font-size="28.50">rucaparib + IKE</text>
<text transform="translate(1002.80,1296.90) scale(1.0490,1)" font-size="26.00">4</text>
<text transform="translate(1000.19,1381.50) scale(0.7657,1)" font-size="26.00">1</text>
<text transform="translate(963.56,1247.60) scale(1.0083,1)" font-size="26.00" xml:space="preserve"><tspan x="0.00" y="0.00">×10</tspan><tspan x="44.10" y="-11.70" font-size="18.72">4</tspan></text>
<text transform="translate(979.80,1581.97) rotate(-90) scale(0.9883,1)" font-size="28.00">Radiance</text>
<text transform="translate(1010.50,1608.26) rotate(-90) scale(0.9534,1)" font-size="28.00" xml:space="preserve"><tspan x="0.00" y="0.00">(p s cm</tspan><tspan x="91.78" y="-12.60" font-size="20.16">−2</tspan><tspan x="114.77" y="0.00"> sr</tspan><tspan x="145.87" y="-12.60" font-size="20.16">−1</tspan><tspan x="168.85" y="0.00">)</tspan></text>
<g fill="#000"><circle cx="353.3" cy="781.1" r="8.9"/><circle cx="420.1" cy="886.9" r="8.9"/><circle cx="225.5" cy="1026.8" r="8.9"/><circle cx="191.6" cy="882.9" r="8.9"/><circle cx="434.5" cy="809.6" r="8.9"/><circle cx="246.1" cy="1030.2" r="8.9"/><circle cx="431.1" cy="746.0" r="8.9"/><circle cx="377.1" cy="818.5" r="8.9"/><circle cx="498.5" cy="818.3" r="8.9"/><circle cx="381.2" cy="853.9" r="8.9"/><circle cx="280.9" cy="1077.1" r="8.9"/><circle cx="264.5" cy="1040.5" r="8.9"/><circle cx="191.3" cy="984.9" r="8.9"/><circle cx="353.3" cy="849.5" r="8.9"/><circle cx="288.4" cy="851.9" r="8.9"/><circle cx="107.1" cy="912.2" r="8.9"/><circle cx="169.3" cy="829.7" r="8.9"/><circle cx="182.9" cy="927.9" r="8.9"/><circle cx="238.3" cy="870.3" r="8.9"/><circle cx="418.2" cy="776.2" r="8.9"/><circle cx="288.7" cy="1054.1" r="8.9"/><circle cx="235.0" cy="1012.0" r="8.9"/><circle cx="471.8" cy="965.2" r="8.9"/><circle cx="527.0" cy="871.8" r="8.9"/><circle cx="448.1" cy="828.9" r="8.9"/><circle cx="177.5" cy="921.7" r="8.9"/><circle cx="274.4" cy="809.4" r="8.9"/><circle cx="309.0" cy="878.5" r="8.9"/><circle cx="478.8" cy="830.1" r="8.9"/><circle cx="215.7" cy="953.7" r="8.9"/><circle cx="449.0" cy="877.1" r="8.9"/><circle cx="403.7" cy="861.6" r="8.9"/><circle cx="299.2" cy="788.4" r="8.9"/><circle cx="179.6" cy="857.3" r="8.9"/><circle cx="158.5" cy="871.8" r="8.9"/><circle cx="270.6" cy="785.4" r="8.9"/><circle cx="490.5" cy="826.5" r="8.9"/><circle cx="370.7" cy="869.7" r="8.9"/><circle cx="494.6" cy="812.6" r="8.9"/><circle cx="405.4" cy="754.2" r="8.9"/><circle cx="288.3" cy="836.8" r="8.9"/><circle cx="256.0" cy="1070.4" r="8.9"/><circle cx="240.9" cy="1021.7" r="8.9"/><circle cx="356.3" cy="907.5" r="8.9"/><circle cx="515.5" cy="869.1" r="8.9"/><circle cx="453.7" cy="766.1" r="8.9"/><circle cx="245.1" cy="1066.1" r="8.9"/><circle cx="129.9" cy="922.9" r="8.9"/><circle cx="430.9" cy="782.8" r="8.9"/><circle cx="227.2" cy="1043.9" r="8.9"/><circle cx="200.2" cy="853.8" r="8.9"/><circle cx="479.0" cy="836.2" r="8.9"/><circle cx="428.8" cy="761.4" r="8.9"/><circle cx="135.5" cy="906.8" r="8.9"/><circle cx="433.5" cy="867.4" r="8.9"/><circle cx="206.6" cy="852.4" r="8.9"/><circle cx="315.0" cy="778.4" r="8.9"/><circle cx="436.6" cy="871.9" r="8.9"/><circle cx="222.6" cy="895.2" r="8.9"/><circle cx="220.3" cy="1023.4" r="8.9"/><circle cx="334.5" cy="843.2" r="8.9"/><circle cx="422.0" cy="825.1" r="8.9"/><circle cx="322.3" cy="871.9" r="8.9"/><circle cx="378.1" cy="786.2" r="8.9"/><circle cx="534.8" cy="871.2" r="8.9"/><circle cx="360.3" cy="852.8" r="8.9"/><circle cx="183.7" cy="902.1" r="8.9"/><circle cx="540.3" cy="877.1" r="8.9"/><circle cx="316.3" cy="785.5" r="8.9"/><circle cx="231.1" cy="1047.7" r="8.9"/><circle cx="328.6" cy="876.0" r="8.9"/><circle cx="403.7" cy="823.7" r="8.9"/><circle cx="179.3" cy="1023.4" r="8.9"/><circle cx="370.9" cy="760.6" r="8.9"/><circle cx="281.2" cy="783.7" r="8.9"/><circle cx="358.1" cy="770.2" r="8.9"/><circle cx="338.0" cy="797.9" r="8.9"/><circle cx="397.2" cy="866.6" r="8.9"/><circle cx="438.2" cy="889.4" r="8.9"/><circle cx="177.4" cy="911.4" r="8.9"/><circle cx="556.4" cy="813.6" r="8.9"/><circle cx="489.6" cy="798.1" r="8.9"/><circle cx="329.2" cy="757.3" r="8.9"/><circle cx="327.7" cy="877.2" r="8.9"/><circle cx="253.2" cy="849.9" r="8.9"/><circle cx="225.5" cy="1011.4" r="8.9"/><circle cx="269.9" cy="1062.7" r="8.9"/><circle cx="318.4" cy="759.3" r="8.9"/><circle cx="399.4" cy="799.1" r="8.9"/><circle cx="390.9" cy="842.5" r="8.9"/><circle cx="229.5" cy="900.1" r="8.9"/><circle cx="209.1" cy="906.1" r="8.9"/><circle cx="471.6" cy="838.5" r="8.9"/><circle cx="275.8" cy="856.6" r="8.9"/><circle cx="252.8" cy="1042.2" r="8.9"/><circle cx="152.8" cy="991.8" r="8.9"/><circle cx="195.5" cy="833.4" r="8.9"/><circle cx="323.1" cy="878.3" r="8.9"/><circle cx="341.5" cy="818.9" r="8.9"/><circle cx="186.1" cy="832.8" r="8.9"/><circle cx="346.7" cy="797.4" r="8.9"/><circle cx="211.2" cy="847.2" r="8.9"/><circle cx="449.2" cy="857.2" r="8.9"/><circle cx="414.7" cy="746.8" r="8.9"/><circle cx="362.8" cy="750.4" r="8.9"/><circle cx="351.8" cy="768.4" r="8.9"/><circle cx="206.9" cy="956.9" r="8.9"/><circle cx="544.3" cy="836.6" r="8.9"/><circle cx="162.2" cy="997.7" r="8.9"/><circle cx="252.0" cy="809.4" r="8.9"/><circle cx="239.0" cy="876.0" r="8.9"/><circle cx="234.5" cy="1032.5" r="8.9"/><circle cx="558.7" cy="866.1" r="8.9"/><circle cx="458.3" cy="895.0" r="8.9"/><circle cx="235.7" cy="931.0" r="8.9"/><circle cx="180.2" cy="982.4" r="8.9"/><circle cx="329.4" cy="789.5" r="8.9"/><circle cx="167.5" cy="844.0" r="8.9"/><circle cx="291.5" cy="786.3" r="8.9"/><circle cx="428.1" cy="842.1" r="8.9"/><circle cx="374.6" cy="837.9" r="8.9"/><circle cx="257.9" cy="1050.7" r="8.9"/><circle cx="263.9" cy="1060.1" r="8.9"/><circle cx="495.9" cy="796.1" r="8.9"/><circle cx="341.5" cy="809.3" r="8.9"/><circle cx="244.8" cy="866.2" r="8.9"/><circle cx="328.7" cy="831.7" r="8.9"/><circle cx="191.7" cy="866.0" r="8.9"/><circle cx="480.0" cy="808.0" r="8.9"/><circle cx="238.6" cy="856.6" r="8.9"/><circle cx="209.2" cy="1009.7" r="8.9"/><circle cx="206.2" cy="884.5" r="8.9"/><circle cx="448.1" cy="836.3" r="8.9"/><circle cx="156.5" cy="986.5" r="8.9"/><circle cx="180.1" cy="885.2" r="8.9"/><circle cx="326.3" cy="893.1" r="8.9"/><circle cx="509.3" cy="824.6" r="8.9"/><circle cx="204.1" cy="888.5" r="8.9"/><circle cx="221.2" cy="986.6" r="8.9"/><circle cx="408.8" cy="815.3" r="8.9"/><circle cx="116.4" cy="881.5" r="8.9"/><circle cx="145.2" cy="832.6" r="8.9"/><circle cx="369.2" cy="790.8" r="8.9"/><circle cx="404.6" cy="845.3" r="8.9"/><circle cx="295.7" cy="829.9" r="8.9"/><circle cx="453.5" cy="946.4" r="8.9"/><circle cx="304.1" cy="807.5" r="8.9"/><circle cx="303.8" cy="770.8" r="8.9"/><circle cx="177.6" cy="916.7" r="8.9"/><circle cx="328.5" cy="860.4" r="8.9"/><circle cx="522.7" cy="872.8" r="8.9"/><circle cx="470.7" cy="784.9" r="8.9"/><circle cx="543.2" cy="887.1" r="8.9"/><circle cx="466.5" cy="794.6" r="8.9"/><circle cx="310.0" cy="832.6" r="8.9"/><circle cx="433.7" cy="761.2" r="8.9"/><circle cx="411.1" cy="860.3" r="8.9"/><circle cx="212.3" cy="883.0" r="8.9"/><circle cx="256.2" cy="1069.5" r="8.9"/><circle cx="272.7" cy="827.2" r="8.9"/><circle cx="97.1" cy="907.6" r="8.9"/><circle cx="463.6" cy="889.7" r="8.9"/><circle cx="443.0" cy="888.4" r="8.9"/><circle cx="226.5" cy="844.2" r="8.9"/><circle cx="265.3" cy="813.1" r="8.9"/><circle cx="115.4" cy="885.6" r="8.9"/><circle cx="350.4" cy="787.3" r="8.9"/><circle cx="515.5" cy="806.8" r="8.9"/><circle cx="495.3" cy="880.2" r="8.9"/><circle cx="333.8" cy="817.7" r="8.9"/><circle cx="127.3" cy="911.2" r="8.9"/><circle cx="575.1" cy="836.4" r="8.9"/><circle cx="137.8" cy="872.6" r="8.9"/><circle cx="476.7" cy="862.0" r="8.9"/><circle cx="389.7" cy="866.3" r="8.9"/><circle cx="239.4" cy="849.3" r="8.9"/><circle cx="258.2" cy="802.7" r="8.9"/><circle cx="387.8" cy="778.8" r="8.9"/><circle cx="466.5" cy="848.7" r="8.9"/><circle cx="388.4" cy="801.9" r="8.9"/><circle cx="519.3" cy="824.1" r="8.9"/><circle cx="334.0" cy="885.9" r="8.9"/><circle cx="515.4" cy="877.8" r="8.9"/><circle cx="379.5" cy="874.5" r="8.9"/><circle cx="341.8" cy="757.0" r="8.9"/><circle cx="242.0" cy="1018.4" r="8.9"/><circle cx="267.2" cy="857.9" r="8.9"/><circle cx="114.9" cy="856.3" r="8.9"/><circle cx="208.8" cy="943.6" r="8.9"/><circle cx="336.9" cy="748.6" r="8.9"/><circle cx="283.6" cy="1067.8" r="8.9"/><circle cx="463.8" cy="786.9" r="8.9"/><circle cx="234.0" cy="1064.4" r="8.9"/><circle cx="278.2" cy="835.8" r="8.9"/><circle cx="122.9" cy="919.1" r="8.9"/><circle cx="550.5" cy="821.8" r="8.9"/><circle cx="171.8" cy="820.0" r="8.9"/><circle cx="246.5" cy="862.6" r="8.9"/><circle cx="183.1" cy="847.4" r="8.9"/><circle cx="363.2" cy="801.5" r="8.9"/><circle cx="264.3" cy="795.5" r="8.9"/><circle cx="218.4" cy="846.1" r="8.9"/><circle cx="198.2" cy="948.2" r="8.9"/><circle cx="514.8" cy="832.1" r="8.9"/><circle cx="434.2" cy="766.7" r="8.9"/><circle cx="204.2" cy="903.7" r="8.9"/><circle cx="520.4" cy="810.1" r="8.9"/><circle cx="515.1" cy="853.9" r="8.9"/><circle cx="234.8" cy="885.9" r="8.9"/><circle cx="346.9" cy="829.7" r="8.9"/><circle cx="276.8" cy="1081.5" r="8.9"/><circle cx="401.8" cy="810.3" r="8.9"/><circle cx="420.5" cy="859.8" r="8.9"/><circle cx="320.5" cy="845.4" r="8.9"/><circle cx="230.6" cy="985.8" r="8.9"/><circle cx="393.0" cy="809.1" r="8.9"/><circle cx="290.4" cy="861.2" r="8.9"/><circle cx="580.0" cy="832.8" r="8.9"/><circle cx="328.2" cy="805.1" r="8.9"/><circle cx="252.0" cy="1035.3" r="8.9"/><circle cx="348.6" cy="803.5" r="8.9"/><circle cx="472.4" cy="887.2" r="8.9"/><circle cx="204.1" cy="952.8" r="8.9"/><circle cx="252.0" cy="817.0" r="8.9"/><circle cx="380.8" cy="789.8" r="8.9"/><circle cx="319.4" cy="777.1" r="8.9"/><circle cx="473.1" cy="873.2" r="8.9"/><circle cx="347.8" cy="841.0" r="8.9"/><circle cx="508.5" cy="831.6" r="8.9"/><circle cx="137.2" cy="837.1" r="8.9"/><circle cx="378.8" cy="919.9" r="8.9"/><circle cx="503.1" cy="862.1" r="8.9"/><circle cx="501.3" cy="845.1" r="8.9"/><circle cx="478.0" cy="818.0" r="8.9"/><circle cx="504.4" cy="852.3" r="8.9"/><circle cx="449.9" cy="789.8" r="8.9"/><circle cx="562.6" cy="882.6" r="8.9"/><circle cx="200.9" cy="933.1" r="8.9"/><circle cx="185.0" cy="859.2" r="8.9"/><circle cx="182.1" cy="906.7" r="8.9"/><circle cx="207.5" cy="988.3" r="8.9"/><circle cx="147.3" cy="853.8" r="8.9"/><circle cx="380.7" cy="816.0" r="8.9"/><circle cx="188.9" cy="878.2" r="8.9"/><circle cx="441.9" cy="779.4" r="8.9"/><circle cx="494.3" cy="806.5" r="8.9"/><circle cx="447.2" cy="757.2" r="8.9"/><circle cx="433.1" cy="779.0" r="8.9"/><circle cx="169.2" cy="947.2" r="8.9"/><circle cx="316.2" cy="773.5" r="8.9"/><circle cx="453.4" cy="887.6" r="8.9"/><circle cx="220.3" cy="991.8" r="8.9"/><circle cx="426.1" cy="859.3" r="8.9"/><circle cx="388.4" cy="878.9" r="8.9"/><circle cx="480.8" cy="876.1" r="8.9"/><circle cx="192.3" cy="836.6" r="8.9"/><circle cx="346.9" cy="824.6" r="8.9"/><circle cx="556.6" cy="858.7" r="8.9"/><circle cx="125.1" cy="850.2" r="8.9"/><circle cx="458.4" cy="875.4" r="8.9"/><circle cx="278.5" cy="865.2" r="8.9"/><circle cx="213.5" cy="1034.5" r="8.9"/><circle cx="127.3" cy="869.7" r="8.9"/><circle cx="376.1" cy="848.3" r="8.9"/><circle cx="490.8" cy="860.7" r="8.9"/><circle cx="424.7" cy="910.8" r="8.9"/><circle cx="558.2" cy="829.5" r="8.9"/><circle cx="320.3" cy="883.2" r="8.9"/><circle cx="161.6" cy="820.1" r="8.9"/><circle cx="351.9" cy="828.8" r="8.9"/><circle cx="197.6" cy="952.5" r="8.9"/><circle cx="381.7" cy="825.5" r="8.9"/><circle cx="276.8" cy="1038.8" r="8.9"/><circle cx="327.0" cy="848.6" r="8.9"/><circle cx="452.9" cy="882.7" r="8.9"/><circle cx="227.5" cy="874.2" r="8.9"/><circle cx="340.8" cy="804.1" r="8.9"/><circle cx="185.0" cy="922.4" r="8.9"/><circle cx="525.8" cy="825.6" r="8.9"/><circle cx="295.9" cy="800.3" r="8.9"/><circle cx="187.9" cy="1013.1" r="8.9"/><circle cx="513.9" cy="823.5" r="8.9"/><circle cx="128.1" cy="930.5" r="8.9"/><circle cx="378.4" cy="760.1" r="8.9"/><circle cx="542.6" cy="805.6" r="8.9"/><circle cx="378.1" cy="834.5" r="8.9"/><circle cx="338.8" cy="772.5" r="8.9"/><circle cx="210.6" cy="901.4" r="8.9"/><circle cx="153.4" cy="919.5" r="8.9"/><circle cx="387.5" cy="872.5" r="8.9"/><circle cx="425.2" cy="795.0" r="8.9"/><circle cx="150.1" cy="823.9" r="8.9"/><circle cx="367.1" cy="785.2" r="8.9"/><circle cx="346.3" cy="786.1" r="8.9"/><circle cx="396.9" cy="764.6" r="8.9"/><circle cx="299.0" cy="1061.2" r="8.9"/><circle cx="436.9" cy="781.2" r="8.9"/><circle cx="295.0" cy="821.0" r="8.9"/><circle cx="458.6" cy="830.6" r="8.9"/><circle cx="555.7" cy="833.3" r="8.9"/><circle cx="408.7" cy="891.5" r="8.9"/><circle cx="161.7" cy="859.6" r="8.9"/><circle cx="236.8" cy="933.0" r="8.9"/><circle cx="596.3" cy="838.9" r="8.9"/><circle cx="260.6" cy="837.8" r="8.9"/><circle cx="184.5" cy="836.8" r="8.9"/><circle cx="187.9" cy="972.0" r="8.9"/><circle cx="436.3" cy="815.2" r="8.9"/><circle cx="229.3" cy="881.1" r="8.9"/><circle cx="342.6" cy="845.4" r="8.9"/><circle cx="340.8" cy="873.3" r="8.9"/><circle cx="539.4" cy="833.7" r="8.9"/><circle cx="205.8" cy="1023.4" r="8.9"/><circle cx="522.2" cy="864.4" r="8.9"/><circle cx="412.5" cy="742.7" r="8.9"/><circle cx="216.6" cy="877.0" r="8.9"/><circle cx="164.6" cy="889.0" r="8.9"/><circle cx="215.9" cy="915.3" r="8.9"/><circle cx="309.1" cy="773.5" r="8.9"/><circle cx="249.7" cy="1058.2" r="8.9"/><circle cx="329.9" cy="746.8" r="8.9"/><circle cx="224.3" cy="987.4" r="8.9"/><circle cx="233.2" cy="849.3" r="8.9"/><circle cx="296.4" cy="852.6" r="8.9"/><circle cx="310.9" cy="818.7" r="8.9"/><circle cx="315.8" cy="827.0" r="8.9"/><circle cx="297.7" cy="840.4" r="8.9"/><circle cx="481.4" cy="787.0" r="8.9"/><circle cx="307.2" cy="856.8" r="8.9"/><circle cx="414.7" cy="768.5" r="8.9"/><circle cx="512.4" cy="858.3" r="8.9"/><circle cx="339.1" cy="744.8" r="8.9"/><circle cx="447.9" cy="768.8" r="8.9"/><circle cx="463.9" cy="879.4" r="8.9"/><circle cx="293.6" cy="796.5" r="8.9"/><circle cx="273.8" cy="780.6" r="8.9"/><circle cx="319.7" cy="829.2" r="8.9"/><circle cx="503.5" cy="834.4" r="8.9"/><circle cx="234.6" cy="891.8" r="8.9"/><circle cx="535.4" cy="836.6" r="8.9"/><circle cx="176.9" cy="1021.5" r="8.9"/><circle cx="480.5" cy="864.3" r="8.9"/><circle cx="549.0" cy="871.0" r="8.9"/><circle cx="124.1" cy="860.9" r="8.9"/><circle cx="243.9" cy="846.6" r="8.9"/><circle cx="106.9" cy="921.4" r="8.9"/><circle cx="143.4" cy="906.6" r="8.9"/><circle cx="226.6" cy="882.5" r="8.9"/><circle cx="171.0" cy="894.6" r="8.9"/><circle cx="369.0" cy="904.7" r="8.9"/><circle cx="218.6" cy="892.3" r="8.9"/><circle cx="514.9" cy="944.9" r="8.9"/><circle cx="441.7" cy="795.7" r="8.9"/><circle cx="349.8" cy="764.1" r="8.9"/><circle cx="440.5" cy="753.7" r="8.9"/><circle cx="209.5" cy="895.6" r="8.9"/><circle cx="266.6" cy="804.3" r="8.9"/><circle cx="276.8" cy="1071.2" r="8.9"/><circle cx="121.2" cy="903.8" r="8.9"/><circle cx="299.5" cy="820.4" r="8.9"/><circle cx="202.3" cy="908.1" r="8.9"/><circle cx="138.3" cy="930.1" r="8.9"/><circle cx="380.2" cy="865.3" r="8.9"/><circle cx="450.3" cy="849.9" r="8.9"/><circle cx="393.6" cy="884.4" r="8.9"/><circle cx="185.6" cy="981.9" r="8.9"/><circle cx="263.2" cy="830.3" r="8.9"/><circle cx="201.6" cy="928.3" r="8.9"/><circle cx="275.9" cy="791.2" r="8.9"/><circle cx="487.5" cy="829.4" r="8.9"/><circle cx="378.1" cy="798.2" r="8.9"/><circle cx="322.9" cy="839.7" r="8.9"/><circle cx="455.5" cy="840.0" r="8.9"/><circle cx="207.5" cy="1044.7" r="8.9"/><circle cx="425.5" cy="814.5" r="8.9"/><circle cx="293.1" cy="805.8" r="8.9"/><circle cx="167.6" cy="930.5" r="8.9"/><circle cx="114.9" cy="892.2" r="8.9"/><circle cx="482.7" cy="856.1" r="8.9"/><circle cx="128.6" cy="895.2" r="8.9"/><circle cx="583.8" cy="854.0" r="8.9"/><circle cx="400.6" cy="870.1" r="8.9"/><circle cx="513.4" cy="922.1" r="8.9"/><circle cx="591.7" cy="847.9" r="8.9"/><circle cx="401.1" cy="837.6" r="8.9"/><circle cx="431.5" cy="860.3" r="8.9"/><circle cx="432.3" cy="851.9" r="8.9"/><circle cx="492.9" cy="872.6" r="8.9"/><circle cx="339.2" cy="783.8" r="8.9"/><circle cx="495.7" cy="830.1" r="8.9"/><circle cx="507.8" cy="862.4" r="8.9"/><circle cx="116.2" cy="900.7" r="8.9"/><circle cx="235.1" cy="881.7" r="8.9"/><circle cx="488.5" cy="938.2" r="8.9"/><circle cx="286.8" cy="790.8" r="8.9"/><circle cx="497.8" cy="871.3" r="8.9"/><circle cx="486.2" cy="837.3" r="8.9"/><circle cx="336.5" cy="788.3" r="8.9"/><circle cx="168.0" cy="1012.8" r="8.9"/><circle cx="450.7" cy="839.7" r="8.9"/><circle cx="331.7" cy="781.1" r="8.9"/><circle cx="357.0" cy="823.8" r="8.9"/><circle cx="232.3" cy="1031.5" r="8.9"/><circle cx="182.7" cy="967.8" r="8.9"/><circle cx="283.8" cy="819.0" r="8.9"/><circle cx="405.1" cy="787.6" r="8.9"/><circle cx="420.1" cy="760.6" r="8.9"/><circle cx="413.6" cy="797.9" r="8.9"/><circle cx="267.0" cy="820.0" r="8.9"/><circle cx="439.0" cy="823.3" r="8.9"/><circle cx="382.9" cy="745.4" r="8.9"/><circle cx="339.1" cy="851.1" r="8.9"/><circle cx="111.0" cy="907.1" r="8.9"/><circle cx="456.1" cy="856.7" r="8.9"/><circle cx="180.7" cy="895.2" r="8.9"/><circle cx="358.6" cy="797.7" r="8.9"/><circle cx="86.7" cy="904.7" r="8.9"/><circle cx="491.0" cy="848.2" r="8.9"/><circle cx="174.4" cy="830.9" r="8.9"/><circle cx="562.0" cy="826.8" r="8.9"/><circle cx="401.0" cy="758.4" r="8.9"/><circle cx="463.6" cy="856.3" r="8.9"/><circle cx="507.9" cy="871.8" r="8.9"/><circle cx="269.8" cy="834.8" r="8.9"/><circle cx="263.9" cy="1045.6" r="8.9"/><circle cx="423.4" cy="746.3" r="8.9"/><circle cx="315.8" cy="797.2" r="8.9"/><circle cx="408.9" cy="782.5" r="8.9"/><circle cx="487.2" cy="822.5" r="8.9"/><circle cx="371.9" cy="749.6" r="8.9"/><circle cx="424.1" cy="769.8" r="8.9"/><circle cx="116.3" cy="849.8" r="8.9"/><circle cx="355.1" cy="794.2" r="8.9"/><circle cx="417.3" cy="814.5" r="8.9"/><circle cx="397.0" cy="794.8" r="8.9"/><circle cx="286.9" cy="1110.0" r="8.9"/><circle cx="327.4" cy="892.2" r="8.9"/><circle cx="228.9" cy="1025.1" r="8.9"/><circle cx="130.4" cy="877.2" r="8.9"/><circle cx="582.4" cy="863.1" r="8.9"/><circle cx="205.0" cy="979.8" r="8.9"/><circle cx="168.2" cy="1011.4" r="8.9"/><circle cx="425.1" cy="848.1" r="8.9"/><circle cx="120.1" cy="853.8" r="8.9"/><circle cx="290.4" cy="1074.7" r="8.9"/><circle cx="193.8" cy="932.8" r="8.9"/><circle cx="259.7" cy="1030.2" r="8.9"/><circle cx="203.3" cy="924.0" r="8.9"/><circle cx="254.5" cy="835.3" r="8.9"/><circle cx="147.3" cy="911.6" r="8.9"/><circle cx="97.9" cy="899.0" r="8.9"/><circle cx="394.7" cy="770.3" r="8.9"/><circle cx="404.7" cy="871.0" r="8.9"/><circle cx="204.5" cy="984.7" r="8.9"/><circle cx="589.6" cy="833.4" r="8.9"/><circle cx="284.4" cy="1079.8" r="8.9"/><circle cx="484.9" cy="851.6" r="8.9"/><circle cx="175.2" cy="858.0" r="8.9"/><circle cx="358.2" cy="804.3" r="8.9"/><circle cx="335.8" cy="876.5" r="8.9"/><circle cx="332.9" cy="812.0" r="8.9"/><circle cx="429.0" cy="800.6" r="8.9"/><circle cx="241.8" cy="859.8" r="8.9"/><circle cx="243.7" cy="855.4" r="8.9"/><circle cx="311.7" cy="781.4" r="8.9"/><circle cx="377.7" cy="775.4" r="8.9"/><circle cx="308.2" cy="863.3" r="8.9"/><circle cx="258.0" cy="1062.0" r="8.9"/><circle cx="260.4" cy="1046.8" r="8.9"/><circle cx="505.2" cy="806.7" r="8.9"/><circle cx="304.6" cy="832.1" r="8.9"/><circle cx="504.2" cy="824.7" r="8.9"/><circle cx="484.6" cy="812.4" r="8.9"/><circle cx="317.1" cy="842.2" r="8.9"/><circle cx="227.2" cy="1023.5" r="8.9"/><circle cx="92.5" cy="905.6" r="8.9"/><circle cx="273.5" cy="832.2" r="8.9"/><circle cx="182.7" cy="1034.5" r="8.9"/><circle cx="315.0" cy="812.2" r="8.9"/><circle cx="394.8" cy="804.9" r="8.9"/><circle cx="368.9" cy="806.6" r="8.9"/><circle cx="155.0" cy="993.5" r="8.9"/><circle cx="132.9" cy="889.4" r="8.9"/><circle cx="310.5" cy="768.0" r="8.9"/><circle cx="249.4" cy="1057.6" r="8.9"/><circle cx="189.6" cy="1002.9" r="8.9"/><circle cx="190.0" cy="993.0" r="8.9"/><circle cx="430.7" cy="750.4" r="8.9"/><circle cx="425.8" cy="829.8" r="8.9"/><circle cx="110.3" cy="866.9" r="8.9"/><circle cx="412.9" cy="852.7" r="8.9"/><circle cx="181.9" cy="1002.0" r="8.9"/><circle cx="190.9" cy="1016.4" r="8.9"/><circle cx="401.2" cy="848.1" r="8.9"/><circle cx="138.1" cy="851.5" r="8.9"/><circle cx="292.7" cy="814.5" r="8.9"/><circle cx="269.9" cy="1078.1" r="8.9"/><circle cx="542.5" cy="813.9" r="8.9"/><circle cx="386.7" cy="942.7" r="8.9"/><circle cx="335.6" cy="792.6" r="8.9"/><circle cx="570.2" cy="845.2" r="8.9"/><circle cx="205.8" cy="1012.3" r="8.9"/><circle cx="444.8" cy="782.9" r="8.9"/><circle cx="278.5" cy="780.2" r="8.9"/><circle cx="370.5" cy="849.5" r="8.9"/><circle cx="513.9" cy="827.9" r="8.9"/><circle cx="157.9" cy="984.1" r="8.9"/><circle cx="334.9" cy="854.4" r="8.9"/><circle cx="188.7" cy="937.8" r="8.9"/><circle cx="468.2" cy="829.2" r="8.9"/><circle cx="375.8" cy="858.6" r="8.9"/><circle cx="411.0" cy="886.3" r="8.9"/><circle cx="326.4" cy="814.3" r="8.9"/><circle cx="398.2" cy="781.9" r="8.9"/><circle cx="548.7" cy="879.4" r="8.9"/><circle cx="263.1" cy="1037.1" r="8.9"/><circle cx="370.1" cy="842.7" r="8.9"/><circle cx="172.7" cy="915.5" r="8.9"/><circle cx="532.7" cy="816.2" r="8.9"/><circle cx="230.0" cy="1000.0" r="8.9"/><circle cx="303.1" cy="790.1" r="8.9"/><circle cx="506.5" cy="801.2" r="8.9"/><circle cx="307.7" cy="815.0" r="8.9"/><circle cx="271.7" cy="818.7" r="8.9"/><circle cx="175.9" cy="1011.4" r="8.9"/><circle cx="123.9" cy="840.4" r="8.9"/><circle cx="463.4" cy="778.5" r="8.9"/><circle cx="175.9" cy="991.8" r="8.9"/><circle cx="388.0" cy="794.2" r="8.9"/><circle cx="385.5" cy="762.9" r="8.9"/><circle cx="447.8" cy="888.0" r="8.9"/><circle cx="190.7" cy="902.3" r="8.9"/><circle cx="501.1" cy="849.4" r="8.9"/><circle cx="222.5" cy="909.3" r="8.9"/><circle cx="421.9" cy="842.6" r="8.9"/><circle cx="242.6" cy="1013.1" r="8.9"/><circle cx="548.8" cy="833.4" r="8.9"/><circle cx="476.8" cy="879.2" r="8.9"/><circle cx="525.8" cy="808.1" r="8.9"/><circle cx="440.1" cy="863.9" r="8.9"/><circle cx="199.8" cy="1025.1" r="8.9"/><circle cx="242.6" cy="1050.7" r="8.9"/><circle cx="550.9" cy="808.6" r="8.9"/><circle cx="330.5" cy="798.3" r="8.9"/><circle cx="182.3" cy="982.2" r="8.9"/><circle cx="418.7" cy="806.1" r="8.9"/><circle cx="555.0" cy="854.4" r="8.9"/><circle cx="129.9" cy="882.4" r="8.9"/><circle cx="131.1" cy="860.9" r="8.9"/><circle cx="211.8" cy="1013.1" r="8.9"/><circle cx="154.1" cy="871.8" r="8.9"/><circle cx="576.4" cy="829.1" r="8.9"/><circle cx="209.7" cy="931.9" r="8.9"/><circle cx="453.6" cy="830.9" r="8.9"/><circle cx="122.6" cy="873.7" r="8.9"/><circle cx="334.3" cy="862.6" r="8.9"/><circle cx="314.6" cy="763.1" r="8.9"/><circle cx="208.2" cy="857.9" r="8.9"/><circle cx="290.2" cy="1076.5" r="8.9"/><circle cx="363.9" cy="866.7" r="8.9"/><circle cx="506.4" cy="876.0" r="8.9"/><circle cx="172.2" cy="852.6" r="8.9"/><circle cx="131.3" cy="900.5" r="8.9"/><circle cx="537.8" cy="807.2" r="8.9"/><circle cx="425.0" cy="803.4" r="8.9"/><circle cx="398.3" cy="753.8" r="8.9"/><circle cx="440.5" cy="874.5" r="8.9"/><circle cx="400.0" cy="815.9" r="8.9"/><circle cx="393.7" cy="743.7" r="8.9"/><circle cx="89.0" cy="899.4" r="8.9"/><circle cx="446.7" cy="882.1" r="8.9"/><circle cx="255.4" cy="827.4" r="8.9"/><circle cx="217.8" cy="1002.9" r="8.9"/><circle cx="355.4" cy="746.3" r="8.9"/><circle cx="368.7" cy="864.3" r="8.9"/><circle cx="242.6" cy="1035.3" r="8.9"/><circle cx="199.2" cy="915.1" r="8.9"/><circle cx="149.4" cy="830.7" r="8.9"/><circle cx="424.5" cy="881.9" r="8.9"/><circle cx="403.4" cy="949.4" r="8.9"/><circle cx="296.5" cy="809.1" r="8.9"/><circle cx="583.7" cy="842.8" r="8.9"/><circle cx="367.8" cy="795.6" r="8.9"/><circle cx="154.3" cy="828.3" r="8.9"/><circle cx="301.5" cy="1062.7" r="8.9"/><circle cx="214.9" cy="887.6" r="8.9"/><circle cx="254.7" cy="908.3" r="8.9"/><circle cx="413.8" cy="805.6" r="8.9"/><circle cx="281.0" cy="775.3" r="8.9"/><circle cx="380.5" cy="844.4" r="8.9"/><circle cx="415.9" cy="868.6" r="8.9"/><circle cx="471.9" cy="822.0" r="8.9"/><circle cx="458.2" cy="786.0" r="8.9"/><circle cx="206.7" cy="996.0" r="8.9"/><circle cx="558.8" cy="844.6" r="8.9"/><circle cx="364.3" cy="861.3" r="8.9"/><circle cx="420.9" cy="829.2" r="8.9"/><circle cx="303.4" cy="849.3" r="8.9"/><circle cx="577.8" cy="841.0" r="8.9"/><circle cx="522.4" cy="817.9" r="8.9"/><circle cx="400.9" cy="881.9" r="8.9"/><circle cx="363.1" cy="782.1" r="8.9"/><circle cx="481.0" cy="794.2" r="8.9"/><circle cx="193.1" cy="844.9" r="8.9"/><circle cx="480.7" cy="806.9" r="8.9"/><circle cx="449.6" cy="913.0" r="8.9"/><circle cx="319.8" cy="767.5" r="8.9"/><circle cx="195.1" cy="870.9" r="8.9"/><circle cx="261.2" cy="853.2" r="8.9"/><circle cx="208.3" cy="868.2" r="8.9"/><circle cx="489.1" cy="812.1" r="8.9"/><circle cx="466.1" cy="844.0" r="8.9"/><circle cx="159.3" cy="863.4" r="8.9"/><circle cx="215.2" cy="975.5" r="8.9"/><circle cx="283.7" cy="1069.3" r="8.9"/><circle cx="574.7" cy="870.7" r="8.9"/><circle cx="430.1" cy="884.0" r="8.9"/><circle cx="181.4" cy="853.4" r="8.9"/><circle cx="550.8" cy="852.1" r="8.9"/><circle cx="155.5" cy="857.4" r="8.9"/><circle cx="439.2" cy="829.8" r="8.9"/><circle cx="581.9" cy="826.6" r="8.9"/><circle cx="202.1" cy="841.9" r="8.9"/><circle cx="316.6" cy="849.4" r="8.9"/><circle cx="539.2" cy="829.1" r="8.9"/><circle cx="123.9" cy="887.7" r="8.9"/><circle cx="363.5" cy="835.9" r="8.9"/><circle cx="359.2" cy="833.6" r="8.9"/><circle cx="193.0" cy="977.2" r="8.9"/><circle cx="477.4" cy="845.5" r="8.9"/><circle cx="435.4" cy="802.3" r="8.9"/><circle cx="280.2" cy="997.7" r="8.9"/><circle cx="294.6" cy="1049.8" r="8.9"/><circle cx="214.5" cy="952.3" r="8.9"/><circle cx="390.7" cy="815.5" r="8.9"/><circle cx="459.5" cy="869.5" r="8.9"/><circle cx="509.5" cy="817.4" r="8.9"/><circle cx="101.8" cy="907.2" r="8.9"/><circle cx="292.9" cy="777.9" r="8.9"/><circle cx="436.7" cy="751.3" r="8.9"/><circle cx="321.3" cy="814.4" r="8.9"/><circle cx="364.2" cy="769.5" r="8.9"/><circle cx="176.2" cy="891.1" r="8.9"/><circle cx="203.9" cy="1025.5" r="8.9"/><circle cx="462.7" cy="836.9" r="8.9"/><circle cx="105.8" cy="886.5" r="8.9"/><circle cx="202.3" cy="868.1" r="8.9"/><circle cx="317.9" cy="854.1" r="8.9"/><circle cx="232.8" cy="876.4" r="8.9"/><circle cx="201.4" cy="1007.7" r="8.9"/><circle cx="381.6" cy="757.2" r="8.9"/><circle cx="367.0" cy="765.4" r="8.9"/><circle cx="433.3" cy="796.8" r="8.9"/><circle cx="197.3" cy="996.0" r="8.9"/><circle cx="107.4" cy="877.9" r="8.9"/><circle cx="375.5" cy="854.3" r="8.9"/><circle cx="311.7" cy="859.2" r="8.9"/><circle cx="246.0" cy="998.6" r="8.9"/><circle cx="385.8" cy="862.5" r="8.9"/><circle cx="305.4" cy="766.0" r="8.9"/><circle cx="338.9" cy="866.3" r="8.9"/><circle cx="271.5" cy="1064.2" r="8.9"/><circle cx="119.0" cy="934.3" r="8.9"/><circle cx="255.6" cy="945.3" r="8.9"/><circle cx="281.4" cy="813.6" r="8.9"/><circle cx="473.8" cy="895.1" r="8.9"/><circle cx="408.4" cy="825.0" r="8.9"/><circle cx="94.8" cy="896.2" r="8.9"/><circle cx="460.7" cy="847.5" r="8.9"/><circle cx="236.6" cy="895.1" r="8.9"/><circle cx="487.5" cy="865.4" r="8.9"/><circle cx="222.4" cy="889.4" r="8.9"/><circle cx="496.7" cy="859.9" r="8.9"/><circle cx="160.8" cy="852.0" r="8.9"/><circle cx="192.4" cy="940.7" r="8.9"/><circle cx="428.3" cy="787.4" r="8.9"/><circle cx="210.6" cy="921.6" r="8.9"/><circle cx="450.4" cy="777.1" r="8.9"/><circle cx="209.1" cy="879.5" r="8.9"/><circle cx="342.4" cy="855.0" r="8.9"/><circle cx="281.0" cy="789.0" r="8.9"/><circle cx="449.8" cy="781.7" r="8.9"/><circle cx="196.4" cy="1016.5" r="8.9"/><circle cx="139.5" cy="859.1" r="8.9"/><circle cx="256.2" cy="819.7" r="8.9"/><circle cx="507.8" cy="812.3" r="8.9"/><circle cx="313.4" cy="859.4" r="8.9"/><circle cx="318.8" cy="891.8" r="8.9"/><circle cx="351.2" cy="861.8" r="8.9"/><circle cx="381.5" cy="767.9" r="8.9"/><circle cx="429.4" cy="808.5" r="8.9"/><circle cx="109.7" cy="927.4" r="8.9"/><circle cx="452.7" cy="816.0" r="8.9"/><circle cx="365.8" cy="830.2" r="8.9"/><circle cx="318.5" cy="837.6" r="8.9"/><circle cx="420.1" cy="916.0" r="8.9"/><circle cx="574.0" cy="818.0" r="8.9"/><circle cx="214.8" cy="857.9" r="8.9"/><circle cx="375.0" cy="828.0" r="8.9"/><circle cx="293.4" cy="791.5" r="8.9"/><circle cx="234.8" cy="1010.6" r="8.9"/><circle cx="222.0" cy="903.1" r="8.9"/><circle cx="102.0" cy="913.3" r="8.9"/><circle cx="238.3" cy="1026.8" r="8.9"/><circle cx="99.5" cy="891.1" r="8.9"/><circle cx="146.2" cy="931.7" r="8.9"/><circle cx="196.4" cy="878.4" r="8.9"/><circle cx="194.5" cy="1018.2" r="8.9"/><circle cx="433.6" cy="771.3" r="8.9"/><circle cx="392.2" cy="753.2" r="8.9"/><circle cx="427.4" cy="821.0" r="8.9"/><circle cx="460.4" cy="770.6" r="8.9"/><circle cx="440.9" cy="819.3" r="8.9"/><circle cx="496.6" cy="867.3" r="8.9"/><circle cx="365.9" cy="745.9" r="8.9"/><circle cx="228.6" cy="1023.0" r="8.9"/><circle cx="194.6" cy="920.4" r="8.9"/><circle cx="485.5" cy="879.5" r="8.9"/><circle cx="246.0" cy="1026.8" r="8.9"/><circle cx="390.9" cy="848.0" r="8.9"/><circle cx="117.1" cy="919.1" r="8.9"/><circle cx="200.0" cy="1040.0" r="8.9"/><circle cx="433.3" cy="834.5" r="8.9"/><circle cx="243.2" cy="879.2" r="8.9"/><circle cx="307.8" cy="873.5" r="8.9"/><circle cx="264.8" cy="1074.7" r="8.9"/><circle cx="389.0" cy="827.5" r="8.9"/><circle cx="376.6" cy="765.7" r="8.9"/><circle cx="120.0" cy="913.4" r="8.9"/><circle cx="321.2" cy="824.8" r="8.9"/><circle cx="270.1" cy="801.0" r="8.9"/><circle cx="148.9" cy="840.4" r="8.9"/><circle cx="427.3" cy="864.0" r="8.9"/><circle cx="249.4" cy="1049.0" r="8.9"/><circle cx="497.1" cy="835.8" r="8.9"/><circle cx="363.0" cy="896.2" r="8.9"/><circle cx="475.1" cy="801.7" r="8.9"/><circle cx="333.7" cy="752.5" r="8.9"/><circle cx="157.2" cy="822.9" r="8.9"/><circle cx="457.3" cy="852.6" r="8.9"/><circle cx="517.2" cy="816.4" r="8.9"/><circle cx="220.5" cy="882.3" r="8.9"/><circle cx="300.9" cy="826.5" r="8.9"/><circle cx="213.6" cy="995.9" r="8.9"/><circle cx="202.3" cy="862.3" r="8.9"/><circle cx="193.5" cy="946.0" r="8.9"/><circle cx="560.0" cy="807.0" r="8.9"/><circle cx="109.9" cy="896.5" r="8.9"/><circle cx="531.6" cy="808.0" r="8.9"/><circle cx="348.7" cy="746.5" r="8.9"/><circle cx="439.6" cy="807.8" r="8.9"/><circle cx="110.2" cy="889.6" r="8.9"/><circle cx="195.1" cy="994.0" r="8.9"/><circle cx="110.8" cy="918.4" r="8.9"/><circle cx="328.2" cy="865.7" r="8.9"/><circle cx="127.1" cy="903.7" r="8.9"/><circle cx="277.5" cy="1070.1" r="8.9"/><circle cx="285.0" cy="1060.0" r="8.9"/><circle cx="144.9" cy="826.9" r="8.9"/><circle cx="160.5" cy="835.7" r="8.9"/><circle cx="413.1" cy="872.6" r="8.9"/><circle cx="189.6" cy="854.3" r="8.9"/><circle cx="111.1" cy="860.1" r="8.9"/><circle cx="168.9" cy="834.7" r="8.9"/><circle cx="352.2" cy="866.8" r="8.9"/><circle cx="395.7" cy="825.6" r="8.9"/><circle cx="358.9" cy="859.7" r="8.9"/><circle cx="439.2" cy="763.0" r="8.9"/><circle cx="204.0" cy="837.5" r="8.9"/><circle cx="224.6" cy="869.3" r="8.9"/><circle cx="198.6" cy="891.7" r="8.9"/><circle cx="233.2" cy="1048.2" r="8.9"/><circle cx="162.2" cy="920.0" r="8.9"/><circle cx="314.6" cy="804.2" r="8.9"/><circle cx="216.1" cy="997.7" r="8.9"/><circle cx="506.5" cy="867.4" r="8.9"/><circle cx="196.2" cy="852.1" r="8.9"/><circle cx="383.6" cy="833.6" r="8.9"/><circle cx="260.6" cy="821.8" r="8.9"/><circle cx="550.0" cy="860.9" r="8.9"/><circle cx="301.9" cy="801.8" r="8.9"/><circle cx="297.3" cy="1073.0" r="8.9"/><circle cx="540.6" cy="842.4" r="8.9"/><circle cx="376.3" cy="746.4" r="8.9"/><circle cx="187.2" cy="905.9" r="8.9"/><circle cx="163.9" cy="985.8" r="8.9"/><circle cx="410.4" cy="835.3" r="8.9"/><circle cx="306.6" cy="824.2" r="8.9"/><circle cx="455.1" cy="848.1" r="8.9"/><circle cx="272.0" cy="1050.0" r="8.9"/><circle cx="417.8" cy="853.8" r="8.9"/><circle cx="526.0" cy="821.1" r="8.9"/><circle cx="218.6" cy="1013.1" r="8.9"/><circle cx="326.0" cy="844.4" r="8.9"/><circle cx="325.1" cy="795.1" r="8.9"/><circle cx="457.4" cy="791.1" r="8.9"/><circle cx="190.4" cy="983.6" r="8.9"/><circle cx="500.4" cy="814.4" r="8.9"/><circle cx="456.6" cy="776.6" r="8.9"/><circle cx="570.1" cy="811.6" r="8.9"/><circle cx="465.8" cy="896.8" r="8.9"/><circle cx="442.9" cy="941.2" r="8.9"/><circle cx="350.0" cy="852.9" r="8.9"/><circle cx="402.3" cy="741.3" r="8.9"/><circle cx="493.0" cy="917.5" r="8.9"/><circle cx="441.0" cy="882.2" r="8.9"/><circle cx="164.9" cy="893.5" r="8.9"/><circle cx="309.1" cy="796.1" r="8.9"/><circle cx="169.1" cy="990.9" r="8.9"/><circle cx="441.5" cy="839.6" r="8.9"/><circle cx="278.2" cy="827.9" r="8.9"/><circle cx="198.5" cy="884.4" r="8.9"/><circle cx="384.1" cy="753.2" r="8.9"/><circle cx="477.0" cy="886.7" r="8.9"/><circle cx="365.4" cy="987.4" r="8.9"/><circle cx="103.4" cy="901.2" r="8.9"/><circle cx="185.3" cy="894.6" r="8.9"/><circle cx="208.4" cy="1004.6" r="8.9"/><circle cx="197.8" cy="843.8" r="8.9"/><circle cx="126.3" cy="845.9" r="8.9"/><circle cx="245.1" cy="1038.8" r="8.9"/><circle cx="126.7" cy="839.5" r="8.9"/><circle cx="157.3" cy="843.2" r="8.9"/><circle cx="379.3" cy="808.7" r="8.9"/><circle cx="225.9" cy="842.6" r="8.9"/><circle cx="446.7" cy="867.1" r="8.9"/><circle cx="392.1" cy="836.7" r="8.9"/><circle cx="209.5" cy="888.9" r="8.9"/><circle cx="120.9" cy="925.5" r="8.9"/><circle cx="426.1" cy="872.8" r="8.9"/><circle cx="433.6" cy="821.8" r="8.9"/><circle cx="387.2" cy="845.2" r="8.9"/><circle cx="188.7" cy="974.7" r="8.9"/><circle cx="446.4" cy="893.7" r="8.9"/><circle cx="174.4" cy="843.9" r="8.9"/><circle cx="402.2" cy="889.2" r="8.9"/><circle cx="295.4" cy="825.2" r="8.9"/><circle cx="311.7" cy="855.2" r="8.9"/><circle cx="343.6" cy="833.1" r="8.9"/><circle cx="419.3" cy="754.1" r="8.9"/><circle cx="359.6" cy="790.0" r="8.9"/><circle cx="416.1" cy="791.0" r="8.9"/><circle cx="168.8" cy="859.2" r="8.9"/><circle cx="199.2" cy="1022.0" r="8.9"/><circle cx="470.2" cy="918.4" r="8.9"/><circle cx="506.0" cy="881.4" r="8.9"/><circle cx="185.3" cy="982.4" r="8.9"/><circle cx="335.4" cy="830.7" r="8.9"/><circle cx="329.2" cy="837.9" r="8.9"/><circle cx="235.7" cy="1031.9" r="8.9"/><circle cx="447.7" cy="764.6" r="8.9"/><circle cx="431.8" cy="817.5" r="8.9"/><circle cx="413.4" cy="758.3" r="8.9"/><circle cx="198.0" cy="1005.0" r="8.9"/><circle cx="296.4" cy="1046.5" r="8.9"/><circle cx="297.2" cy="1071.4" r="8.9"/><circle cx="216.8" cy="904.8" r="8.9"/><circle cx="455.6" cy="801.7" r="8.9"/><circle cx="218.2" cy="899.5" r="8.9"/><circle cx="410.6" cy="793.4" r="8.9"/><circle cx="446.4" cy="778.9" r="8.9"/><circle cx="173.6" cy="927.7" r="8.9"/><circle cx="156.3" cy="933.5" r="8.9"/><circle cx="557.2" cy="873.6" r="8.9"/><circle cx="220.3" cy="1049.0" r="8.9"/><circle cx="489.6" cy="790.5" r="8.9"/><circle cx="566.7" cy="873.5" r="8.9"/><circle cx="223.7" cy="1048.2" r="8.9"/><circle cx="178.0" cy="828.5" r="8.9"/><circle cx="228.4" cy="985.9" r="8.9"/><circle cx="311.7" cy="869.2" r="8.9"/><circle cx="191.0" cy="871.9" r="8.9"/><circle cx="323.0" cy="755.1" r="8.9"/><circle cx="169.2" cy="883.5" r="8.9"/><circle cx="323.0" cy="807.7" r="8.9"/><circle cx="175.9" cy="978.1" r="8.9"/><circle cx="256.7" cy="815.1" r="8.9"/><circle cx="175.5" cy="906.6" r="8.9"/><circle cx="203.2" cy="1033.6" r="8.9"/><circle cx="572.7" cy="878.0" r="8.9"/><circle cx="376.1" cy="843.8" r="8.9"/><circle cx="192.7" cy="894.5" r="8.9"/><circle cx="232.3" cy="1028.5" r="8.9"/><circle cx="142.3" cy="846.5" r="8.9"/><circle cx="141.6" cy="868.6" r="8.9"/><circle cx="414.9" cy="838.5" r="8.9"/><circle cx="161.0" cy="884.7" r="8.9"/><circle cx="201.5" cy="982.4" r="8.9"/><circle cx="132.3" cy="845.4" r="8.9"/><circle cx="318.6" cy="878.2" r="8.9"/><circle cx="116.5" cy="923.3" r="8.9"/><circle cx="406.2" cy="809.6" r="8.9"/><circle cx="201.2" cy="938.9" r="8.9"/><circle cx="387.5" cy="788.1" r="8.9"/><circle cx="474.6" cy="812.2" r="8.9"/><circle cx="310.6" cy="886.7" r="8.9"/></g>
<g fill="#fff"><circle cx="353.3" cy="781.1" r="5.7"/><circle cx="420.1" cy="886.9" r="5.7"/><circle cx="225.5" cy="1026.8" r="5.7"/><circle cx="191.6" cy="882.9" r="5.7"/><circle cx="434.5" cy="809.6" r="5.7"/><circle cx="246.1" cy="1030.2" r="5.7"/><circle cx="431.1" cy="746.0" r="5.7"/><circle cx="377.1" cy="818.5" r="5.7"/><circle cx="498.5" cy="818.3" r="5.7"/><circle cx="381.2" cy="853.9" r="5.7"/><circle cx="280.9" cy="1077.1" r="5.7"/><circle cx="264.5" cy="1040.5" r="5.7"/><circle cx="191.3" cy="984.9" r="5.7"/><circle cx="353.3" cy="849.5" r="5.7"/><circle cx="288.4" cy="851.9" r="5.7"/><circle cx="107.1" cy="912.2" r="5.7"/><circle cx="169.3" cy="829.7" r="5.7"/><circle cx="182.9" cy="927.9" r="5.7"/><circle cx="238.3" cy="870.3" r="5.7"/><circle cx="418.2" cy="776.2" r="5.7"/><circle cx="288.7" cy="1054.1" r="5.7"/><circle cx="235.0" cy="1012.0" r="5.7"/><circle cx="471.8" cy="965.2" r="5.7"/><circle cx="527.0" cy="871.8" r="5.7"/><circle cx="448.1" cy="828.9" r="5.7"/><circle cx="177.5" cy="921.7" r="5.7"/><circle cx="274.4" cy="809.4" r="5.7"/><circle cx="309.0" cy="878.5" r="5.7"/><circle cx="478.8" cy="830.1" r="5.7"/><circle cx="215.7" cy="953.7" r="5.7"/><circle cx="449.0" cy="877.1" r="5.7"/><circle cx="403.7" cy="861.6" r="5.7"/><circle cx="299.2" cy="788.4" r="5.7"/><circle cx="179.6" cy="857.3" r="5.7"/><circle cx="158.5" cy="871.8" r="5.7"/><circle cx="270.6" cy="785.4" r="5.7"/><circle cx="490.5" cy="826.5" r="5.7"/><circle cx="370.7" cy="869.7" r="5.7"/><circle cx="494.6" cy="812.6" r="5.7"/><circle cx="405.4" cy="754.2" r="5.7"/><circle cx="288.3" cy="836.8" r="5.7"/><circle cx="256.0" cy="1070.4" r="5.7"/><circle cx="240.9" cy="1021.7" r="5.7"/><circle cx="356.3" cy="907.5" r="5.7"/><circle cx="515.5" cy="869.1" r="5.7"/><circle cx="453.7" cy="766.1" r="5.7"/><circle cx="245.1" cy="1066.1" r="5.7"/><circle cx="129.9" cy="922.9" r="5.7"/><circle cx="430.9" cy="782.8" r="5.7"/><circle cx="227.2" cy="1043.9" r="5.7"/><circle cx="200.2" cy="853.8" r="5.7"/><circle cx="479.0" cy="836.2" r="5.7"/><circle cx="428.8" cy="761.4" r="5.7"/><circle cx="135.5" cy="906.8" r="5.7"/><circle cx="433.5" cy="867.4" r="5.7"/><circle cx="206.6" cy="852.4" r="5.7"/><circle cx="315.0" cy="778.4" r="5.7"/><circle cx="436.6" cy="871.9" r="5.7"/><circle cx="222.6" cy="895.2" r="5.7"/><circle cx="220.3" cy="1023.4" r="5.7"/><circle cx="334.5" cy="843.2" r="5.7"/><circle cx="422.0" cy="825.1" r="5.7"/><circle cx="322.3" cy="871.9" r="5.7"/><circle cx="378.1" cy="786.2" r="5.7"/><circle cx="534.8" cy="871.2" r="5.7"/><circle cx="360.3" cy="852.8" r="5.7"/><circle cx="183.7" cy="902.1" r="5.7"/><circle cx="540.3" cy="877.1" r="5.7"/><circle cx="316.3" cy="785.5" r="5.7"/><circle cx="231.1" cy="1047.7" r="5.7"/><circle cx="328.6" cy="876.0" r="5.7"/><circle cx="403.7" cy="823.7" r="5.7"/><circle cx="179.3" cy="1023.4" r="5.7"/><circle cx="370.9" cy="760.6" r="5.7"/><circle cx="281.2" cy="783.7" r="5.7"/><circle cx="358.1" cy="770.2" r="5.7"/><circle cx="338.0" cy="797.9" r="5.7"/><circle cx="397.2" cy="866.6" r="5.7"/><circle cx="438.2" cy="889.4" r="5.7"/><circle cx="177.4" cy="911.4" r="5.7"/><circle cx="556.4" cy="813.6" r="5.7"/><circle cx="489.6" cy="798.1" r="5.7"/><circle cx="329.2" cy="757.3" r="5.7"/><circle cx="327.7" cy="877.2" r="5.7"/><circle cx="253.2" cy="849.9" r="5.7"/><circle cx="225.5" cy="1011.4" r="5.7"/><circle cx="269.9" cy="1062.7" r="5.7"/><circle cx="318.4" cy="759.3" r="5.7"/><circle cx="399.4" cy="799.1" r="5.7"/><circle cx="390.9" cy="842.5" r="5.7"/><circle cx="229.5" cy="900.1" r="5.7"/><circle cx="209.1" cy="906.1" r="5.7"/><circle cx="471.6" cy="838.5" r="5.7"/><circle cx="275.8" cy="856.6" r="5.7"/><circle cx="252.8" cy="1042.2" r="5.7"/><circle cx="152.8" cy="991.8" r="5.7"/><circle cx="195.5" cy="833.4" r="5.7"/><circle cx="323.1" cy="878.3" r="5.7"/><circle cx="341.5" cy="818.9" r="5.7"/><circle cx="186.1" cy="832.8" r="5.7"/><circle cx="346.7" cy="797.4" r="5.7"/><circle cx="211.2" cy="847.2" r="5.7"/><circle cx="449.2" cy="857.2" r="5.7"/><circle cx="414.7" cy="746.8" r="5.7"/><circle cx="362.8" cy="750.4" r="5.7"/><circle cx="351.8" cy="768.4" r="5.7"/><circle cx="206.9" cy="956.9" r="5.7"/><circle cx="544.3" cy="836.6" r="5.7"/><circle cx="162.2" cy="997.7" r="5.7"/><circle cx="252.0" cy="809.4" r="5.7"/><circle cx="239.0" cy="876.0" r="5.7"/><circle cx="234.5" cy="1032.5" r="5.7"/><circle cx="558.7" cy="866.1" r="5.7"/><circle cx="458.3" cy="895.0" r="5.7"/><circle cx="235.7" cy="931.0" r="5.7"/><circle cx="180.2" cy="982.4" r="5.7"/><circle cx="329.4" cy="789.5" r="5.7"/><circle cx="167.5" cy="844.0" r="5.7"/><circle cx="291.5" cy="786.3" r="5.7"/><circle cx="428.1" cy="842.1" r="5.7"/><circle cx="374.6" cy="837.9" r="5.7"/><circle cx="257.9" cy="1050.7" r="5.7"/><circle cx="263.9" cy="1060.1" r="5.7"/><circle cx="495.9" cy="796.1" r="5.7"/><circle cx="341.5" cy="809.3" r="5.7"/><circle cx="244.8" cy="866.2" r="5.7"/><circle cx="328.7" cy="831.7" r="5.7"/><circle cx="191.7" cy="866.0" r="5.7"/><circle cx="480.0" cy="808.0" r="5.7"/><circle cx="238.6" cy="856.6" r="5.7"/><circle cx="209.2" cy="1009.7" r="5.7"/><circle cx="206.2" cy="884.5" r="5.7"/><circle cx="448.1" cy="836.3" r="5.7"/><circle cx="156.5" cy="986.5" r="5.7"/><circle cx="180.1" cy="885.2" r="5.7"/><circle cx="326.3" cy="893.1" r="5.7"/><circle cx="509.3" cy="824.6" r="5.7"/><circle cx="204.1" cy="888.5" r="5.7"/><circle cx="221.2" cy="986.6" r="5.7"/><circle cx="408.8" cy="815.3" r="5.7"/><circle cx="116.4" cy="881.5" r="5.7"/><circle cx="145.2" cy="832.6" r="5.7"/><circle cx="369.2" cy="790.8" r="5.7"/><circle cx="404.6" cy="845.3" r="5.7"/><circle cx="295.7" cy="829.9" r="5.7"/><circle cx="453.5" cy="946.4" r="5.7"/><circle cx="304.1" cy="807.5" r="5.7"/><circle cx="303.8" cy="770.8" r="5.7"/><circle cx="177.6" cy="916.7" r="5.7"/><circle cx="328.5" cy="860.4" r="5.7"/><circle cx="522.7" cy="872.8" r="5.7"/><circle cx="470.7" cy="784.9" r="5.7"/><circle cx="543.2" cy="887.1" r="5.7"/><circle cx="466.5" cy="794.6" r="5.7"/><circle cx="310.0" cy="832.6" r="5.7"/><circle cx="433.7" cy="761.2" r="5.7"/><circle cx="411.1" cy="860.3" r="5.7"/><circle cx="212.3" cy="883.0" r="5.7"/><circle cx="256.2" cy="1069.5" r="5.7"/><circle cx="272.7" cy="827.2" r="5.7"/><circle cx="97.1" cy="907.6" r="5.7"/><circle cx="463.6" cy="889.7" r="5.7"/><circle cx="443.0" cy="888.4" r="5.7"/><circle cx="226.5" cy="844.2" r="5.7"/><circle cx="265.3" cy="813.1" r="5.7"/><circle cx="115.4" cy="885.6" r="5.7"/><circle cx="350.4" cy="787.3" r="5.7"/><circle cx="515.5" cy="806.8" r="5.7"/><circle cx="495.3" cy="880.2" r="5.7"/><circle cx="333.8" cy="817.7" r="5.7"/><circle cx="127.3" cy="911.2" r="5.7"/><circle cx="575.1" cy="836.4" r="5.7"/><circle cx="137.8" cy="872.6" r="5.7"/><circle cx="476.7" cy="862.0" r="5.7"/><circle cx="389.7" cy="866.3" r="5.7"/><circle cx="239.4" cy="849.3" r="5.7"/><circle cx="258.2" cy="802.7" r="5.7"/><circle cx="387.8" cy="778.8" r="5.7"/><circle cx="466.5" cy="848.7" r="5.7"/><circle cx="388.4" cy="801.9" r="5.7"/><circle cx="519.3" cy="824.1" r="5.7"/><circle cx="334.0" cy="885.9" r="5.7"/><circle cx="515.4" cy="877.8" r="5.7"/><circle cx="379.5" cy="874.5" r="5.7"/><circle cx="341.8" cy="757.0" r="5.7"/><circle cx="242.0" cy="1018.4" r="5.7"/><circle cx="267.2" cy="857.9" r="5.7"/><circle cx="114.9" cy="856.3" r="5.7"/><circle cx="208.8" cy="943.6" r="5.7"/><circle cx="336.9" cy="748.6" r="5.7"/><circle cx="283.6" cy="1067.8" r="5.7"/><circle cx="463.8" cy="786.9" r="5.7"/><circle cx="234.0" cy="1064.4" r="5.7"/><circle cx="278.2" cy="835.8" r="5.7"/><circle cx="122.9" cy="919.1" r="5.7"/><circle cx="550.5" cy="821.8" r="5.7"/><circle cx="171.8" cy="820.0" r="5.7"/><circle cx="246.5" cy="862.6" r="5.7"/><circle cx="183.1" cy="847.4" r="5.7"/><circle cx="363.2" cy="801.5" r="5.7"/><circle cx="264.3" cy="795.5" r="5.7"/><circle cx="218.4" cy="846.1" r="5.7"/><circle cx="198.2" cy="948.2" r="5.7"/><circle cx="514.8" cy="832.1" r="5.7"/><circle cx="434.2" cy="766.7" r="5.7"/><circle cx="204.2" cy="903.7" r="5.7"/><circle cx="520.4" cy="810.1" r="5.7"/><circle cx="515.1" cy="853.9" r="5.7"/><circle cx="234.8" cy="885.9" r="5.7"/><circle cx="346.9" cy="829.7" r="5.7"/><circle cx="276.8" cy="1081.5" r="5.7"/><circle cx="401.8" cy="810.3" r="5.7"/><circle cx="420.5" cy="859.8" r="5.7"/><circle cx="320.5" cy="845.4" r="5.7"/><circle cx="230.6" cy="985.8" r="5.7"/><circle cx="393.0" cy="809.1" r="5.7"/><circle cx="290.4" cy="861.2" r="5.7"/><circle cx="580.0" cy="832.8" r="5.7"/><circle cx="328.2" cy="805.1" r="5.7"/><circle cx="252.0" cy="1035.3" r="5.7"/><circle cx="348.6" cy="803.5" r="5.7"/><circle cx="472.4" cy="887.2" r="5.7"/><circle cx="204.1" cy="952.8" r="5.7"/><circle cx="252.0" cy="817.0" r="5.7"/><circle cx="380.8" cy="789.8" r="5.7"/><circle cx="319.4" cy="777.1" r="5.7"/><circle cx="473.1" cy="873.2" r="5.7"/><circle cx="347.8" cy="841.0" r="5.7"/><circle cx="508.5" cy="831.6" r="5.7"/><circle cx="137.2" cy="837.1" r="5.7"/><circle cx="378.8" cy="919.9" r="5.7"/><circle cx="503.1" cy="862.1" r="5.7"/><circle cx="501.3" cy="845.1" r="5.7"/><circle cx="478.0" cy="818.0" r="5.7"/><circle cx="504.4" cy="852.3" r="5.7"/><circle cx="449.9" cy="789.8" r="5.7"/><circle cx="562.6" cy="882.6" r="5.7"/><circle cx="200.9" cy="933.1" r="5.7"/><circle cx="185.0" cy="859.2" r="5.7"/><circle cx="182.1" cy="906.7" r="5.7"/><circle cx="207.5" cy="988.3" r="5.7"/><circle cx="147.3" cy="853.8" r="5.7"/><circle cx="380.7" cy="816.0" r="5.7"/><circle cx="188.9" cy="878.2" r="5.7"/><circle cx="441.9" cy="779.4" r="5.7"/><circle cx="494.3" cy="806.5" r="5.7"/><circle cx="447.2" cy="757.2" r="5.7"/><circle cx="433.1" cy="779.0" r="5.7"/><circle cx="169.2" cy="947.2" r="5.7"/><circle cx="316.2" cy="773.5" r="5.7"/><circle cx="453.4" cy="887.6" r="5.7"/><circle cx="220.3" cy="991.8" r="5.7"/><circle cx="426.1" cy="859.3" r="5.7"/><circle cx="388.4" cy="878.9" r="5.7"/><circle cx="480.8" cy="876.1" r="5.7"/><circle cx="192.3" cy="836.6" r="5.7"/><circle cx="346.9" cy="824.6" r="5.7"/><circle cx="556.6" cy="858.7" r="5.7"/><circle cx="125.1" cy="850.2" r="5.7"/><circle cx="458.4" cy="875.4" r="5.7"/><circle cx="278.5" cy="865.2" r="5.7"/><circle cx="213.5" cy="1034.5" r="5.7"/><circle cx="127.3" cy="869.7" r="5.7"/><circle cx="376.1" cy="848.3" r="5.7"/><circle cx="490.8" cy="860.7" r="5.7"/><circle cx="424.7" cy="910.8" r="5.7"/><circle cx="558.2" cy="829.5" r="5.7"/><circle cx="320.3" cy="883.2" r="5.7"/><circle cx="161.6" cy="820.1" r="5.7"/><circle cx="351.9" cy="828.8" r="5.7"/><circle cx="197.6" cy="952.5" r="5.7"/><circle cx="381.7" cy="825.5" r="5.7"/><circle cx="276.8" cy="1038.8" r="5.7"/><circle cx="327.0" cy="848.6" r="5.7"/><circle cx="452.9" cy="882.7" r="5.7"/><circle cx="227.5" cy="874.2" r="5.7"/><circle cx="340.8" cy="804.1" r="5.7"/><circle cx="185.0" cy="922.4" r="5.7"/><circle cx="525.8" cy="825.6" r="5.7"/><circle cx="295.9" cy="800.3" r="5.7"/><circle cx="187.9" cy="1013.1" r="5.7"/><circle cx="513.9" cy="823.5" r="5.7"/><circle cx="128.1" cy="930.5" r="5.7"/><circle cx="378.4" cy="760.1" r="5.7"/><circle cx="542.6" cy="805.6" r="5.7"/><circle cx="378.1" cy="834.5" r="5.7"/><circle cx="338.8" cy="772.5" r="5.7"/><circle cx="210.6" cy="901.4" r="5.7"/><circle cx="153.4" cy="919.5" r="5.7"/><circle cx="387.5" cy="872.5" r="5.7"/><circle cx="425.2" cy="795.0" r="5.7"/><circle cx="150.1" cy="823.9" r="5.7"/><circle cx="367.1" cy="785.2" r="5.7"/><circle cx="346.3" cy="786.1" r="5.7"/><circle cx="396.9" cy="764.6" r="5.7"/><circle cx="299.0" cy="1061.2" r="5.7"/><circle cx="436.9" cy="781.2" r="5.7"/><circle cx="295.0" cy="821.0" r="5.7"/><circle cx="458.6" cy="830.6" r="5.7"/><circle cx="555.7" cy="833.3" r="5.7"/><circle cx="408.7" cy="891.5" r="5.7"/><circle cx="161.7" cy="859.6" r="5.7"/><circle cx="236.8" cy="933.0" r="5.7"/><circle cx="596.3" cy="838.9" r="5.7"/><circle cx="260.6" cy="837.8" r="5.7"/><circle cx="184.5" cy="836.8" r="5.7"/><circle cx="187.9" cy="972.0" r="5.7"/><circle cx="436.3" cy="815.2" r="5.7"/><circle cx="229.3" cy="881.1" r="5.7"/><circle cx="342.6" cy="845.4" r="5.7"/><circle cx="340.8" cy="873.3" r="5.7"/><circle cx="539.4" cy="833.7" r="5.7"/><circle cx="205.8" cy="1023.4" r="5.7"/><circle cx="522.2" cy="864.4" r="5.7"/><circle cx="412.5" cy="742.7" r="5.7"/><circle cx="216.6" cy="877.0" r="5.7"/><circle cx="164.6" cy="889.0" r="5.7"/><circle cx="215.9" cy="915.3" r="5.7"/><circle cx="309.1" cy="773.5" r="5.7"/><circle cx="249.7" cy="1058.2" r="5.7"/><circle cx="329.9" cy="746.8" r="5.7"/><circle cx="224.3" cy="987.4" r="5.7"/><circle cx="233.2" cy="849.3" r="5.7"/><circle cx="296.4" cy="852.6" r="5.7"/><circle cx="310.9" cy="818.7" r="5.7"/><circle cx="315.8" cy="827.0" r="5.7"/><circle cx="297.7" cy="840.4" r="5.7"/><circle cx="481.4" cy="787.0" r="5.7"/><circle cx="307.2" cy="856.8" r="5.7"/><circle cx="414.7" cy="768.5" r="5.7"/><circle cx="512.4" cy="858.3" r="5.7"/><circle cx="339.1" cy="744.8" r="5.7"/><circle cx="447.9" cy="768.8" r="5.7"/><circle cx="463.9" cy="879.4" r="5.7"/><circle cx="293.6" cy="796.5" r="5.7"/><circle cx="273.8" cy="780.6" r="5.7"/><circle cx="319.7" cy="829.2" r="5.7"/><circle cx="503.5" cy="834.4" r="5.7"/><circle cx="234.6" cy="891.8" r="5.7"/><circle cx="535.4" cy="836.6" r="5.7"/><circle cx="176.9" cy="1021.5" r="5.7"/><circle cx="480.5" cy="864.3" r="5.7"/><circle cx="549.0" cy="871.0" r="5.7"/><circle cx="124.1" cy="860.9" r="5.7"/><circle cx="243.9" cy="846.6" r="5.7"/><circle cx="106.9" cy="921.4" r="5.7"/><circle cx="143.4" cy="906.6" r="5.7"/><circle cx="226.6" cy="882.5" r="5.7"/><circle cx="171.0" cy="894.6" r="5.7"/><circle cx="369.0" cy="904.7" r="5.7"/><circle cx="218.6" cy="892.3" r="5.7"/><circle cx="514.9" cy="944.9" r="5.7"/><circle cx="441.7" cy="795.7" r="5.7"/><circle cx="349.8" cy="764.1" r="5.7"/><circle cx="440.5" cy="753.7" r="5.7"/><circle cx="209.5" cy="895.6" r="5.7"/><circle cx="266.6" cy="804.3" r="5.7"/><circle cx="276.8" cy="1071.2" r="5.7"/><circle cx="121.2" cy="903.8" r="5.7"/><circle cx="299.5" cy="820.4" r="5.7"/><circle cx="202.3" cy="908.1" r="5.7"/><circle cx="138.3" cy="930.1" r="5.7"/><circle cx="380.2" cy="865.3" r="5.7"/><circle cx="450.3" cy="849.9" r="5.7"/><circle cx="393.6" cy="884.4" r="5.7"/><circle cx="185.6" cy="981.9" r="5.7"/><circle cx="263.2" cy="830.3" r="5.7"/><circle cx="201.6" cy="928.3" r="5.7"/><circle cx="275.9" cy="791.2" r="5.7"/><circle cx="487.5" cy="829.4" r="5.7"/><circle cx="378.1" cy="798.2" r="5.7"/><circle cx="322.9" cy="839.7" r="5.7"/><circle cx="455.5" cy="840.0" r="5.7"/><circle cx="207.5" cy="1044.7" r="5.7"/><circle cx="425.5" cy="814.5" r="5.7"/><circle cx="293.1" cy="805.8" r="5.7"/><circle cx="167.6" cy="930.5" r="5.7"/><circle cx="114.9" cy="892.2" r="5.7"/><circle cx="482.7" cy="856.1" r="5.7"/><circle cx="128.6" cy="895.2" r="5.7"/><circle cx="583.8" cy="854.0" r="5.7"/><circle cx="400.6" cy="870.1" r="5.7"/><circle cx="513.4" cy="922.1" r="5.7"/><circle cx="591.7" cy="847.9" r="5.7"/><circle cx="401.1" cy="837.6" r="5.7"/><circle cx="431.5" cy="860.3" r="5.7"/><circle cx="432.3" cy="851.9" r="5.7"/><circle cx="492.9" cy="872.6" r="5.7"/><circle cx="339.2" cy="783.8" r="5.7"/><circle cx="495.7" cy="830.1" r="5.7"/><circle cx="507.8" cy="862.4" r="5.7"/><circle cx="116.2" cy="900.7" r="5.7"/><circle cx="235.1" cy="881.7" r="5.7"/><circle cx="488.5" cy="938.2" r="5.7"/><circle cx="286.8" cy="790.8" r="5.7"/><circle cx="497.8" cy="871.3" r="5.7"/><circle cx="486.2" cy="837.3" r="5.7"/><circle cx="336.5" cy="788.3" r="5.7"/><circle cx="168.0" cy="1012.8" r="5.7"/><circle cx="450.7" cy="839.7" r="5.7"/><circle cx="331.7" cy="781.1" r="5.7"/><circle cx="357.0" cy="823.8" r="5.7"/><circle cx="232.3" cy="1031.5" r="5.7"/><circle cx="182.7" cy="967.8" r="5.7"/><circle cx="283.8" cy="819.0" r="5.7"/><circle cx="405.1" cy="787.6" r="5.7"/><circle cx="420.1" cy="760.6" r="5.7"/><circle cx="413.6" cy="797.9" r="5.7"/><circle cx="267.0" cy="820.0" r="5.7"/><circle cx="439.0" cy="823.3" r="5.7"/><circle cx="382.9" cy="745.4" r="5.7"/><circle cx="339.1" cy="851.1" r="5.7"/><circle cx="111.0" cy="907.1" r="5.7"/><circle cx="456.1" cy="856.7" r="5.7"/><circle cx="180.7" cy="895.2" r="5.7"/><circle cx="358.6" cy="797.7" r="5.7"/><circle cx="86.7" cy="904.7" r="5.7"/><circle cx="491.0" cy="848.2" r="5.7"/><circle cx="174.4" cy="830.9" r="5.7"/><circle cx="562.0" cy="826.8" r="5.7"/><circle cx="401.0" cy="758.4" r="5.7"/><circle cx="463.6" cy="856.3" r="5.7"/><circle cx="507.9" cy="871.8" r="5.7"/><circle cx="269.8" cy="834.8" r="5.7"/><circle cx="263.9" cy="1045.6" r="5.7"/><circle cx="423.4" cy="746.3" r="5.7"/><circle cx="315.8" cy="797.2" r="5.7"/><circle cx="408.9" cy="782.5" r="5.7"/><circle cx="487.2" cy="822.5" r="5.7"/><circle cx="371.9" cy="749.6" r="5.7"/><circle cx="424.1" cy="769.8" r="5.7"/><circle cx="116.3" cy="849.8" r="5.7"/><circle cx="355.1" cy="794.2" r="5.7"/><circle cx="417.3" cy="814.5" r="5.7"/><circle cx="397.0" cy="794.8" r="5.7"/><circle cx="286.9" cy="1110.0" r="5.7"/><circle cx="327.4" cy="892.2" r="5.7"/><circle cx="228.9" cy="1025.1" r="5.7"/><circle cx="130.4" cy="877.2" r="5.7"/><circle cx="582.4" cy="863.1" r="5.7"/><circle cx="205.0" cy="979.8" r="5.7"/><circle cx="168.2" cy="1011.4" r="5.7"/><circle cx="425.1" cy="848.1" r="5.7"/><circle cx="120.1" cy="853.8" r="5.7"/><circle cx="290.4" cy="1074.7" r="5.7"/><circle cx="193.8" cy="932.8" r="5.7"/><circle cx="259.7" cy="1030.2" r="5.7"/><circle cx="203.3" cy="924.0" r="5.7"/><circle cx="254.5" cy="835.3" r="5.7"/><circle cx="147.3" cy="911.6" r="5.7"/><circle cx="97.9" cy="899.0" r="5.7"/><circle cx="394.7" cy="770.3" r="5.7"/><circle cx="404.7" cy="871.0" r="5.7"/><circle cx="204.5" cy="984.7" r="5.7"/><circle cx="589.6" cy="833.4" r="5.7"/><circle cx="284.4" cy="1079.8" r="5.7"/><circle cx="484.9" cy="851.6" r="5.7"/><circle cx="175.2" cy="858.0" r="5.7"/><circle cx="358.2" cy="804.3" r="5.7"/><circle cx="335.8" cy="876.5" r="5.7"/><circle cx="332.9" cy="812.0" r="5.7"/><circle cx="429.0" cy="800.6" r="5.7"/><circle cx="241.8" cy="859.8" r="5.7"/><circle cx="243.7" cy="855.4" r="5.7"/><circle cx="311.7" cy="781.4" r="5.7"/><circle cx="377.7" cy="775.4" r="5.7"/><circle cx="308.2" cy="863.3" r="5.7"/><circle cx="258.0" cy="1062.0" r="5.7"/><circle cx="260.4" cy="1046.8" r="5.7"/><circle cx="505.2" cy="806.7" r="5.7"/><circle cx="304.6" cy="832.1" r="5.7"/><circle cx="504.2" cy="824.7" r="5.7"/><circle cx="484.6" cy="812.4" r="5.7"/><circle cx="317.1" cy="842.2" r="5.7"/><circle cx="227.2" cy="1023.5" r="5.7"/><circle cx="92.5" cy="905.6" r="5.7"/><circle cx="273.5" cy="832.2" r="5.7"/><circle cx="182.7" cy="1034.5" r="5.7"/><circle cx="315.0" cy="812.2" r="5.7"/><circle cx="394.8" cy="804.9" r="5.7"/><circle cx="368.9" cy="806.6" r="5.7"/><circle cx="155.0" cy="993.5" r="5.7"/><circle cx="132.9" cy="889.4" r="5.7"/><circle cx="310.5" cy="768.0" r="5.7"/><circle cx="249.4" cy="1057.6" r="5.7"/><circle cx="189.6" cy="1002.9" r="5.7"/><circle cx="190.0" cy="993.0" r="5.7"/><circle cx="430.7" cy="750.4" r="5.7"/><circle cx="425.8" cy="829.8" r="5.7"/><circle cx="110.3" cy="866.9" r="5.7"/><circle cx="412.9" cy="852.7" r="5.7"/><circle cx="181.9" cy="1002.0" r="5.7"/><circle cx="190.9" cy="1016.4" r="5.7"/><circle cx="401.2" cy="848.1" r="5.7"/><circle cx="138.1" cy="851.5" r="5.7"/><circle cx="292.7" cy="814.5" r="5.7"/><circle cx="269.9" cy="1078.1" r="5.7"/><circle cx="542.5" cy="813.9" r="5.7"/><circle cx="386.7" cy="942.7" r="5.7"/><circle cx="335.6" cy="792.6" r="5.7"/><circle cx="570.2" cy="845.2" r="5.7"/><circle cx="205.8" cy="1012.3" r="5.7"/><circle cx="444.8" cy="782.9" r="5.7"/><circle cx="278.5" cy="780.2" r="5.7"/><circle cx="370.5" cy="849.5" r="5.7"/><circle cx="513.9" cy="827.9" r="5.7"/><circle cx="157.9" cy="984.1" r="5.7"/><circle cx="334.9" cy="854.4" r="5.7"/><circle cx="188.7" cy="937.8" r="5.7"/><circle cx="468.2" cy="829.2" r="5.7"/><circle cx="375.8" cy="858.6" r="5.7"/><circle cx="411.0" cy="886.3" r="5.7"/><circle cx="326.4" cy="814.3" r="5.7"/><circle cx="398.2" cy="781.9" r="5.7"/><circle cx="548.7" cy="879.4" r="5.7"/><circle cx="263.1" cy="1037.1" r="5.7"/><circle cx="370.1" cy="842.7" r="5.7"/><circle cx="172.7" cy="915.5" r="5.7"/><circle cx="532.7" cy="816.2" r="5.7"/><circle cx="230.0" cy="1000.0" r="5.7"/><circle cx="303.1" cy="790.1" r="5.7"/><circle cx="506.5" cy="801.2" r="5.7"/><circle cx="307.7" cy="815.0" r="5.7"/><circle cx="271.7" cy="818.7" r="5.7"/><circle cx="175.9" cy="1011.4" r="5.7"/><circle cx="123.9" cy="840.4" r="5.7"/><circle cx="463.4" cy="778.5" r="5.7"/><circle cx="175.9" cy="991.8" r="5.7"/><circle cx="388.0" cy="794.2" r="5.7"/><circle cx="385.5" cy="762.9" r="5.7"/><circle cx="447.8" cy="888.0" r="5.7"/><circle cx="190.7" cy="902.3" r="5.7"/><circle cx="501.1" cy="849.4" r="5.7"/><circle cx="222.5" cy="909.3" r="5.7"/><circle cx="421.9" cy="842.6" r="5.7"/><circle cx="242.6" cy="1013.1" r="5.7"/><circle cx="548.8" cy="833.4" r="5.7"/><circle cx="476.8" cy="879.2" r="5.7"/><circle cx="525.8" cy="808.1" r="5.7"/><circle cx="440.1" cy="863.9" r="5.7"/><circle cx="199.8" cy="1025.1" r="5.7"/><circle cx="242.6" cy="1050.7" r="5.7"/><circle cx="550.9" cy="808.6" r="5.7"/><circle cx="330.5" cy="798.3" r="5.7"/><circle cx="182.3" cy="982.2" r="5.7"/><circle cx="418.7" cy="806.1" r="5.7"/><circle cx="555.0" cy="854.4" r="5.7"/><circle cx="129.9" cy="882.4" r="5.7"/><circle cx="131.1" cy="860.9" r="5.7"/><circle cx="211.8" cy="1013.1" r="5.7"/><circle cx="154.1" cy="871.8" r="5.7"/><circle cx="576.4" cy="829.1" r="5.7"/><circle cx="209.7" cy="931.9" r="5.7"/><circle cx="453.6" cy="830.9" r="5.7"/><circle cx="122.6" cy="873.7" r="5.7"/><circle cx="334.3" cy="862.6" r="5.7"/><circle cx="314.6" cy="763.1" r="5.7"/><circle cx="208.2" cy="857.9" r="5.7"/><circle cx="290.2" cy="1076.5" r="5.7"/><circle cx="363.9" cy="866.7" r="5.7"/><circle cx="506.4" cy="876.0" r="5.7"/><circle cx="172.2" cy="852.6" r="5.7"/><circle cx="131.3" cy="900.5" r="5.7"/><circle cx="537.8" cy="807.2" r="5.7"/><circle cx="425.0" cy="803.4" r="5.7"/><circle cx="398.3" cy="753.8" r="5.7"/><circle cx="440.5" cy="874.5" r="5.7"/><circle cx="400.0" cy="815.9" r="5.7"/><circle cx="393.7" cy="743.7" r="5.7"/><circle cx="89.0" cy="899.4" r="5.7"/><circle cx="446.7" cy="882.1" r="5.7"/><circle cx="255.4" cy="827.4" r="5.7"/><circle cx="217.8" cy="1002.9" r="5.7"/><circle cx="355.4" cy="746.3" r="5.7"/><circle cx="368.7" cy="864.3" r="5.7"/><circle cx="242.6" cy="1035.3" r="5.7"/><circle cx="199.2" cy="915.1" r="5.7"/><circle cx="149.4" cy="830.7" r="5.7"/><circle cx="424.5" cy="881.9" r="5.7"/><circle cx="403.4" cy="949.4" r="5.7"/><circle cx="296.5" cy="809.1" r="5.7"/><circle cx="583.7" cy="842.8" r="5.7"/><circle cx="367.8" cy="795.6" r="5.7"/><circle cx="154.3" cy="828.3" r="5.7"/><circle cx="301.5" cy="1062.7" r="5.7"/><circle cx="214.9" cy="887.6" r="5.7"/><circle cx="254.7" cy="908.3" r="5.7"/><circle cx="413.8" cy="805.6" r="5.7"/><circle cx="281.0" cy="775.3" r="5.7"/><circle cx="380.5" cy="844.4" r="5.7"/><circle cx="415.9" cy="868.6" r="5.7"/><circle cx="471.9" cy="822.0" r="5.7"/><circle cx="458.2" cy="786.0" r="5.7"/><circle cx="206.7" cy="996.0" r="5.7"/><circle cx="558.8" cy="844.6" r="5.7"/><circle cx="364.3" cy="861.3" r="5.7"/><circle cx="420.9" cy="829.2" r="5.7"/><circle cx="303.4" cy="849.3" r="5.7"/><circle cx="577.8" cy="841.0" r="5.7"/><circle cx="522.4" cy="817.9" r="5.7"/><circle cx="400.9" cy="881.9" r="5.7"/><circle cx="363.1" cy="782.1" r="5.7"/><circle cx="481.0" cy="794.2" r="5.7"/><circle cx="193.1" cy="844.9" r="5.7"/><circle cx="480.7" cy="806.9" r="5.7"/><circle cx="449.6" cy="913.0" r="5.7"/><circle cx="319.8" cy="767.5" r="5.7"/><circle cx="195.1" cy="870.9" r="5.7"/><circle cx="261.2" cy="853.2" r="5.7"/><circle cx="208.3" cy="868.2" r="5.7"/><circle cx="489.1" cy="812.1" r="5.7"/><circle cx="466.1" cy="844.0" r="5.7"/><circle cx="159.3" cy="863.4" r="5.7"/><circle cx="215.2" cy="975.5" r="5.7"/><circle cx="283.7" cy="1069.3" r="5.7"/><circle cx="574.7" cy="870.7" r="5.7"/><circle cx="430.1" cy="884.0" r="5.7"/><circle cx="181.4" cy="853.4" r="5.7"/><circle cx="550.8" cy="852.1" r="5.7"/><circle cx="155.5" cy="857.4" r="5.7"/><circle cx="439.2" cy="829.8" r="5.7"/><circle cx="581.9" cy="826.6" r="5.7"/><circle cx="202.1" cy="841.9" r="5.7"/><circle cx="316.6" cy="849.4" r="5.7"/><circle cx="539.2" cy="829.1" r="5.7"/><circle cx="123.9" cy="887.7" r="5.7"/><circle cx="363.5" cy="835.9" r="5.7"/><circle cx="359.2" cy="833.6" r="5.7"/><circle cx="193.0" cy="977.2" r="5.7"/><circle cx="477.4" cy="845.5" r="5.7"/><circle cx="435.4" cy="802.3" r="5.7"/><circle cx="280.2" cy="997.7" r="5.7"/><circle cx="294.6" cy="1049.8" r="5.7"/><circle cx="214.5" cy="952.3" r="5.7"/><circle cx="390.7" cy="815.5" r="5.7"/><circle cx="459.5" cy="869.5" r="5.7"/><circle cx="509.5" cy="817.4" r="5.7"/><circle cx="101.8" cy="907.2" r="5.7"/><circle cx="292.9" cy="777.9" r="5.7"/><circle cx="436.7" cy="751.3" r="5.7"/><circle cx="321.3" cy="814.4" r="5.7"/><circle cx="364.2" cy="769.5" r="5.7"/><circle cx="176.2" cy="891.1" r="5.7"/><circle cx="203.9" cy="1025.5" r="5.7"/><circle cx="462.7" cy="836.9" r="5.7"/><circle cx="105.8" cy="886.5" r="5.7"/><circle cx="202.3" cy="868.1" r="5.7"/><circle cx="317.9" cy="854.1" r="5.7"/><circle cx="232.8" cy="876.4" r="5.7"/><circle cx="201.4" cy="1007.7" r="5.7"/><circle cx="381.6" cy="757.2" r="5.7"/><circle cx="367.0" cy="765.4" r="5.7"/><circle cx="433.3" cy="796.8" r="5.7"/><circle cx="197.3" cy="996.0" r="5.7"/><circle cx="107.4" cy="877.9" r="5.7"/><circle cx="375.5" cy="854.3" r="5.7"/><circle cx="311.7" cy="859.2" r="5.7"/><circle cx="246.0" cy="998.6" r="5.7"/><circle cx="385.8" cy="862.5" r="5.7"/><circle cx="305.4" cy="766.0" r="5.7"/><circle cx="338.9" cy="866.3" r="5.7"/><circle cx="271.5" cy="1064.2" r="5.7"/><circle cx="119.0" cy="934.3" r="5.7"/><circle cx="255.6" cy="945.3" r="5.7"/><circle cx="281.4" cy="813.6" r="5.7"/><circle cx="473.8" cy="895.1" r="5.7"/><circle cx="408.4" cy="825.0" r="5.7"/><circle cx="94.8" cy="896.2" r="5.7"/><circle cx="460.7" cy="847.5" r="5.7"/><circle cx="236.6" cy="895.1" r="5.7"/><circle cx="487.5" cy="865.4" r="5.7"/><circle cx="222.4" cy="889.4" r="5.7"/><circle cx="496.7" cy="859.9" r="5.7"/><circle cx="160.8" cy="852.0" r="5.7"/><circle cx="192.4" cy="940.7" r="5.7"/><circle cx="428.3" cy="787.4" r="5.7"/><circle cx="210.6" cy="921.6" r="5.7"/><circle cx="450.4" cy="777.1" r="5.7"/><circle cx="209.1" cy="879.5" r="5.7"/><circle cx="342.4" cy="855.0" r="5.7"/><circle cx="281.0" cy="789.0" r="5.7"/><circle cx="449.8" cy="781.7" r="5.7"/><circle cx="196.4" cy="1016.5" r="5.7"/><circle cx="139.5" cy="859.1" r="5.7"/><circle cx="256.2" cy="819.7" r="5.7"/><circle cx="507.8" cy="812.3" r="5.7"/><circle cx="313.4" cy="859.4" r="5.7"/><circle cx="318.8" cy="891.8" r="5.7"/><circle cx="351.2" cy="861.8" r="5.7"/><circle cx="381.5" cy="767.9" r="5.7"/><circle cx="429.4" cy="808.5" r="5.7"/><circle cx="109.7" cy="927.4" r="5.7"/><circle cx="452.7" cy="816.0" r="5.7"/><circle cx="365.8" cy="830.2" r="5.7"/><circle cx="318.5" cy="837.6" r="5.7"/><circle cx="420.1" cy="916.0" r="5.7"/><circle cx="574.0" cy="818.0" r="5.7"/><circle cx="214.8" cy="857.9" r="5.7"/><circle cx="375.0" cy="828.0" r="5.7"/><circle cx="293.4" cy="791.5" r="5.7"/><circle cx="234.8" cy="1010.6" r="5.7"/><circle cx="222.0" cy="903.1" r="5.7"/><circle cx="102.0" cy="913.3" r="5.7"/><circle cx="238.3" cy="1026.8" r="5.7"/><circle cx="99.5" cy="891.1" r="5.7"/><circle cx="146.2" cy="931.7" r="5.7"/><circle cx="196.4" cy="878.4" r="5.7"/><circle cx="194.5" cy="1018.2" r="5.7"/><circle cx="433.6" cy="771.3" r="5.7"/><circle cx="392.2" cy="753.2" r="5.7"/><circle cx="427.4" cy="821.0" r="5.7"/><circle cx="460.4" cy="770.6" r="5.7"/><circle cx="440.9" cy="819.3" r="5.7"/><circle cx="496.6" cy="867.3" r="5.7"/><circle cx="365.9" cy="745.9" r="5.7"/><circle cx="228.6" cy="1023.0" r="5.7"/><circle cx="194.6" cy="920.4" r="5.7"/><circle cx="485.5" cy="879.5" r="5.7"/><circle cx="246.0" cy="1026.8" r="5.7"/><circle cx="390.9" cy="848.0" r="5.7"/><circle cx="117.1" cy="919.1" r="5.7"/><circle cx="200.0" cy="1040.0" r="5.7"/><circle cx="433.3" cy="834.5" r="5.7"/><circle cx="243.2" cy="879.2" r="5.7"/><circle cx="307.8" cy="873.5" r="5.7"/><circle cx="264.8" cy="1074.7" r="5.7"/><circle cx="389.0" cy="827.5" r="5.7"/><circle cx="376.6" cy="765.7" r="5.7"/><circle cx="120.0" cy="913.4" r="5.7"/><circle cx="321.2" cy="824.8" r="5.7"/><circle cx="270.1" cy="801.0" r="5.7"/><circle cx="148.9" cy="840.4" r="5.7"/><circle cx="427.3" cy="864.0" r="5.7"/><circle cx="249.4" cy="1049.0" r="5.7"/><circle cx="497.1" cy="835.8" r="5.7"/><circle cx="363.0" cy="896.2" r="5.7"/><circle cx="475.1" cy="801.7" r="5.7"/><circle cx="333.7" cy="752.5" r="5.7"/><circle cx="157.2" cy="822.9" r="5.7"/><circle cx="457.3" cy="852.6" r="5.7"/><circle cx="517.2" cy="816.4" r="5.7"/><circle cx="220.5" cy="882.3" r="5.7"/><circle cx="300.9" cy="826.5" r="5.7"/><circle cx="213.6" cy="995.9" r="5.7"/><circle cx="202.3" cy="862.3" r="5.7"/><circle cx="193.5" cy="946.0" r="5.7"/><circle cx="560.0" cy="807.0" r="5.7"/><circle cx="109.9" cy="896.5" r="5.7"/><circle cx="531.6" cy="808.0" r="5.7"/><circle cx="348.7" cy="746.5" r="5.7"/><circle cx="439.6" cy="807.8" r="5.7"/><circle cx="110.2" cy="889.6" r="5.7"/><circle cx="195.1" cy="994.0" r="5.7"/><circle cx="110.8" cy="918.4" r="5.7"/><circle cx="328.2" cy="865.7" r="5.7"/><circle cx="127.1" cy="903.7" r="5.7"/><circle cx="277.5" cy="1070.1" r="5.7"/><circle cx="285.0" cy="1060.0" r="5.7"/><circle cx="144.9" cy="826.9" r="5.7"/><circle cx="160.5" cy="835.7" r="5.7"/><circle cx="413.1" cy="872.6" r="5.7"/><circle cx="189.6" cy="854.3" r="5.7"/><circle cx="111.1" cy="860.1" r="5.7"/><circle cx="168.9" cy="834.7" r="5.7"/><circle cx="352.2" cy="866.8" r="5.7"/><circle cx="395.7" cy="825.6" r="5.7"/><circle cx="358.9" cy="859.7" r="5.7"/><circle cx="439.2" cy="763.0" r="5.7"/><circle cx="204.0" cy="837.5" r="5.7"/><circle cx="224.6" cy="869.3" r="5.7"/><circle cx="198.6" cy="891.7" r="5.7"/><circle cx="233.2" cy="1048.2" r="5.7"/><circle cx="162.2" cy="920.0" r="5.7"/><circle cx="314.6" cy="804.2" r="5.7"/><circle cx="216.1" cy="997.7" r="5.7"/><circle cx="506.5" cy="867.4" r="5.7"/><circle cx="196.2" cy="852.1" r="5.7"/><circle cx="383.6" cy="833.6" r="5.7"/><circle cx="260.6" cy="821.8" r="5.7"/><circle cx="550.0" cy="860.9" r="5.7"/><circle cx="301.9" cy="801.8" r="5.7"/><circle cx="297.3" cy="1073.0" r="5.7"/><circle cx="540.6" cy="842.4" r="5.7"/><circle cx="376.3" cy="746.4" r="5.7"/><circle cx="187.2" cy="905.9" r="5.7"/><circle cx="163.9" cy="985.8" r="5.7"/><circle cx="410.4" cy="835.3" r="5.7"/><circle cx="306.6" cy="824.2" r="5.7"/><circle cx="455.1" cy="848.1" r="5.7"/><circle cx="272.0" cy="1050.0" r="5.7"/><circle cx="417.8" cy="853.8" r="5.7"/><circle cx="526.0" cy="821.1" r="5.7"/><circle cx="218.6" cy="1013.1" r="5.7"/><circle cx="326.0" cy="844.4" r="5.7"/><circle cx="325.1" cy="795.1" r="5.7"/><circle cx="457.4" cy="791.1" r="5.7"/><circle cx="190.4" cy="983.6" r="5.7"/><circle cx="500.4" cy="814.4" r="5.7"/><circle cx="456.6" cy="776.6" r="5.7"/><circle cx="570.1" cy="811.6" r="5.7"/><circle cx="465.8" cy="896.8" r="5.7"/><circle cx="442.9" cy="941.2" r="5.7"/><circle cx="350.0" cy="852.9" r="5.7"/><circle cx="402.3" cy="741.3" r="5.7"/><circle cx="493.0" cy="917.5" r="5.7"/><circle cx="441.0" cy="882.2" r="5.7"/><circle cx="164.9" cy="893.5" r="5.7"/><circle cx="309.1" cy="796.1" r="5.7"/><circle cx="169.1" cy="990.9" r="5.7"/><circle cx="441.5" cy="839.6" r="5.7"/><circle cx="278.2" cy="827.9" r="5.7"/><circle cx="198.5" cy="884.4" r="5.7"/><circle cx="384.1" cy="753.2" r="5.7"/><circle cx="477.0" cy="886.7" r="5.7"/><circle cx="365.4" cy="987.4" r="5.7"/><circle cx="103.4" cy="901.2" r="5.7"/><circle cx="185.3" cy="894.6" r="5.7"/><circle cx="208.4" cy="1004.6" r="5.7"/><circle cx="197.8" cy="843.8" r="5.7"/><circle cx="126.3" cy="845.9" r="5.7"/><circle cx="245.1" cy="1038.8" r="5.7"/><circle cx="126.7" cy="839.5" r="5.7"/><circle cx="157.3" cy="843.2" r="5.7"/><circle cx="379.3" cy="808.7" r="5.7"/><circle cx="225.9" cy="842.6" r="5.7"/><circle cx="446.7" cy="867.1" r="5.7"/><circle cx="392.1" cy="836.7" r="5.7"/><circle cx="209.5" cy="888.9" r="5.7"/><circle cx="120.9" cy="925.5" r="5.7"/><circle cx="426.1" cy="872.8" r="5.7"/><circle cx="433.6" cy="821.8" r="5.7"/><circle cx="387.2" cy="845.2" r="5.7"/><circle cx="188.7" cy="974.7" r="5.7"/><circle cx="446.4" cy="893.7" r="5.7"/><circle cx="174.4" cy="843.9" r="5.7"/><circle cx="402.2" cy="889.2" r="5.7"/><circle cx="295.4" cy="825.2" r="5.7"/><circle cx="311.7" cy="855.2" r="5.7"/><circle cx="343.6" cy="833.1" r="5.7"/><circle cx="419.3" cy="754.1" r="5.7"/><circle cx="359.6" cy="790.0" r="5.7"/><circle cx="416.1" cy="791.0" r="5.7"/><circle cx="168.8" cy="859.2" r="5.7"/><circle cx="199.2" cy="1022.0" r="5.7"/><circle cx="470.2" cy="918.4" r="5.7"/><circle cx="506.0" cy="881.4" r="5.7"/><circle cx="185.3" cy="982.4" r="5.7"/><circle cx="335.4" cy="830.7" r="5.7"/><circle cx="329.2" cy="837.9" r="5.7"/><circle cx="235.7" cy="1031.9" r="5.7"/><circle cx="447.7" cy="764.6" r="5.7"/><circle cx="431.8" cy="817.5" r="5.7"/><circle cx="413.4" cy="758.3" r="5.7"/><circle cx="198.0" cy="1005.0" r="5.7"/><circle cx="296.4" cy="1046.5" r="5.7"/><circle cx="297.2" cy="1071.4" r="5.7"/><circle cx="216.8" cy="904.8" r="5.7"/><circle cx="455.6" cy="801.7" r="5.7"/><circle cx="218.2" cy="899.5" r="5.7"/><circle cx="410.6" cy="793.4" r="5.7"/><circle cx="446.4" cy="778.9" r="5.7"/><circle cx="173.6" cy="927.7" r="5.7"/><circle cx="156.3" cy="933.5" r="5.7"/><circle cx="557.2" cy="873.6" r="5.7"/><circle cx="220.3" cy="1049.0" r="5.7"/><circle cx="489.6" cy="790.5" r="5.7"/><circle cx="566.7" cy="873.5" r="5.7"/><circle cx="223.7" cy="1048.2" r="5.7"/><circle cx="178.0" cy="828.5" r="5.7"/><circle cx="228.4" cy="985.9" r="5.7"/><circle cx="311.7" cy="869.2" r="5.7"/><circle cx="191.0" cy="871.9" r="5.7"/><circle cx="323.0" cy="755.1" r="5.7"/><circle cx="169.2" cy="883.5" r="5.7"/><circle cx="323.0" cy="807.7" r="5.7"/><circle cx="175.9" cy="978.1" r="5.7"/><circle cx="256.7" cy="815.1" r="5.7"/><circle cx="175.5" cy="906.6" r="5.7"/><circle cx="203.2" cy="1033.6" r="5.7"/><circle cx="572.7" cy="878.0" r="5.7"/><circle cx="376.1" cy="843.8" r="5.7"/><circle cx="192.7" cy="894.5" r="5.7"/><circle cx="232.3" cy="1028.5" r="5.7"/><circle cx="142.3" cy="846.5" r="5.7"/><circle cx="141.6" cy="868.6" r="5.7"/><circle cx="414.9" cy="838.5" r="5.7"/><circle cx="161.0" cy="884.7" r="5.7"/><circle cx="201.5" cy="982.4" r="5.7"/><circle cx="132.3" cy="845.4" r="5.7"/><circle cx="318.6" cy="878.2" r="5.7"/><circle cx="116.5" cy="923.3" r="5.7"/><circle cx="406.2" cy="809.6" r="5.7"/><circle cx="201.2" cy="938.9" r="5.7"/><circle cx="387.5" cy="788.1" r="5.7"/><circle cx="474.6" cy="812.2" r="5.7"/><circle cx="310.6" cy="886.7" r="5.7"/></g>
<g fill-opacity="0.7"><circle cx="353.3" cy="781.1" r="5.0" fill="#471f70"/><circle cx="420.1" cy="886.9" r="5.0" fill="#95d740"/><circle cx="225.5" cy="1026.8" r="5.0" fill="#287d8e"/><circle cx="191.6" cy="882.9" r="5.0" fill="#32668d"/><circle cx="434.5" cy="809.6" r="5.0" fill="#31698d"/><circle cx="246.1" cy="1030.2" r="5.0" fill="#219c88"/><circle cx="431.1" cy="746.0" r="5.0" fill="#460e61"/><circle cx="377.1" cy="818.5" r="5.0" fill="#355f8d"/><circle cx="498.5" cy="818.3" r="5.0" fill="#228e8c"/><circle cx="381.2" cy="853.9" r="5.0" fill="#2a788e"/><circle cx="280.9" cy="1077.1" r="5.0" fill="#d7e226"/><circle cx="264.5" cy="1040.5" r="5.0" fill="#3e4b89"/><circle cx="191.3" cy="984.9" r="5.0" fill="#b1dc2e"/><circle cx="353.3" cy="849.5" r="5.0" fill="#3e4b88"/><circle cx="288.4" cy="851.9" r="5.0" fill="#306a8d"/><circle cx="107.1" cy="912.2" r="5.0" fill="#450a5c"/><circle cx="169.3" cy="829.7" r="5.0" fill="#423f84"/><circle cx="182.9" cy="927.9" r="5.0" fill="#461466"/><circle cx="238.3" cy="870.3" r="5.0" fill="#39558b"/><circle cx="418.2" cy="776.2" r="5.0" fill="#44367f"/><circle cx="288.7" cy="1054.1" r="5.0" fill="#297c8e"/><circle cx="235.0" cy="1012.0" r="5.0" fill="#c3e026"/><circle cx="471.8" cy="965.2" r="5.0" fill="#461668"/><circle cx="527.0" cy="871.8" r="5.0" fill="#89d447"/><circle cx="448.1" cy="828.9" r="5.0" fill="#440356"/><circle cx="177.5" cy="921.7" r="5.0" fill="#471d6e"/><circle cx="274.4" cy="809.4" r="5.0" fill="#28ac80"/><circle cx="309.0" cy="878.5" r="5.0" fill="#461567"/><circle cx="478.8" cy="830.1" r="5.0" fill="#238a8d"/><circle cx="215.7" cy="953.7" r="5.0" fill="#375c8c"/><circle cx="449.0" cy="877.1" r="5.0" fill="#3b528a"/><circle cx="403.7" cy="861.6" r="5.0" fill="#39578b"/><circle cx="299.2" cy="788.4" r="5.0" fill="#3b528a"/><circle cx="179.6" cy="857.3" r="5.0" fill="#fce725"/><circle cx="158.5" cy="871.8" r="5.0" fill="#45327d"/><circle cx="270.6" cy="785.4" r="5.0" fill="#238b8c"/><circle cx="490.5" cy="826.5" r="5.0" fill="#3c508a"/><circle cx="370.7" cy="869.7" r="5.0" fill="#450659"/><circle cx="494.6" cy="812.6" r="5.0" fill="#297a8e"/><circle cx="405.4" cy="754.2" r="5.0" fill="#471f70"/><circle cx="288.3" cy="836.8" r="5.0" fill="#69cb5b"/><circle cx="256.0" cy="1070.4" r="5.0" fill="#dbe326"/><circle cx="240.9" cy="1021.7" r="5.0" fill="#229e87"/><circle cx="356.3" cy="907.5" r="5.0" fill="#472a79"/><circle cx="515.5" cy="869.1" r="5.0" fill="#45307c"/><circle cx="453.7" cy="766.1" r="5.0" fill="#39568b"/><circle cx="245.1" cy="1066.1" r="5.0" fill="#45bf70"/><circle cx="129.9" cy="922.9" r="5.0" fill="#297a8e"/><circle cx="430.9" cy="782.8" r="5.0" fill="#461567"/><circle cx="227.2" cy="1043.9" r="5.0" fill="#e0e325"/><circle cx="200.2" cy="853.8" r="5.0" fill="#482273"/><circle cx="479.0" cy="836.2" r="5.0" fill="#462c7a"/><circle cx="428.8" cy="761.4" r="5.0" fill="#22a186"/><circle cx="135.5" cy="906.8" r="5.0" fill="#482273"/><circle cx="433.5" cy="867.4" r="5.0" fill="#45317c"/><circle cx="206.6" cy="852.4" r="5.0" fill="#433a81"/><circle cx="315.0" cy="778.4" r="5.0" fill="#27818d"/><circle cx="436.6" cy="871.9" r="5.0" fill="#44367f"/><circle cx="222.6" cy="895.2" r="5.0" fill="#440457"/><circle cx="220.3" cy="1023.4" r="5.0" fill="#bedf26"/><circle cx="334.5" cy="843.2" r="5.0" fill="#22a585"/><circle cx="422.0" cy="825.1" r="5.0" fill="#2c748e"/><circle cx="322.3" cy="871.9" r="5.0" fill="#461062"/><circle cx="378.1" cy="786.2" r="5.0" fill="#450659"/><circle cx="534.8" cy="871.2" r="5.0" fill="#461264"/><circle cx="360.3" cy="852.8" r="5.0" fill="#482173"/><circle cx="183.7" cy="902.1" r="5.0" fill="#461768"/><circle cx="540.3" cy="877.1" r="5.0" fill="#461264"/><circle cx="316.3" cy="785.5" r="5.0" fill="#22908c"/><circle cx="231.1" cy="1047.7" r="5.0" fill="#f8e625"/><circle cx="328.6" cy="876.0" r="5.0" fill="#424085"/><circle cx="403.7" cy="823.7" r="5.0" fill="#450558"/><circle cx="179.3" cy="1023.4" r="5.0" fill="#2e6f8e"/><circle cx="370.9" cy="760.6" r="5.0" fill="#238a8d"/><circle cx="281.2" cy="783.7" r="5.0" fill="#2c748e"/><circle cx="358.1" cy="770.2" r="5.0" fill="#25858d"/><circle cx="338.0" cy="797.9" r="5.0" fill="#461062"/><circle cx="397.2" cy="866.6" r="5.0" fill="#cde126"/><circle cx="438.2" cy="889.4" r="5.0" fill="#462e7b"/><circle cx="177.4" cy="911.4" r="5.0" fill="#450a5c"/><circle cx="556.4" cy="813.6" r="5.0" fill="#3b528a"/><circle cx="489.6" cy="798.1" r="5.0" fill="#24a983"/><circle cx="329.2" cy="757.3" r="5.0" fill="#3d4e89"/><circle cx="327.7" cy="877.2" r="5.0" fill="#482576"/><circle cx="253.2" cy="849.9" r="5.0" fill="#229d88"/><circle cx="225.5" cy="1011.4" r="5.0" fill="#ece525"/><circle cx="269.9" cy="1062.7" r="5.0" fill="#5ac663"/><circle cx="318.4" cy="759.3" r="5.0" fill="#450c5f"/><circle cx="399.4" cy="799.1" r="5.0" fill="#25878d"/><circle cx="390.9" cy="842.5" r="5.0" fill="#287d8e"/><circle cx="229.5" cy="900.1" r="5.0" fill="#3c508a"/><circle cx="209.1" cy="906.1" r="5.0" fill="#472a78"/><circle cx="471.6" cy="838.5" r="5.0" fill="#472878"/><circle cx="275.8" cy="856.6" r="5.0" fill="#462b79"/><circle cx="252.8" cy="1042.2" r="5.0" fill="#3e4a88"/><circle cx="152.8" cy="991.8" r="5.0" fill="#6dcd59"/><circle cx="195.5" cy="833.4" r="5.0" fill="#238b8c"/><circle cx="323.1" cy="878.3" r="5.0" fill="#462c7a"/><circle cx="341.5" cy="818.9" r="5.0" fill="#e0e325"/><circle cx="186.1" cy="832.8" r="5.0" fill="#482475"/><circle cx="346.7" cy="797.4" r="5.0" fill="#45317c"/><circle cx="211.2" cy="847.2" r="5.0" fill="#433b82"/><circle cx="449.2" cy="857.2" r="5.0" fill="#462e7b"/><circle cx="414.7" cy="746.8" r="5.0" fill="#39568b"/><circle cx="362.8" cy="750.4" r="5.0" fill="#365c8c"/><circle cx="351.8" cy="768.4" r="5.0" fill="#452f7b"/><circle cx="206.9" cy="956.9" r="5.0" fill="#d9e226"/><circle cx="544.3" cy="836.6" r="5.0" fill="#471b6d"/><circle cx="162.2" cy="997.7" r="5.0" fill="#e0e325"/><circle cx="252.0" cy="809.4" r="5.0" fill="#471e6f"/><circle cx="239.0" cy="876.0" r="5.0" fill="#450b5d"/><circle cx="234.5" cy="1032.5" r="5.0" fill="#24898d"/><circle cx="558.7" cy="866.1" r="5.0" fill="#450d5f"/><circle cx="458.3" cy="895.0" r="5.0" fill="#471b6c"/><circle cx="235.7" cy="931.0" r="5.0" fill="#eae525"/><circle cx="180.2" cy="982.4" r="5.0" fill="#27ab81"/><circle cx="329.4" cy="789.5" r="5.0" fill="#482575"/><circle cx="167.5" cy="844.0" r="5.0" fill="#45307c"/><circle cx="291.5" cy="786.3" r="5.0" fill="#440558"/><circle cx="428.1" cy="842.1" r="5.0" fill="#38588b"/><circle cx="374.6" cy="837.9" r="5.0" fill="#47186a"/><circle cx="257.9" cy="1050.7" r="5.0" fill="#5cc762"/><circle cx="263.9" cy="1060.1" r="5.0" fill="#f6e625"/><circle cx="495.9" cy="796.1" r="5.0" fill="#91d642"/><circle cx="341.5" cy="809.3" r="5.0" fill="#443880"/><circle cx="244.8" cy="866.2" r="5.0" fill="#45317c"/><circle cx="328.7" cy="831.7" r="5.0" fill="#35608d"/><circle cx="191.7" cy="866.0" r="5.0" fill="#229f87"/><circle cx="480.0" cy="808.0" r="5.0" fill="#461163"/><circle cx="238.6" cy="856.6" r="5.0" fill="#433c83"/><circle cx="209.2" cy="1009.7" r="5.0" fill="#eee525"/><circle cx="206.2" cy="884.5" r="5.0" fill="#471d6e"/><circle cx="448.1" cy="836.3" r="5.0" fill="#45095c"/><circle cx="156.5" cy="986.5" r="5.0" fill="#cde126"/><circle cx="180.1" cy="885.2" r="5.0" fill="#dae326"/><circle cx="326.3" cy="893.1" r="5.0" fill="#482475"/><circle cx="509.3" cy="824.6" r="5.0" fill="#3b528a"/><circle cx="204.1" cy="888.5" r="5.0" fill="#482172"/><circle cx="221.2" cy="986.6" r="5.0" fill="#b9de28"/><circle cx="408.8" cy="815.3" r="5.0" fill="#21978a"/><circle cx="116.4" cy="881.5" r="5.0" fill="#e5e425"/><circle cx="145.2" cy="832.6" r="5.0" fill="#3b518a"/><circle cx="369.2" cy="790.8" r="5.0" fill="#355e8d"/><circle cx="404.6" cy="845.3" r="5.0" fill="#c4e026"/><circle cx="295.7" cy="829.9" r="5.0" fill="#22a585"/><circle cx="453.5" cy="946.4" r="5.0" fill="#21968a"/><circle cx="304.1" cy="807.5" r="5.0" fill="#21918c"/><circle cx="303.8" cy="770.8" r="5.0" fill="#462d7a"/><circle cx="177.6" cy="916.7" r="5.0" fill="#c4e026"/><circle cx="328.5" cy="860.4" r="5.0" fill="#45327d"/><circle cx="522.7" cy="872.8" r="5.0" fill="#2a798e"/><circle cx="470.7" cy="784.9" r="5.0" fill="#450b5e"/><circle cx="543.2" cy="887.1" r="5.0" fill="#414487"/><circle cx="466.5" cy="794.6" r="5.0" fill="#8ad446"/><circle cx="310.0" cy="832.6" r="5.0" fill="#440255"/><circle cx="433.7" cy="761.2" r="5.0" fill="#45337d"/><circle cx="411.1" cy="860.3" r="5.0" fill="#3d4e89"/><circle cx="212.3" cy="883.0" r="5.0" fill="#31b27b"/><circle cx="256.2" cy="1069.5" r="5.0" fill="#b8de29"/><circle cx="272.7" cy="827.2" r="5.0" fill="#461365"/><circle cx="97.1" cy="907.6" r="5.0" fill="#33648d"/><circle cx="463.6" cy="889.7" r="5.0" fill="#424185"/><circle cx="443.0" cy="888.4" r="5.0" fill="#24888d"/><circle cx="226.5" cy="844.2" r="5.0" fill="#2bae7f"/><circle cx="265.3" cy="813.1" r="5.0" fill="#45085a"/><circle cx="115.4" cy="885.6" r="5.0" fill="#462d7a"/><circle cx="350.4" cy="787.3" r="5.0" fill="#462e7b"/><circle cx="515.5" cy="806.8" r="5.0" fill="#47196a"/><circle cx="495.3" cy="880.2" r="5.0" fill="#219889"/><circle cx="333.8" cy="817.7" r="5.0" fill="#472071"/><circle cx="127.3" cy="911.2" r="5.0" fill="#238b8c"/><circle cx="575.1" cy="836.4" r="5.0" fill="#2db07d"/><circle cx="137.8" cy="872.6" r="5.0" fill="#22a784"/><circle cx="476.7" cy="862.0" r="5.0" fill="#26848d"/><circle cx="389.7" cy="866.3" r="5.0" fill="#482576"/><circle cx="239.4" cy="849.3" r="5.0" fill="#461466"/><circle cx="258.2" cy="802.7" r="5.0" fill="#414386"/><circle cx="387.8" cy="778.8" r="5.0" fill="#21938b"/><circle cx="466.5" cy="848.7" r="5.0" fill="#26838d"/><circle cx="388.4" cy="801.9" r="5.0" fill="#45075a"/><circle cx="519.3" cy="824.1" r="5.0" fill="#461264"/><circle cx="334.0" cy="885.9" r="5.0" fill="#461163"/><circle cx="515.4" cy="877.8" r="5.0" fill="#482071"/><circle cx="379.5" cy="874.5" r="5.0" fill="#460f61"/><circle cx="341.8" cy="757.0" r="5.0" fill="#d2e226"/><circle cx="242.0" cy="1018.4" r="5.0" fill="#e2e425"/><circle cx="267.2" cy="857.9" r="5.0" fill="#461164"/><circle cx="114.9" cy="856.3" r="5.0" fill="#450a5c"/><circle cx="208.8" cy="943.6" r="5.0" fill="#462c7a"/><circle cx="336.9" cy="748.6" r="5.0" fill="#22a585"/><circle cx="283.6" cy="1067.8" r="5.0" fill="#21978a"/><circle cx="463.8" cy="786.9" r="5.0" fill="#e9e425"/><circle cx="234.0" cy="1064.4" r="5.0" fill="#c6e026"/><circle cx="278.2" cy="835.8" r="5.0" fill="#34628d"/><circle cx="122.9" cy="919.1" r="5.0" fill="#3e4a88"/><circle cx="550.5" cy="821.8" r="5.0" fill="#a1d938"/><circle cx="171.8" cy="820.0" r="5.0" fill="#482475"/><circle cx="246.5" cy="862.6" r="5.0" fill="#45327d"/><circle cx="183.1" cy="847.4" r="5.0" fill="#443880"/><circle cx="363.2" cy="801.5" r="5.0" fill="#228f8c"/><circle cx="264.3" cy="795.5" r="5.0" fill="#f7e625"/><circle cx="218.4" cy="846.1" r="5.0" fill="#ebe525"/><circle cx="198.2" cy="948.2" r="5.0" fill="#450659"/><circle cx="514.8" cy="832.1" r="5.0" fill="#229d88"/><circle cx="434.2" cy="766.7" r="5.0" fill="#32668d"/><circle cx="204.2" cy="903.7" r="5.0" fill="#443880"/><circle cx="520.4" cy="810.1" r="5.0" fill="#31b27b"/><circle cx="515.1" cy="853.9" r="5.0" fill="#3e4a88"/><circle cx="234.8" cy="885.9" r="5.0" fill="#462c79"/><circle cx="346.9" cy="829.7" r="5.0" fill="#450e60"/><circle cx="276.8" cy="1081.5" r="5.0" fill="#c6e026"/><circle cx="401.8" cy="810.3" r="5.0" fill="#472777"/><circle cx="420.5" cy="859.8" r="5.0" fill="#3f4888"/><circle cx="320.5" cy="845.4" r="5.0" fill="#45085b"/><circle cx="230.6" cy="985.8" r="5.0" fill="#2d718e"/><circle cx="393.0" cy="809.1" r="5.0" fill="#229e87"/><circle cx="290.4" cy="861.2" r="5.0" fill="#45337e"/><circle cx="580.0" cy="832.8" r="5.0" fill="#482475"/><circle cx="328.2" cy="805.1" r="5.0" fill="#450d60"/><circle cx="252.0" cy="1035.3" r="5.0" fill="#fbe725"/><circle cx="348.6" cy="803.5" r="5.0" fill="#472978"/><circle cx="472.4" cy="887.2" r="5.0" fill="#23a984"/><circle cx="204.1" cy="952.8" r="5.0" fill="#229e88"/><circle cx="252.0" cy="817.0" r="5.0" fill="#33658d"/><circle cx="380.8" cy="789.8" r="5.0" fill="#414386"/><circle cx="319.4" cy="777.1" r="5.0" fill="#22a286"/><circle cx="473.1" cy="873.2" r="5.0" fill="#2b768e"/><circle cx="347.8" cy="841.0" r="5.0" fill="#433c83"/><circle cx="508.5" cy="831.6" r="5.0" fill="#482374"/><circle cx="137.2" cy="837.1" r="5.0" fill="#90d643"/><circle cx="378.8" cy="919.9" r="5.0" fill="#2c738e"/><circle cx="503.1" cy="862.1" r="5.0" fill="#21948b"/><circle cx="501.3" cy="845.1" r="5.0" fill="#433a81"/><circle cx="478.0" cy="818.0" r="5.0" fill="#2a778e"/><circle cx="504.4" cy="852.3" r="5.0" fill="#25aa82"/><circle cx="449.9" cy="789.8" r="5.0" fill="#22a386"/><circle cx="562.6" cy="882.6" r="5.0" fill="#472a79"/><circle cx="200.9" cy="933.1" r="5.0" fill="#365d8d"/><circle cx="185.0" cy="859.2" r="5.0" fill="#482676"/><circle cx="182.1" cy="906.7" r="5.0" fill="#460f61"/><circle cx="207.5" cy="988.3" r="5.0" fill="#27818d"/><circle cx="147.3" cy="853.8" r="5.0" fill="#450b5e"/><circle cx="380.7" cy="816.0" r="5.0" fill="#450659"/><circle cx="188.9" cy="878.2" r="5.0" fill="#45307c"/><circle cx="441.9" cy="779.4" r="5.0" fill="#21988a"/><circle cx="494.3" cy="806.5" r="5.0" fill="#440255"/><circle cx="447.2" cy="757.2" r="5.0" fill="#461668"/><circle cx="433.1" cy="779.0" r="5.0" fill="#45085b"/><circle cx="169.2" cy="947.2" r="5.0" fill="#472a79"/><circle cx="316.2" cy="773.5" r="5.0" fill="#45327d"/><circle cx="453.4" cy="887.6" r="5.0" fill="#47196a"/><circle cx="220.3" cy="991.8" r="5.0" fill="#e3e425"/><circle cx="426.1" cy="859.3" r="5.0" fill="#462f7b"/><circle cx="388.4" cy="878.9" r="5.0" fill="#3f4888"/><circle cx="480.8" cy="876.1" r="5.0" fill="#462e7b"/><circle cx="192.3" cy="836.6" r="5.0" fill="#450759"/><circle cx="346.9" cy="824.6" r="5.0" fill="#440154"/><circle cx="556.6" cy="858.7" r="5.0" fill="#443880"/><circle cx="125.1" cy="850.2" r="5.0" fill="#472071"/><circle cx="458.4" cy="875.4" r="5.0" fill="#471e6f"/><circle cx="278.5" cy="865.2" r="5.0" fill="#c6e026"/><circle cx="213.5" cy="1034.5" r="5.0" fill="#51c369"/><circle cx="127.3" cy="869.7" r="5.0" fill="#471b6d"/><circle cx="376.1" cy="848.3" r="5.0" fill="#22a386"/><circle cx="490.8" cy="860.7" r="5.0" fill="#471869"/><circle cx="424.7" cy="910.8" r="5.0" fill="#238c8c"/><circle cx="558.2" cy="829.5" r="5.0" fill="#35608d"/><circle cx="320.3" cy="883.2" r="5.0" fill="#452f7b"/><circle cx="161.6" cy="820.1" r="5.0" fill="#440356"/><circle cx="351.9" cy="828.8" r="5.0" fill="#45075a"/><circle cx="197.6" cy="952.5" r="5.0" fill="#462f7b"/><circle cx="381.7" cy="825.5" r="5.0" fill="#355e8d"/><circle cx="276.8" cy="1038.8" r="5.0" fill="#26838d"/><circle cx="327.0" cy="848.6" r="5.0" fill="#423f84"/><circle cx="452.9" cy="882.7" r="5.0" fill="#30b27c"/><circle cx="227.5" cy="874.2" r="5.0" fill="#238d8c"/><circle cx="340.8" cy="804.1" r="5.0" fill="#471e70"/><circle cx="185.0" cy="922.4" r="5.0" fill="#375a8c"/><circle cx="525.8" cy="825.6" r="5.0" fill="#229f87"/><circle cx="295.9" cy="800.3" r="5.0" fill="#433b82"/><circle cx="187.9" cy="1013.1" r="5.0" fill="#cce126"/><circle cx="513.9" cy="823.5" r="5.0" fill="#21978a"/><circle cx="128.1" cy="930.5" r="5.0" fill="#3b528a"/><circle cx="378.4" cy="760.1" r="5.0" fill="#3b518a"/><circle cx="542.6" cy="805.6" r="5.0" fill="#297b8e"/><circle cx="378.1" cy="834.5" r="5.0" fill="#450b5e"/><circle cx="338.8" cy="772.5" r="5.0" fill="#22a186"/><circle cx="210.6" cy="901.4" r="5.0" fill="#414487"/><circle cx="153.4" cy="919.5" r="5.0" fill="#471a6c"/><circle cx="387.5" cy="872.5" r="5.0" fill="#450a5c"/><circle cx="425.2" cy="795.0" r="5.0" fill="#65ca5d"/><circle cx="150.1" cy="823.9" r="5.0" fill="#461163"/><circle cx="367.1" cy="785.2" r="5.0" fill="#21938b"/><circle cx="346.3" cy="786.1" r="5.0" fill="#61c95f"/><circle cx="396.9" cy="764.6" r="5.0" fill="#f1e625"/><circle cx="299.0" cy="1061.2" r="5.0" fill="#27ac81"/><circle cx="436.9" cy="781.2" r="5.0" fill="#39568b"/><circle cx="295.0" cy="821.0" r="5.0" fill="#2a798e"/><circle cx="458.6" cy="830.6" r="5.0" fill="#471c6e"/><circle cx="555.7" cy="833.3" r="5.0" fill="#45327d"/><circle cx="408.7" cy="891.5" r="5.0" fill="#471c6d"/><circle cx="161.7" cy="859.6" r="5.0" fill="#365d8d"/><circle cx="236.8" cy="933.0" r="5.0" fill="#dde326"/><circle cx="596.3" cy="838.9" r="5.0" fill="#47186a"/><circle cx="260.6" cy="837.8" r="5.0" fill="#e9e425"/><circle cx="184.5" cy="836.8" r="5.0" fill="#423f84"/><circle cx="187.9" cy="972.0" r="5.0" fill="#62c95f"/><circle cx="436.3" cy="815.2" r="5.0" fill="#461668"/><circle cx="229.3" cy="881.1" r="5.0" fill="#461466"/><circle cx="342.6" cy="845.4" r="5.0" fill="#471769"/><circle cx="340.8" cy="873.3" r="5.0" fill="#6ccc59"/><circle cx="539.4" cy="833.7" r="5.0" fill="#22a485"/><circle cx="205.8" cy="1023.4" r="5.0" fill="#e1e425"/><circle cx="522.2" cy="864.4" r="5.0" fill="#471b6d"/><circle cx="412.5" cy="742.7" r="5.0" fill="#471f71"/><circle cx="216.6" cy="877.0" r="5.0" fill="#450d5f"/><circle cx="164.6" cy="889.0" r="5.0" fill="#44357f"/><circle cx="215.9" cy="915.3" r="5.0" fill="#414286"/><circle cx="309.1" cy="773.5" r="5.0" fill="#306b8d"/><circle cx="249.7" cy="1058.2" r="5.0" fill="#82d34c"/><circle cx="329.9" cy="746.8" r="5.0" fill="#471869"/><circle cx="224.3" cy="987.4" r="5.0" fill="#482576"/><circle cx="233.2" cy="849.3" r="5.0" fill="#450a5d"/><circle cx="296.4" cy="852.6" r="5.0" fill="#3c4e89"/><circle cx="310.9" cy="818.7" r="5.0" fill="#25858d"/><circle cx="315.8" cy="827.0" r="5.0" fill="#462c79"/><circle cx="297.7" cy="840.4" r="5.0" fill="#450d5f"/><circle cx="481.4" cy="787.0" r="5.0" fill="#238c8c"/><circle cx="307.2" cy="856.8" r="5.0" fill="#471a6c"/><circle cx="414.7" cy="768.5" r="5.0" fill="#38598c"/><circle cx="512.4" cy="858.3" r="5.0" fill="#238b8c"/><circle cx="339.1" cy="744.8" r="5.0" fill="#440255"/><circle cx="447.9" cy="768.8" r="5.0" fill="#2c758e"/><circle cx="463.9" cy="879.4" r="5.0" fill="#460f61"/><circle cx="293.6" cy="796.5" r="5.0" fill="#3e4b89"/><circle cx="273.8" cy="780.6" r="5.0" fill="#cfe126"/><circle cx="319.7" cy="829.2" r="5.0" fill="#306b8d"/><circle cx="503.5" cy="834.4" r="5.0" fill="#471c6e"/><circle cx="234.6" cy="891.8" r="5.0" fill="#44367f"/><circle cx="535.4" cy="836.6" r="5.0" fill="#21918c"/><circle cx="176.9" cy="1021.5" r="5.0" fill="#306a8d"/><circle cx="480.5" cy="864.3" r="5.0" fill="#460e61"/><circle cx="549.0" cy="871.0" r="5.0" fill="#433c83"/><circle cx="124.1" cy="860.9" r="5.0" fill="#433b82"/><circle cx="243.9" cy="846.6" r="5.0" fill="#3c4f89"/><circle cx="106.9" cy="921.4" r="5.0" fill="#2b768e"/><circle cx="143.4" cy="906.6" r="5.0" fill="#cde126"/><circle cx="226.6" cy="882.5" r="5.0" fill="#450a5c"/><circle cx="171.0" cy="894.6" r="5.0" fill="#461768"/><circle cx="369.0" cy="904.7" r="5.0" fill="#482475"/><circle cx="218.6" cy="892.3" r="5.0" fill="#404587"/><circle cx="514.9" cy="944.9" r="5.0" fill="#2e6e8e"/><circle cx="441.7" cy="795.7" r="5.0" fill="#45327d"/><circle cx="349.8" cy="764.1" r="5.0" fill="#461062"/><circle cx="440.5" cy="753.7" r="5.0" fill="#482071"/><circle cx="209.5" cy="895.6" r="5.0" fill="#461163"/><circle cx="266.6" cy="804.3" r="5.0" fill="#440558"/><circle cx="276.8" cy="1071.2" r="5.0" fill="#5ac663"/><circle cx="121.2" cy="903.8" r="5.0" fill="#440255"/><circle cx="299.5" cy="820.4" r="5.0" fill="#2caf7e"/><circle cx="202.3" cy="908.1" r="5.0" fill="#b5dd2b"/><circle cx="138.3" cy="930.1" r="5.0" fill="#21938b"/><circle cx="380.2" cy="865.3" r="5.0" fill="#d6e226"/><circle cx="450.3" cy="849.9" r="5.0" fill="#2b758e"/><circle cx="393.6" cy="884.4" r="5.0" fill="#450658"/><circle cx="185.6" cy="981.9" r="5.0" fill="#462d7a"/><circle cx="263.2" cy="830.3" r="5.0" fill="#433d83"/><circle cx="201.6" cy="928.3" r="5.0" fill="#450d5f"/><circle cx="275.9" cy="791.2" r="5.0" fill="#94d640"/><circle cx="487.5" cy="829.4" r="5.0" fill="#482273"/><circle cx="378.1" cy="798.2" r="5.0" fill="#482576"/><circle cx="322.9" cy="839.7" r="5.0" fill="#461668"/><circle cx="455.5" cy="840.0" r="5.0" fill="#38598c"/><circle cx="207.5" cy="1044.7" r="5.0" fill="#39558b"/><circle cx="425.5" cy="814.5" r="5.0" fill="#433c83"/><circle cx="293.1" cy="805.8" r="5.0" fill="#462b79"/><circle cx="167.6" cy="930.5" r="5.0" fill="#462c7a"/><circle cx="114.9" cy="892.2" r="5.0" fill="#424185"/><circle cx="482.7" cy="856.1" r="5.0" fill="#440457"/><circle cx="128.6" cy="895.2" r="5.0" fill="#44357f"/><circle cx="583.8" cy="854.0" r="5.0" fill="#38588b"/><circle cx="400.6" cy="870.1" r="5.0" fill="#238c8c"/><circle cx="513.4" cy="922.1" r="5.0" fill="#2e6e8e"/><circle cx="591.7" cy="847.9" r="5.0" fill="#2fb17c"/><circle cx="401.1" cy="837.6" r="5.0" fill="#450d5f"/><circle cx="431.5" cy="860.3" r="5.0" fill="#efe525"/><circle cx="432.3" cy="851.9" r="5.0" fill="#482374"/><circle cx="492.9" cy="872.6" r="5.0" fill="#38588b"/><circle cx="339.2" cy="783.8" r="5.0" fill="#461264"/><circle cx="495.7" cy="830.1" r="5.0" fill="#3e4c89"/><circle cx="507.8" cy="862.4" r="5.0" fill="#24888d"/><circle cx="116.2" cy="900.7" r="5.0" fill="#482576"/><circle cx="235.1" cy="881.7" r="5.0" fill="#471b6c"/><circle cx="488.5" cy="938.2" r="5.0" fill="#482475"/><circle cx="286.8" cy="790.8" r="5.0" fill="#22a286"/><circle cx="497.8" cy="871.3" r="5.0" fill="#24898d"/><circle cx="486.2" cy="837.3" r="5.0" fill="#472777"/><circle cx="336.5" cy="788.3" r="5.0" fill="#31698d"/><circle cx="168.0" cy="1012.8" r="5.0" fill="#22a386"/><circle cx="450.7" cy="839.7" r="5.0" fill="#355f8d"/><circle cx="331.7" cy="781.1" r="5.0" fill="#461466"/><circle cx="357.0" cy="823.8" r="5.0" fill="#45307c"/><circle cx="232.3" cy="1031.5" r="5.0" fill="#f5e625"/><circle cx="182.7" cy="967.8" r="5.0" fill="#c1df26"/><circle cx="283.8" cy="819.0" r="5.0" fill="#404688"/><circle cx="405.1" cy="787.6" r="5.0" fill="#21978a"/><circle cx="420.1" cy="760.6" r="5.0" fill="#74cf55"/><circle cx="413.6" cy="797.9" r="5.0" fill="#482576"/><circle cx="267.0" cy="820.0" r="5.0" fill="#472776"/><circle cx="439.0" cy="823.3" r="5.0" fill="#229e88"/><circle cx="382.9" cy="745.4" r="5.0" fill="#22a087"/><circle cx="339.1" cy="851.1" r="5.0" fill="#21988a"/><circle cx="111.0" cy="907.1" r="5.0" fill="#461769"/><circle cx="456.1" cy="856.7" r="5.0" fill="#443981"/><circle cx="180.7" cy="895.2" r="5.0" fill="#45327d"/><circle cx="358.6" cy="797.7" r="5.0" fill="#2a778e"/><circle cx="86.7" cy="904.7" r="5.0" fill="#86d449"/><circle cx="491.0" cy="848.2" r="5.0" fill="#450a5d"/><circle cx="174.4" cy="830.9" r="5.0" fill="#3b518a"/><circle cx="562.0" cy="826.8" r="5.0" fill="#450d60"/><circle cx="401.0" cy="758.4" r="5.0" fill="#45307c"/><circle cx="463.6" cy="856.3" r="5.0" fill="#433b82"/><circle cx="507.9" cy="871.8" r="5.0" fill="#34618d"/><circle cx="269.8" cy="834.8" r="5.0" fill="#462b79"/><circle cx="263.9" cy="1045.6" r="5.0" fill="#2f6d8e"/><circle cx="423.4" cy="746.3" r="5.0" fill="#461365"/><circle cx="315.8" cy="797.2" r="5.0" fill="#96d73f"/><circle cx="408.9" cy="782.5" r="5.0" fill="#3f4988"/><circle cx="487.2" cy="822.5" r="5.0" fill="#3d4d89"/><circle cx="371.9" cy="749.6" r="5.0" fill="#21938b"/><circle cx="424.1" cy="769.8" r="5.0" fill="#423f84"/><circle cx="116.3" cy="849.8" r="5.0" fill="#2c738e"/><circle cx="355.1" cy="794.2" r="5.0" fill="#21968a"/><circle cx="417.3" cy="814.5" r="5.0" fill="#461163"/><circle cx="397.0" cy="794.8" r="5.0" fill="#abdb31"/><circle cx="286.9" cy="1110.0" r="5.0" fill="#4fc36a"/><circle cx="327.4" cy="892.2" r="5.0" fill="#355f8d"/><circle cx="228.9" cy="1025.1" r="5.0" fill="#461466"/><circle cx="130.4" cy="877.2" r="5.0" fill="#3a538a"/><circle cx="582.4" cy="863.1" r="5.0" fill="#462d7a"/><circle cx="205.0" cy="979.8" r="5.0" fill="#450b5e"/><circle cx="168.2" cy="1011.4" r="5.0" fill="#b1dd2e"/><circle cx="425.1" cy="848.1" r="5.0" fill="#450e60"/><circle cx="120.1" cy="853.8" r="5.0" fill="#472a78"/><circle cx="290.4" cy="1074.7" r="5.0" fill="#56c566"/><circle cx="193.8" cy="932.8" r="5.0" fill="#433c83"/><circle cx="259.7" cy="1030.2" r="5.0" fill="#dbe326"/><circle cx="203.3" cy="924.0" r="5.0" fill="#c6e026"/><circle cx="254.5" cy="835.3" r="5.0" fill="#443880"/><circle cx="147.3" cy="911.6" r="5.0" fill="#472877"/><circle cx="97.9" cy="899.0" r="5.0" fill="#461466"/><circle cx="394.7" cy="770.3" r="5.0" fill="#3e4a88"/><circle cx="404.7" cy="871.0" r="5.0" fill="#45307c"/><circle cx="204.5" cy="984.7" r="5.0" fill="#b2dd2d"/><circle cx="589.6" cy="833.4" r="5.0" fill="#471e70"/><circle cx="284.4" cy="1079.8" r="5.0" fill="#c5e026"/><circle cx="484.9" cy="851.6" r="5.0" fill="#482676"/><circle cx="175.2" cy="858.0" r="5.0" fill="#25aa82"/><circle cx="358.2" cy="804.3" r="5.0" fill="#450659"/><circle cx="335.8" cy="876.5" r="5.0" fill="#22a785"/><circle cx="332.9" cy="812.0" r="5.0" fill="#472978"/><circle cx="429.0" cy="800.6" r="5.0" fill="#460f61"/><circle cx="241.8" cy="859.8" r="5.0" fill="#424085"/><circle cx="243.7" cy="855.4" r="5.0" fill="#228e8c"/><circle cx="311.7" cy="781.4" r="5.0" fill="#21978a"/><circle cx="377.7" cy="775.4" r="5.0" fill="#62c95f"/><circle cx="308.2" cy="863.3" r="5.0" fill="#22a286"/><circle cx="258.0" cy="1062.0" r="5.0" fill="#21938b"/><circle cx="260.4" cy="1046.8" r="5.0" fill="#32668d"/><circle cx="505.2" cy="806.7" r="5.0" fill="#471b6d"/><circle cx="304.6" cy="832.1" r="5.0" fill="#471f70"/><circle cx="504.2" cy="824.7" r="5.0" fill="#461163"/><circle cx="484.6" cy="812.4" r="5.0" fill="#47196b"/><circle cx="317.1" cy="842.2" r="5.0" fill="#39558b"/><circle cx="227.2" cy="1023.5" r="5.0" fill="#c4e026"/><circle cx="92.5" cy="905.6" r="5.0" fill="#22a286"/><circle cx="273.5" cy="832.2" r="5.0" fill="#22a286"/><circle cx="182.7" cy="1034.5" r="5.0" fill="#e6e425"/><circle cx="315.0" cy="812.2" r="5.0" fill="#3b528a"/><circle cx="394.8" cy="804.9" r="5.0" fill="#3b528a"/><circle cx="368.9" cy="806.6" r="5.0" fill="#471f71"/><circle cx="155.0" cy="993.5" r="5.0" fill="#450b5d"/><circle cx="132.9" cy="889.4" r="5.0" fill="#365e8d"/><circle cx="310.5" cy="768.0" r="5.0" fill="#471769"/><circle cx="249.4" cy="1057.6" r="5.0" fill="#38598c"/><circle cx="189.6" cy="1002.9" r="5.0" fill="#dee325"/><circle cx="190.0" cy="993.0" r="5.0" fill="#21938b"/><circle cx="430.7" cy="750.4" r="5.0" fill="#31688d"/><circle cx="425.8" cy="829.8" r="5.0" fill="#471d6e"/><circle cx="110.3" cy="866.9" r="5.0" fill="#461062"/><circle cx="412.9" cy="852.7" r="5.0" fill="#461668"/><circle cx="181.9" cy="1002.0" r="5.0" fill="#440457"/><circle cx="190.9" cy="1016.4" r="5.0" fill="#22a486"/><circle cx="401.2" cy="848.1" r="5.0" fill="#414587"/><circle cx="138.1" cy="851.5" r="5.0" fill="#47196a"/><circle cx="292.7" cy="814.5" r="5.0" fill="#2eb07d"/><circle cx="269.9" cy="1078.1" r="5.0" fill="#ece525"/><circle cx="542.5" cy="813.9" r="5.0" fill="#3e4a88"/><circle cx="386.7" cy="942.7" r="5.0" fill="#471d6e"/><circle cx="335.6" cy="792.6" r="5.0" fill="#bade28"/><circle cx="570.2" cy="845.2" r="5.0" fill="#26ab82"/><circle cx="205.8" cy="1012.3" r="5.0" fill="#461668"/><circle cx="444.8" cy="782.9" r="5.0" fill="#2c748e"/><circle cx="278.5" cy="780.2" r="5.0" fill="#462d7a"/><circle cx="370.5" cy="849.5" r="5.0" fill="#31678d"/><circle cx="513.9" cy="827.9" r="5.0" fill="#440154"/><circle cx="157.9" cy="984.1" r="5.0" fill="#ede525"/><circle cx="334.9" cy="854.4" r="5.0" fill="#25aa82"/><circle cx="188.7" cy="937.8" r="5.0" fill="#39558b"/><circle cx="468.2" cy="829.2" r="5.0" fill="#462d7a"/><circle cx="375.8" cy="858.6" r="5.0" fill="#471f71"/><circle cx="411.0" cy="886.3" r="5.0" fill="#45307c"/><circle cx="326.4" cy="814.3" r="5.0" fill="#21978a"/><circle cx="398.2" cy="781.9" r="5.0" fill="#461466"/><circle cx="548.7" cy="879.4" r="5.0" fill="#440558"/><circle cx="263.1" cy="1037.1" r="5.0" fill="#65ca5d"/><circle cx="370.1" cy="842.7" r="5.0" fill="#6fcd57"/><circle cx="172.7" cy="915.5" r="5.0" fill="#c4e026"/><circle cx="532.7" cy="816.2" r="5.0" fill="#31688d"/><circle cx="230.0" cy="1000.0" r="5.0" fill="#c8e026"/><circle cx="303.1" cy="790.1" r="5.0" fill="#461567"/><circle cx="506.5" cy="801.2" r="5.0" fill="#375a8c"/><circle cx="307.7" cy="815.0" r="5.0" fill="#471d6f"/><circle cx="271.7" cy="818.7" r="5.0" fill="#229d88"/><circle cx="175.9" cy="1011.4" r="5.0" fill="#47186a"/><circle cx="123.9" cy="840.4" r="5.0" fill="#450c5e"/><circle cx="463.4" cy="778.5" r="5.0" fill="#462c7a"/><circle cx="175.9" cy="991.8" r="5.0" fill="#219b89"/><circle cx="388.0" cy="794.2" r="5.0" fill="#450c5e"/><circle cx="385.5" cy="762.9" r="5.0" fill="#404788"/><circle cx="447.8" cy="888.0" r="5.0" fill="#375a8c"/><circle cx="190.7" cy="902.3" r="5.0" fill="#21908c"/><circle cx="501.1" cy="849.4" r="5.0" fill="#45337e"/><circle cx="222.5" cy="909.3" r="5.0" fill="#471a6b"/><circle cx="421.9" cy="842.6" r="5.0" fill="#26828d"/><circle cx="242.6" cy="1013.1" r="5.0" fill="#65ca5d"/><circle cx="548.8" cy="833.4" r="5.0" fill="#22a884"/><circle cx="476.8" cy="879.2" r="5.0" fill="#404788"/><circle cx="525.8" cy="808.1" r="5.0" fill="#433a81"/><circle cx="440.1" cy="863.9" r="5.0" fill="#440558"/><circle cx="199.8" cy="1025.1" r="5.0" fill="#e6e425"/><circle cx="242.6" cy="1050.7" r="5.0" fill="#f3e625"/><circle cx="550.9" cy="808.6" r="5.0" fill="#472978"/><circle cx="330.5" cy="798.3" r="5.0" fill="#23a983"/><circle cx="182.3" cy="982.2" r="5.0" fill="#45307c"/><circle cx="418.7" cy="806.1" r="5.0" fill="#482273"/><circle cx="555.0" cy="854.4" r="5.0" fill="#404687"/><circle cx="129.9" cy="882.4" r="5.0" fill="#45327d"/><circle cx="131.1" cy="860.9" r="5.0" fill="#462c79"/><circle cx="211.8" cy="1013.1" r="5.0" fill="#d2e226"/><circle cx="154.1" cy="871.8" r="5.0" fill="#45327d"/><circle cx="576.4" cy="829.1" r="5.0" fill="#287e8e"/><circle cx="209.7" cy="931.9" r="5.0" fill="#471c6e"/><circle cx="453.6" cy="830.9" r="5.0" fill="#461365"/><circle cx="122.6" cy="873.7" r="5.0" fill="#482475"/><circle cx="334.3" cy="862.6" r="5.0" fill="#471e6f"/><circle cx="314.6" cy="763.1" r="5.0" fill="#462e7b"/><circle cx="208.2" cy="857.9" r="5.0" fill="#45095b"/><circle cx="290.2" cy="1076.5" r="5.0" fill="#8bd446"/><circle cx="363.9" cy="866.7" r="5.0" fill="#d1e226"/><circle cx="506.4" cy="876.0" r="5.0" fill="#45337e"/><circle cx="172.2" cy="852.6" r="5.0" fill="#482575"/><circle cx="131.3" cy="900.5" r="5.0" fill="#22a286"/><circle cx="537.8" cy="807.2" r="5.0" fill="#2a798e"/><circle cx="425.0" cy="803.4" r="5.0" fill="#22a087"/><circle cx="398.3" cy="753.8" r="5.0" fill="#31688d"/><circle cx="440.5" cy="874.5" r="5.0" fill="#365d8d"/><circle cx="400.0" cy="815.9" r="5.0" fill="#32658d"/><circle cx="393.7" cy="743.7" r="5.0" fill="#450b5d"/><circle cx="89.0" cy="899.4" r="5.0" fill="#482273"/><circle cx="446.7" cy="882.1" r="5.0" fill="#471a6b"/><circle cx="255.4" cy="827.4" r="5.0" fill="#e0e325"/><circle cx="217.8" cy="1002.9" r="5.0" fill="#c0df26"/><circle cx="355.4" cy="746.3" r="5.0" fill="#33638d"/><circle cx="368.7" cy="864.3" r="5.0" fill="#45337d"/><circle cx="242.6" cy="1035.3" r="5.0" fill="#fbe725"/><circle cx="199.2" cy="915.1" r="5.0" fill="#423e84"/><circle cx="149.4" cy="830.7" r="5.0" fill="#22a585"/><circle cx="424.5" cy="881.9" r="5.0" fill="#3e4b89"/><circle cx="403.4" cy="949.4" r="5.0" fill="#482475"/><circle cx="296.5" cy="809.1" r="5.0" fill="#471f70"/><circle cx="583.7" cy="842.8" r="5.0" fill="#471a6c"/><circle cx="367.8" cy="795.6" r="5.0" fill="#21928c"/><circle cx="154.3" cy="828.3" r="5.0" fill="#482575"/><circle cx="301.5" cy="1062.7" r="5.0" fill="#b4dd2c"/><circle cx="214.9" cy="887.6" r="5.0" fill="#44367f"/><circle cx="254.7" cy="908.3" r="5.0" fill="#287d8e"/><circle cx="413.8" cy="805.6" r="5.0" fill="#462d7a"/><circle cx="281.0" cy="775.3" r="5.0" fill="#450e60"/><circle cx="380.5" cy="844.4" r="5.0" fill="#abdb32"/><circle cx="415.9" cy="868.6" r="5.0" fill="#3d4e89"/><circle cx="471.9" cy="822.0" r="5.0" fill="#24a983"/><circle cx="458.2" cy="786.0" r="5.0" fill="#47196a"/><circle cx="206.7" cy="996.0" r="5.0" fill="#5fc860"/><circle cx="558.8" cy="844.6" r="5.0" fill="#297b8e"/><circle cx="364.3" cy="861.3" r="5.0" fill="#3b528a"/><circle cx="420.9" cy="829.2" r="5.0" fill="#3a538a"/><circle cx="303.4" cy="849.3" r="5.0" fill="#2caf7e"/><circle cx="577.8" cy="841.0" r="5.0" fill="#34608d"/><circle cx="522.4" cy="817.9" r="5.0" fill="#462d7a"/><circle cx="400.9" cy="881.9" r="5.0" fill="#47196b"/><circle cx="363.1" cy="782.1" r="5.0" fill="#2c738e"/><circle cx="481.0" cy="794.2" r="5.0" fill="#471e70"/><circle cx="193.1" cy="844.9" r="5.0" fill="#d9e226"/><circle cx="480.7" cy="806.9" r="5.0" fill="#3c508a"/><circle cx="449.6" cy="913.0" r="5.0" fill="#21968a"/><circle cx="319.8" cy="767.5" r="5.0" fill="#45307b"/><circle cx="195.1" cy="870.9" r="5.0" fill="#30b27c"/><circle cx="261.2" cy="853.2" r="5.0" fill="#22a585"/><circle cx="208.3" cy="868.2" r="5.0" fill="#21938b"/><circle cx="489.1" cy="812.1" r="5.0" fill="#461163"/><circle cx="466.1" cy="844.0" r="5.0" fill="#fae725"/><circle cx="159.3" cy="863.4" r="5.0" fill="#471c6e"/><circle cx="215.2" cy="975.5" r="5.0" fill="#219a89"/><circle cx="283.7" cy="1069.3" r="5.0" fill="#2f6c8e"/><circle cx="574.7" cy="870.7" r="5.0" fill="#482172"/><circle cx="430.1" cy="884.0" r="5.0" fill="#34628d"/><circle cx="181.4" cy="853.4" r="5.0" fill="#450c5e"/><circle cx="550.8" cy="852.1" r="5.0" fill="#45317c"/><circle cx="155.5" cy="857.4" r="5.0" fill="#472a78"/><circle cx="439.2" cy="829.8" r="5.0" fill="#45075a"/><circle cx="581.9" cy="826.6" r="5.0" fill="#482676"/><circle cx="202.1" cy="841.9" r="5.0" fill="#471a6b"/><circle cx="316.6" cy="849.4" r="5.0" fill="#3e4a88"/><circle cx="539.2" cy="829.1" r="5.0" fill="#27818d"/><circle cx="123.9" cy="887.7" r="5.0" fill="#450a5d"/><circle cx="363.5" cy="835.9" r="5.0" fill="#462c79"/><circle cx="359.2" cy="833.6" r="5.0" fill="#238a8d"/><circle cx="193.0" cy="977.2" r="5.0" fill="#297a8e"/><circle cx="477.4" cy="845.5" r="5.0" fill="#461668"/><circle cx="435.4" cy="802.3" r="5.0" fill="#238b8c"/><circle cx="280.2" cy="997.7" r="5.0" fill="#472a79"/><circle cx="294.6" cy="1049.8" r="5.0" fill="#22a286"/><circle cx="214.5" cy="952.3" r="5.0" fill="#287e8e"/><circle cx="390.7" cy="815.5" r="5.0" fill="#460e60"/><circle cx="459.5" cy="869.5" r="5.0" fill="#83d34b"/><circle cx="509.5" cy="817.4" r="5.0" fill="#229e87"/><circle cx="101.8" cy="907.2" r="5.0" fill="#462c79"/><circle cx="292.9" cy="777.9" r="5.0" fill="#47186a"/><circle cx="436.7" cy="751.3" r="5.0" fill="#2a798e"/><circle cx="321.3" cy="814.4" r="5.0" fill="#2b758e"/><circle cx="364.2" cy="769.5" r="5.0" fill="#34608d"/><circle cx="176.2" cy="891.1" r="5.0" fill="#472978"/><circle cx="203.9" cy="1025.5" r="5.0" fill="#66ca5d"/><circle cx="462.7" cy="836.9" r="5.0" fill="#219b89"/><circle cx="105.8" cy="886.5" r="5.0" fill="#21908c"/><circle cx="202.3" cy="868.1" r="5.0" fill="#45337e"/><circle cx="317.9" cy="854.1" r="5.0" fill="#3d4e89"/><circle cx="232.8" cy="876.4" r="5.0" fill="#433b82"/><circle cx="201.4" cy="1007.7" r="5.0" fill="#fbe725"/><circle cx="381.6" cy="757.2" r="5.0" fill="#3c508a"/><circle cx="367.0" cy="765.4" r="5.0" fill="#3a538a"/><circle cx="433.3" cy="796.8" r="5.0" fill="#28ac81"/><circle cx="197.3" cy="996.0" r="5.0" fill="#c5e026"/><circle cx="107.4" cy="877.9" r="5.0" fill="#45317c"/><circle cx="375.5" cy="854.3" r="5.0" fill="#bbdf27"/><circle cx="311.7" cy="859.2" r="5.0" fill="#2b758e"/><circle cx="246.0" cy="998.6" r="5.0" fill="#306c8e"/><circle cx="385.8" cy="862.5" r="5.0" fill="#45347e"/><circle cx="305.4" cy="766.0" r="5.0" fill="#461264"/><circle cx="338.9" cy="866.3" r="5.0" fill="#306a8d"/><circle cx="271.5" cy="1064.2" r="5.0" fill="#2d728e"/><circle cx="119.0" cy="934.3" r="5.0" fill="#472877"/><circle cx="255.6" cy="945.3" r="5.0" fill="#3dba74"/><circle cx="281.4" cy="813.6" r="5.0" fill="#423f84"/><circle cx="473.8" cy="895.1" r="5.0" fill="#482374"/><circle cx="408.4" cy="825.0" r="5.0" fill="#461163"/><circle cx="94.8" cy="896.2" r="5.0" fill="#461264"/><circle cx="460.7" cy="847.5" r="5.0" fill="#471769"/><circle cx="236.6" cy="895.1" r="5.0" fill="#443880"/><circle cx="487.5" cy="865.4" r="5.0" fill="#462e7b"/><circle cx="222.4" cy="889.4" r="5.0" fill="#e5e425"/><circle cx="496.7" cy="859.9" r="5.0" fill="#45317c"/><circle cx="160.8" cy="852.0" r="5.0" fill="#461062"/><circle cx="192.4" cy="940.7" r="5.0" fill="#2c748e"/><circle cx="428.3" cy="787.4" r="5.0" fill="#482676"/><circle cx="210.6" cy="921.6" r="5.0" fill="#45307c"/><circle cx="450.4" cy="777.1" r="5.0" fill="#471d6e"/><circle cx="209.1" cy="879.5" r="5.0" fill="#219889"/><circle cx="342.4" cy="855.0" r="5.0" fill="#22a386"/><circle cx="281.0" cy="789.0" r="5.0" fill="#44367f"/><circle cx="449.8" cy="781.7" r="5.0" fill="#462e7b"/><circle cx="196.4" cy="1016.5" r="5.0" fill="#e5e425"/><circle cx="139.5" cy="859.1" r="5.0" fill="#472978"/><circle cx="256.2" cy="819.7" r="5.0" fill="#45327d"/><circle cx="507.8" cy="812.3" r="5.0" fill="#3c508a"/><circle cx="313.4" cy="859.4" r="5.0" fill="#44357f"/><circle cx="318.8" cy="891.8" r="5.0" fill="#89d447"/><circle cx="351.2" cy="861.8" r="5.0" fill="#404687"/><circle cx="381.5" cy="767.9" r="5.0" fill="#24888d"/><circle cx="429.4" cy="808.5" r="5.0" fill="#440456"/><circle cx="109.7" cy="927.4" r="5.0" fill="#32658d"/><circle cx="452.7" cy="816.0" r="5.0" fill="#45307c"/><circle cx="365.8" cy="830.2" r="5.0" fill="#472877"/><circle cx="318.5" cy="837.6" r="5.0" fill="#462f7b"/><circle cx="420.1" cy="916.0" r="5.0" fill="#21918c"/><circle cx="574.0" cy="818.0" r="5.0" fill="#440154"/><circle cx="214.8" cy="857.9" r="5.0" fill="#21928c"/><circle cx="375.0" cy="828.0" r="5.0" fill="#45347e"/><circle cx="293.4" cy="791.5" r="5.0" fill="#44347e"/><circle cx="234.8" cy="1010.6" r="5.0" fill="#228e8c"/><circle cx="222.0" cy="903.1" r="5.0" fill="#93d641"/><circle cx="102.0" cy="913.3" r="5.0" fill="#3c508a"/><circle cx="238.3" cy="1026.8" r="5.0" fill="#28ac81"/><circle cx="99.5" cy="891.1" r="5.0" fill="#9cd83b"/><circle cx="146.2" cy="931.7" r="5.0" fill="#471c6e"/><circle cx="196.4" cy="878.4" r="5.0" fill="#219c88"/><circle cx="194.5" cy="1018.2" r="5.0" fill="#450d60"/><circle cx="433.6" cy="771.3" r="5.0" fill="#30b27c"/><circle cx="392.2" cy="753.2" r="5.0" fill="#45095c"/><circle cx="427.4" cy="821.0" r="5.0" fill="#45307c"/><circle cx="460.4" cy="770.6" r="5.0" fill="#462b79"/><circle cx="440.9" cy="819.3" r="5.0" fill="#45337e"/><circle cx="496.6" cy="867.3" r="5.0" fill="#414587"/><circle cx="365.9" cy="745.9" r="5.0" fill="#461164"/><circle cx="228.6" cy="1023.0" r="5.0" fill="#98d73d"/><circle cx="194.6" cy="920.4" r="5.0" fill="#306b8d"/><circle cx="485.5" cy="879.5" r="5.0" fill="#47196b"/><circle cx="246.0" cy="1026.8" r="5.0" fill="#52c468"/><circle cx="390.9" cy="848.0" r="5.0" fill="#471b6c"/><circle cx="117.1" cy="919.1" r="5.0" fill="#471b6d"/><circle cx="200.0" cy="1040.0" r="5.0" fill="#471a6c"/><circle cx="433.3" cy="834.5" r="5.0" fill="#482273"/><circle cx="243.2" cy="879.2" r="5.0" fill="#3b518a"/><circle cx="307.8" cy="873.5" r="5.0" fill="#32668d"/><circle cx="264.8" cy="1074.7" r="5.0" fill="#fce725"/><circle cx="389.0" cy="827.5" r="5.0" fill="#414286"/><circle cx="376.6" cy="765.7" r="5.0" fill="#462f7b"/><circle cx="120.0" cy="913.4" r="5.0" fill="#440356"/><circle cx="321.2" cy="824.8" r="5.0" fill="#24888d"/><circle cx="270.1" cy="801.0" r="5.0" fill="#462e7b"/><circle cx="148.9" cy="840.4" r="5.0" fill="#229d88"/><circle cx="427.3" cy="864.0" r="5.0" fill="#21988a"/><circle cx="249.4" cy="1049.0" r="5.0" fill="#c3e026"/><circle cx="497.1" cy="835.8" r="5.0" fill="#482676"/><circle cx="363.0" cy="896.2" r="5.0" fill="#26848d"/><circle cx="475.1" cy="801.7" r="5.0" fill="#21978a"/><circle cx="333.7" cy="752.5" r="5.0" fill="#45327d"/><circle cx="157.2" cy="822.9" r="5.0" fill="#472877"/><circle cx="457.3" cy="852.6" r="5.0" fill="#d4e226"/><circle cx="517.2" cy="816.4" r="5.0" fill="#21938b"/><circle cx="220.5" cy="882.3" r="5.0" fill="#472877"/><circle cx="300.9" cy="826.5" r="5.0" fill="#3e4b89"/><circle cx="213.6" cy="995.9" r="5.0" fill="#d4e226"/><circle cx="202.3" cy="862.3" r="5.0" fill="#461264"/><circle cx="193.5" cy="946.0" r="5.0" fill="#45095c"/><circle cx="560.0" cy="807.0" r="5.0" fill="#471c6e"/><circle cx="109.9" cy="896.5" r="5.0" fill="#450558"/><circle cx="531.6" cy="808.0" r="5.0" fill="#433c83"/><circle cx="348.7" cy="746.5" r="5.0" fill="#26ab82"/><circle cx="439.6" cy="807.8" r="5.0" fill="#44367f"/><circle cx="110.2" cy="889.6" r="5.0" fill="#45337e"/><circle cx="195.1" cy="994.0" r="5.0" fill="#8dd545"/><circle cx="110.8" cy="918.4" r="5.0" fill="#482273"/><circle cx="328.2" cy="865.7" r="5.0" fill="#460f61"/><circle cx="127.1" cy="903.7" r="5.0" fill="#c3e026"/><circle cx="277.5" cy="1070.1" r="5.0" fill="#34618d"/><circle cx="285.0" cy="1060.0" r="5.0" fill="#4ac16c"/><circle cx="144.9" cy="826.9" r="5.0" fill="#22a585"/><circle cx="160.5" cy="835.7" r="5.0" fill="#375a8c"/><circle cx="413.1" cy="872.6" r="5.0" fill="#25878d"/><circle cx="189.6" cy="854.3" r="5.0" fill="#440558"/><circle cx="111.1" cy="860.1" r="5.0" fill="#433d83"/><circle cx="168.9" cy="834.7" r="5.0" fill="#461264"/><circle cx="352.2" cy="866.8" r="5.0" fill="#355e8d"/><circle cx="395.7" cy="825.6" r="5.0" fill="#461466"/><circle cx="358.9" cy="859.7" r="5.0" fill="#3d4e89"/><circle cx="439.2" cy="763.0" r="5.0" fill="#472676"/><circle cx="204.0" cy="837.5" r="5.0" fill="#90d643"/><circle cx="224.6" cy="869.3" r="5.0" fill="#471c6e"/><circle cx="198.6" cy="891.7" r="5.0" fill="#b6dd2b"/><circle cx="233.2" cy="1048.2" r="5.0" fill="#ebe525"/><circle cx="162.2" cy="920.0" r="5.0" fill="#47196a"/><circle cx="314.6" cy="804.2" r="5.0" fill="#27808d"/><circle cx="216.1" cy="997.7" r="5.0" fill="#22a685"/><circle cx="506.5" cy="867.4" r="5.0" fill="#32b37a"/><circle cx="196.2" cy="852.1" r="5.0" fill="#471e6f"/><circle cx="383.6" cy="833.6" r="5.0" fill="#21948b"/><circle cx="260.6" cy="821.8" r="5.0" fill="#44367f"/><circle cx="550.0" cy="860.9" r="5.0" fill="#404587"/><circle cx="301.9" cy="801.8" r="5.0" fill="#450d5f"/><circle cx="297.3" cy="1073.0" r="5.0" fill="#bade28"/><circle cx="540.6" cy="842.4" r="5.0" fill="#39558b"/><circle cx="376.3" cy="746.4" r="5.0" fill="#297c8e"/><circle cx="187.2" cy="905.9" r="5.0" fill="#45317c"/><circle cx="163.9" cy="985.8" r="5.0" fill="#461164"/><circle cx="410.4" cy="835.3" r="5.0" fill="#b7de2a"/><circle cx="306.6" cy="824.2" r="5.0" fill="#26838d"/><circle cx="455.1" cy="848.1" r="5.0" fill="#471f70"/><circle cx="272.0" cy="1050.0" r="5.0" fill="#cbe126"/><circle cx="417.8" cy="853.8" r="5.0" fill="#450e60"/><circle cx="526.0" cy="821.1" r="5.0" fill="#21928c"/><circle cx="218.6" cy="1013.1" r="5.0" fill="#25aa82"/><circle cx="326.0" cy="844.4" r="5.0" fill="#219b89"/><circle cx="325.1" cy="795.1" r="5.0" fill="#45307c"/><circle cx="457.4" cy="791.1" r="5.0" fill="#44357f"/><circle cx="190.4" cy="983.6" r="5.0" fill="#219c88"/><circle cx="500.4" cy="814.4" r="5.0" fill="#25858d"/><circle cx="456.6" cy="776.6" r="5.0" fill="#22a685"/><circle cx="570.1" cy="811.6" r="5.0" fill="#297c8e"/><circle cx="465.8" cy="896.8" r="5.0" fill="#67cb5c"/><circle cx="442.9" cy="941.2" r="5.0" fill="#21918c"/><circle cx="350.0" cy="852.9" r="5.0" fill="#482273"/><circle cx="402.3" cy="741.3" r="5.0" fill="#450e60"/><circle cx="493.0" cy="917.5" r="5.0" fill="#472a79"/><circle cx="441.0" cy="882.2" r="5.0" fill="#471e6f"/><circle cx="164.9" cy="893.5" r="5.0" fill="#461567"/><circle cx="309.1" cy="796.1" r="5.0" fill="#450e60"/><circle cx="169.1" cy="990.9" r="5.0" fill="#efe525"/><circle cx="441.5" cy="839.6" r="5.0" fill="#2c738e"/><circle cx="278.2" cy="827.9" r="5.0" fill="#461768"/><circle cx="198.5" cy="884.4" r="5.0" fill="#471a6c"/><circle cx="384.1" cy="753.2" r="5.0" fill="#3d4d89"/><circle cx="477.0" cy="886.7" r="5.0" fill="#73cf55"/><circle cx="365.4" cy="987.4" r="5.0" fill="#482475"/><circle cx="103.4" cy="901.2" r="5.0" fill="#375b8c"/><circle cx="185.3" cy="894.6" r="5.0" fill="#450a5d"/><circle cx="208.4" cy="1004.6" r="5.0" fill="#ece525"/><circle cx="197.8" cy="843.8" r="5.0" fill="#472877"/><circle cx="126.3" cy="845.9" r="5.0" fill="#443881"/><circle cx="245.1" cy="1038.8" r="5.0" fill="#c0df26"/><circle cx="126.7" cy="839.5" r="5.0" fill="#461566"/><circle cx="157.3" cy="843.2" r="5.0" fill="#443780"/><circle cx="379.3" cy="808.7" r="5.0" fill="#461567"/><circle cx="225.9" cy="842.6" r="5.0" fill="#462f7b"/><circle cx="446.7" cy="867.1" r="5.0" fill="#404687"/><circle cx="392.1" cy="836.7" r="5.0" fill="#433b82"/><circle cx="209.5" cy="888.9" r="5.0" fill="#45327d"/><circle cx="120.9" cy="925.5" r="5.0" fill="#f7e625"/><circle cx="426.1" cy="872.8" r="5.0" fill="#3d4d89"/><circle cx="433.6" cy="821.8" r="5.0" fill="#462e7b"/><circle cx="387.2" cy="845.2" r="5.0" fill="#33648d"/><circle cx="188.7" cy="974.7" r="5.0" fill="#26ab82"/><circle cx="446.4" cy="893.7" r="5.0" fill="#22a386"/><circle cx="174.4" cy="843.9" r="5.0" fill="#460f61"/><circle cx="402.2" cy="889.2" r="5.0" fill="#34628d"/><circle cx="295.4" cy="825.2" r="5.0" fill="#472877"/><circle cx="311.7" cy="855.2" r="5.0" fill="#450b5d"/><circle cx="343.6" cy="833.1" r="5.0" fill="#414587"/><circle cx="419.3" cy="754.1" r="5.0" fill="#32668d"/><circle cx="359.6" cy="790.0" r="5.0" fill="#297b8e"/><circle cx="416.1" cy="791.0" r="5.0" fill="#27828d"/><circle cx="168.8" cy="859.2" r="5.0" fill="#3a548b"/><circle cx="199.2" cy="1022.0" r="5.0" fill="#dbe326"/><circle cx="470.2" cy="918.4" r="5.0" fill="#eae525"/><circle cx="506.0" cy="881.4" r="5.0" fill="#443780"/><circle cx="185.3" cy="982.4" r="5.0" fill="#31688d"/><circle cx="335.4" cy="830.7" r="5.0" fill="#2eb07d"/><circle cx="329.2" cy="837.9" r="5.0" fill="#3f4988"/><circle cx="235.7" cy="1031.9" r="5.0" fill="#85d34a"/><circle cx="447.7" cy="764.6" r="5.0" fill="#471d6f"/><circle cx="431.8" cy="817.5" r="5.0" fill="#2caf7e"/><circle cx="413.4" cy="758.3" r="5.0" fill="#44367f"/><circle cx="198.0" cy="1005.0" r="5.0" fill="#eee525"/><circle cx="296.4" cy="1046.5" r="5.0" fill="#26ab82"/><circle cx="297.2" cy="1071.4" r="5.0" fill="#dde326"/><circle cx="216.8" cy="904.8" r="5.0" fill="#25858d"/><circle cx="455.6" cy="801.7" r="5.0" fill="#471f70"/><circle cx="218.2" cy="899.5" r="5.0" fill="#25aa82"/><circle cx="410.6" cy="793.4" r="5.0" fill="#482475"/><circle cx="446.4" cy="778.9" r="5.0" fill="#404788"/><circle cx="173.6" cy="927.7" r="5.0" fill="#462d7a"/><circle cx="156.3" cy="933.5" r="5.0" fill="#287e8e"/><circle cx="557.2" cy="873.6" r="5.0" fill="#31698d"/><circle cx="220.3" cy="1049.0" r="5.0" fill="#ede525"/><circle cx="489.6" cy="790.5" r="5.0" fill="#450c5e"/><circle cx="566.7" cy="873.5" r="5.0" fill="#31678d"/><circle cx="223.7" cy="1048.2" r="5.0" fill="#d1e126"/><circle cx="178.0" cy="828.5" r="5.0" fill="#462f7b"/><circle cx="228.4" cy="985.9" r="5.0" fill="#34608d"/><circle cx="311.7" cy="869.2" r="5.0" fill="#471d6e"/><circle cx="191.0" cy="871.9" r="5.0" fill="#3d4c89"/><circle cx="323.0" cy="755.1" r="5.0" fill="#461365"/><circle cx="169.2" cy="883.5" r="5.0" fill="#433981"/><circle cx="323.0" cy="807.7" r="5.0" fill="#2db07d"/><circle cx="175.9" cy="978.1" r="5.0" fill="#e4e425"/><circle cx="256.7" cy="815.1" r="5.0" fill="#21938b"/><circle cx="175.5" cy="906.6" r="5.0" fill="#45085b"/><circle cx="203.2" cy="1033.6" r="5.0" fill="#27ab81"/><circle cx="572.7" cy="878.0" r="5.0" fill="#44bf70"/><circle cx="376.1" cy="843.8" r="5.0" fill="#482575"/><circle cx="192.7" cy="894.5" r="5.0" fill="#34618d"/><circle cx="232.3" cy="1028.5" r="5.0" fill="#26828d"/><circle cx="142.3" cy="846.5" r="5.0" fill="#45095b"/><circle cx="141.6" cy="868.6" r="5.0" fill="#31678d"/><circle cx="414.9" cy="838.5" r="5.0" fill="#460f61"/><circle cx="161.0" cy="884.7" r="5.0" fill="#461264"/><circle cx="201.5" cy="982.4" r="5.0" fill="#2c738e"/><circle cx="132.3" cy="845.4" r="5.0" fill="#450c5e"/><circle cx="318.6" cy="878.2" r="5.0" fill="#38598c"/><circle cx="116.5" cy="923.3" r="5.0" fill="#414487"/><circle cx="406.2" cy="809.6" r="5.0" fill="#461063"/><circle cx="201.2" cy="938.9" r="5.0" fill="#450a5d"/><circle cx="387.5" cy="788.1" r="5.0" fill="#37598c"/><circle cx="474.6" cy="812.2" r="5.0" fill="#3a538a"/><circle cx="310.6" cy="886.7" r="5.0" fill="#6bcc59"/></g>
<text transform="translate(2.27,696.90) scale(1.1060,1)" font-size="36.50" font-weight="bold" stroke="#000" stroke-width="1.6" stroke-linejoin="round">c</text>
<path d="M52.6,719.9 V1128.6 H625.7" fill="none" stroke="#000" stroke-width="2.3"/>
<text transform="translate(75.41,757.80) scale(1.0255,1)" font-size="26.00">NQO1</text>
<text transform="translate(37.90,970.33) rotate(-90) scale(0.9520,1)" font-size="28.00">UMAP2</text>
<text transform="translate(294.69,1162.30) scale(0.8966,1)" font-size="28.00">UMAP1</text>
<rect x="433.2" y="1089.5" width="128" height="13.7" fill="url(#virg)" fill-opacity="0.85" stroke="#000" stroke-width="0.8"/>
<text transform="translate(409.10,1106.10) scale(1.0158,1)" font-size="27.00">5</text>
<text transform="translate(569.73,1106.10) scale(0.9129,1)" font-size="27.00">15</text>
<text transform="translate(868,430) rotate(-45) scale(1.0800,1)" font-size="27.00" xml:space="preserve"><tspan x="-116.86" y="0.00">Untreated</tspan></text>
<text transform="translate(927,430) rotate(-45) scale(0.9800,1)" font-size="27.00" xml:space="preserve"><tspan x="-70.58" y="0.00">TBHP</tspan></text>
<text transform="translate(983,431) rotate(-45) scale(0.9700,1)" font-size="27.00" xml:space="preserve"><tspan x="-178.11" y="0.00">TBHP + CoQ</tspan><tspan x="-20.30" y="6.75" font-size="18.90">10</tspan></text>
<text transform="translate(1037,428) rotate(-45) scale(0.9700,1)" font-size="27.00" xml:space="preserve"><tspan x="-152.36" y="0.00">TBHP + QH</tspan><tspan x="-9.56" y="6.75" font-size="18.90">2</tspan></text>
</svg></body></html>
